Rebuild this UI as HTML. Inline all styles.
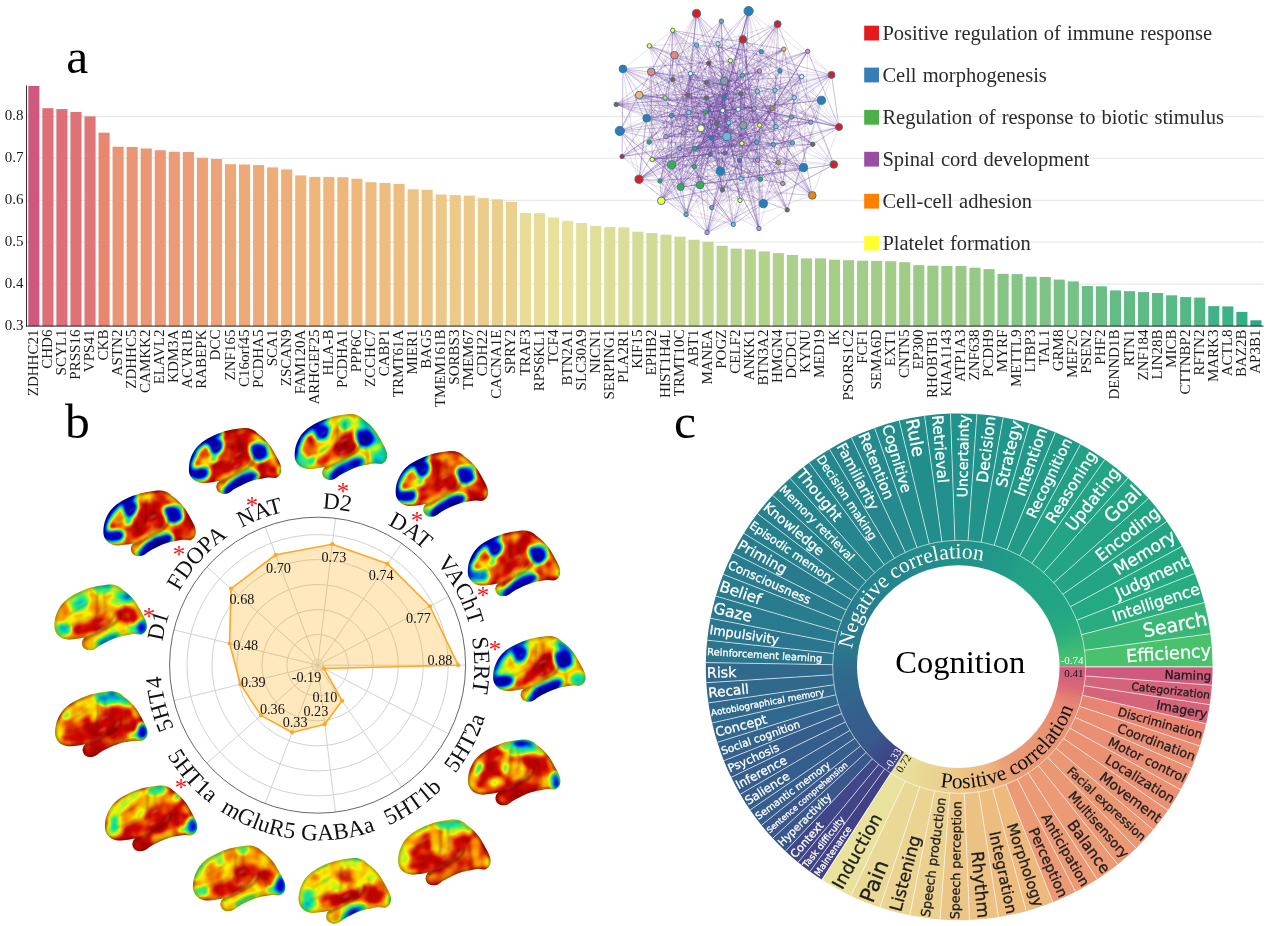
<!DOCTYPE html>
<html lang="en">
<head>
<meta charset="utf-8">
<title>Figure</title>
<style>
html,body{margin:0;padding:0;background:#fff;}
body{width:1269px;height:926px;overflow:hidden;}
svg{display:block;filter:blur(0.35px);}
</style>
</head>
<body>
<svg width="1269" height="926" viewBox="0 0 1269 926" role="img" aria-label="Figure with bar chart, network, radar chart with brain maps and sunburst chart">
<rect width="1269" height="926" fill="#fff"/>
<g id="bars">
<line x1="27" x2="1263.5" y1="284.1" y2="284.1" stroke="#e9e9e9" stroke-width="1.3"/>
<line x1="27" x2="1263.5" y1="242.2" y2="242.2" stroke="#e9e9e9" stroke-width="1.3"/>
<line x1="27" x2="1263.5" y1="200.3" y2="200.3" stroke="#e9e9e9" stroke-width="1.3"/>
<line x1="27" x2="1263.5" y1="158.4" y2="158.4" stroke="#e9e9e9" stroke-width="1.3"/>
<line x1="27" x2="1263.5" y1="116.5" y2="116.5" stroke="#e9e9e9" stroke-width="1.3"/>
<rect x="28.3" y="86" width="11.1" height="240" fill="#cf597e"/>
<rect x="42.35" y="108.2" width="11.1" height="217.8" fill="#dc6f77"/>
<rect x="56.39" y="109.1" width="11.1" height="216.9" fill="#dc6f77"/>
<rect x="70.44" y="112" width="11.1" height="214" fill="#de7276"/>
<rect x="84.49" y="116.4" width="11.1" height="209.6" fill="#e07675"/>
<rect x="98.53" y="132.7" width="11.1" height="193.3" fill="#e88671"/>
<rect x="112.58" y="146.7" width="11.1" height="179.3" fill="#ea9574"/>
<rect x="126.63" y="147" width="11.1" height="179" fill="#ea9674"/>
<rect x="140.68" y="148.5" width="11.1" height="177.5" fill="#ea9774"/>
<rect x="154.72" y="150.2" width="11.1" height="175.8" fill="#eb9975"/>
<rect x="168.77" y="151.7" width="11.1" height="174.3" fill="#eb9b75"/>
<rect x="182.82" y="152" width="11.1" height="174" fill="#eb9b75"/>
<rect x="196.86" y="157.8" width="11.1" height="168.2" fill="#eca176"/>
<rect x="210.91" y="159" width="11.1" height="167" fill="#eca376"/>
<rect x="224.96" y="164.2" width="11.1" height="161.8" fill="#eda877"/>
<rect x="239.01" y="164.5" width="11.1" height="161.5" fill="#eda977"/>
<rect x="253.05" y="165.1" width="11.1" height="160.9" fill="#eda977"/>
<rect x="267.1" y="167.4" width="11.1" height="158.6" fill="#edac78"/>
<rect x="281.15" y="169.4" width="11.1" height="156.6" fill="#edae78"/>
<rect x="295.19" y="175.4" width="11.1" height="150.6" fill="#eeb479"/>
<rect x="309.24" y="176.9" width="11.1" height="149.1" fill="#eeb67a"/>
<rect x="323.29" y="176.9" width="11.1" height="149.1" fill="#eeb67a"/>
<rect x="337.33" y="177.2" width="11.1" height="148.8" fill="#eeb67b"/>
<rect x="351.38" y="178.7" width="11.1" height="147.3" fill="#eeb87c"/>
<rect x="365.43" y="182.2" width="11.1" height="143.8" fill="#edbb7f"/>
<rect x="379.48" y="183" width="11.1" height="143" fill="#edbc7f"/>
<rect x="393.52" y="184" width="11.1" height="142" fill="#edbd80"/>
<rect x="407.57" y="189.3" width="11.1" height="136.7" fill="#ecc384"/>
<rect x="421.62" y="189.8" width="11.1" height="136.2" fill="#ecc385"/>
<rect x="435.66" y="194.5" width="11.1" height="131.5" fill="#ecc888"/>
<rect x="449.71" y="195.1" width="11.1" height="130.9" fill="#ecc989"/>
<rect x="463.76" y="195.6" width="11.1" height="130.4" fill="#ecc989"/>
<rect x="477.8" y="198.1" width="11.1" height="127.9" fill="#ebcc8b"/>
<rect x="491.85" y="199.3" width="11.1" height="126.7" fill="#ebcd8c"/>
<rect x="505.9" y="201.9" width="11.1" height="124.1" fill="#ebd08e"/>
<rect x="519.95" y="213" width="11.1" height="113" fill="#eadb97"/>
<rect x="533.99" y="213.2" width="11.1" height="112.8" fill="#eadb97"/>
<rect x="548.04" y="217.5" width="11.1" height="108.5" fill="#e9e09a"/>
<rect x="562.09" y="220.8" width="11.1" height="105.2" fill="#e7e19b"/>
<rect x="576.13" y="223" width="11.1" height="103" fill="#e3e09a"/>
<rect x="590.18" y="225.8" width="11.1" height="100.2" fill="#dedf99"/>
<rect x="604.23" y="227.1" width="11.1" height="98.9" fill="#dcde98"/>
<rect x="618.27" y="227.4" width="11.1" height="98.6" fill="#dbde98"/>
<rect x="632.32" y="231.7" width="11.1" height="94.3" fill="#d4dc96"/>
<rect x="646.37" y="233" width="11.1" height="93" fill="#d2db95"/>
<rect x="660.41" y="234.7" width="11.1" height="91.3" fill="#cfda95"/>
<rect x="674.46" y="236.7" width="11.1" height="89.3" fill="#cbd994"/>
<rect x="688.51" y="239.8" width="11.1" height="86.2" fill="#c6d892"/>
<rect x="702.56" y="241.8" width="11.1" height="84.2" fill="#c3d791"/>
<rect x="716.6" y="245.8" width="11.1" height="80.2" fill="#bcd48f"/>
<rect x="730.65" y="248.6" width="11.1" height="77.4" fill="#b7d38e"/>
<rect x="744.7" y="249.3" width="11.1" height="76.7" fill="#b6d38d"/>
<rect x="758.74" y="251.4" width="11.1" height="74.6" fill="#b2d28c"/>
<rect x="772.79" y="253.1" width="11.1" height="72.9" fill="#afd18b"/>
<rect x="786.84" y="254.9" width="11.1" height="71.1" fill="#acd08b"/>
<rect x="800.88" y="258.4" width="11.1" height="67.6" fill="#a6ce89"/>
<rect x="814.93" y="258.4" width="11.1" height="67.6" fill="#a6ce89"/>
<rect x="828.98" y="259.7" width="11.1" height="66.3" fill="#a4cd88"/>
<rect x="843.03" y="260.2" width="11.1" height="65.8" fill="#a3cd88"/>
<rect x="857.07" y="260.7" width="11.1" height="65.3" fill="#a2cd88"/>
<rect x="871.12" y="260.9" width="11.1" height="65.1" fill="#a2cd88"/>
<rect x="885.17" y="261.2" width="11.1" height="64.8" fill="#a1cd87"/>
<rect x="899.21" y="262.2" width="11.1" height="63.8" fill="#9fcc87"/>
<rect x="913.26" y="265.1" width="11.1" height="60.9" fill="#9aca86"/>
<rect x="927.31" y="265.7" width="11.1" height="60.3" fill="#99ca86"/>
<rect x="941.36" y="265.9" width="11.1" height="60.1" fill="#98ca86"/>
<rect x="955.4" y="265.9" width="11.1" height="60.1" fill="#98ca86"/>
<rect x="969.45" y="267.7" width="11.1" height="58.3" fill="#94c986"/>
<rect x="983.5" y="269.1" width="11.1" height="56.9" fill="#91c886"/>
<rect x="997.54" y="273.8" width="11.1" height="52.2" fill="#87c586"/>
<rect x="1011.59" y="274.1" width="11.1" height="51.9" fill="#86c586"/>
<rect x="1025.64" y="276.7" width="11.1" height="49.3" fill="#80c486"/>
<rect x="1039.68" y="277" width="11.1" height="49" fill="#7fc386"/>
<rect x="1053.73" y="279.6" width="11.1" height="46.4" fill="#7ac286"/>
<rect x="1067.78" y="281.4" width="11.1" height="44.6" fill="#76c186"/>
<rect x="1081.83" y="286" width="11.1" height="40" fill="#6bbe86"/>
<rect x="1095.87" y="286.3" width="11.1" height="39.7" fill="#6bbe86"/>
<rect x="1109.92" y="290.4" width="11.1" height="35.6" fill="#62bc85"/>
<rect x="1123.97" y="291.2" width="11.1" height="34.8" fill="#60bb85"/>
<rect x="1138.01" y="292.1" width="11.1" height="33.9" fill="#5ebb85"/>
<rect x="1152.06" y="293" width="11.1" height="33" fill="#5cba85"/>
<rect x="1166.11" y="295.3" width="11.1" height="30.7" fill="#57b985"/>
<rect x="1180.15" y="297.1" width="11.1" height="28.9" fill="#53b885"/>
<rect x="1194.2" y="297.6" width="11.1" height="28.4" fill="#52b785"/>
<rect x="1208.25" y="306.1" width="11.1" height="19.9" fill="#3fb385"/>
<rect x="1222.3" y="306.4" width="11.1" height="19.6" fill="#3eb285"/>
<rect x="1236.34" y="311.9" width="11.1" height="14.1" fill="#35af86"/>
<rect x="1250.39" y="320.3" width="11.1" height="5.7" fill="#2aa988"/>
<line x1="26.5" x2="26.5" y1="85.5" y2="326.6" stroke="#1a1a1a" stroke-width="0.9"/>
<line x1="26" x2="1263.5" y1="326.1" y2="326.1" stroke="#1a1a1a" stroke-width="1"/>
<g font-family="'Liberation Serif', serif" font-size="15" fill="#1a1a1a" text-anchor="end">
<text x="23.4" y="329.7">0.3</text>
<text x="23.4" y="287.8">0.4</text>
<text x="23.4" y="245.9">0.5</text>
<text x="23.4" y="204">0.6</text>
<text x="23.4" y="162.1">0.7</text>
<text x="23.4" y="120.2">0.8</text>
</g>
<g font-family="'Liberation Serif', serif" font-size="15" fill="#1a1a1a" text-anchor="end">
<text transform="translate(37.85,329.6) rotate(-90)">ZDHHC21</text>
<text transform="translate(51.9,329.6) rotate(-90)">CHD6</text>
<text transform="translate(65.94,329.6) rotate(-90)">SCYL1</text>
<text transform="translate(79.99,329.6) rotate(-90)">PRSS16</text>
<text transform="translate(94.04,329.6) rotate(-90)">VPS41</text>
<text transform="translate(108.08,329.6) rotate(-90)">CKB</text>
<text transform="translate(122.13,329.6) rotate(-90)">ASTN2</text>
<text transform="translate(136.18,329.6) rotate(-90)">ZDHHC5</text>
<text transform="translate(150.23,329.6) rotate(-90)">CAMKK2</text>
<text transform="translate(164.27,329.6) rotate(-90)">ELAVL2</text>
<text transform="translate(178.32,329.6) rotate(-90)">KDM3A</text>
<text transform="translate(192.37,329.6) rotate(-90)">ACVR1B</text>
<text transform="translate(206.41,329.6) rotate(-90)">RABEPK</text>
<text transform="translate(220.46,329.6) rotate(-90)">DCC</text>
<text transform="translate(234.51,329.6) rotate(-90)">ZNF165</text>
<text transform="translate(248.56,329.6) rotate(-90)">C16orf45</text>
<text transform="translate(262.6,329.6) rotate(-90)">PCDHA5</text>
<text transform="translate(276.65,329.6) rotate(-90)">SCA1</text>
<text transform="translate(290.7,329.6) rotate(-90)">ZSCAN9</text>
<text transform="translate(304.74,329.6) rotate(-90)">FAM120A</text>
<text transform="translate(318.79,329.6) rotate(-90)">ARHGEF25</text>
<text transform="translate(332.84,329.6) rotate(-90)">HLA-B</text>
<text transform="translate(346.88,329.6) rotate(-90)">PCDHA1</text>
<text transform="translate(360.93,329.6) rotate(-90)">PPP6C</text>
<text transform="translate(374.98,329.6) rotate(-90)">ZCCHC7</text>
<text transform="translate(389.03,329.6) rotate(-90)">CABP1</text>
<text transform="translate(403.07,329.6) rotate(-90)">TRMT61A</text>
<text transform="translate(417.12,329.6) rotate(-90)">MIER1</text>
<text transform="translate(431.17,329.6) rotate(-90)">BAG5</text>
<text transform="translate(445.21,329.6) rotate(-90)">TMEM161B</text>
<text transform="translate(459.26,329.6) rotate(-90)">SORBS3</text>
<text transform="translate(473.31,329.6) rotate(-90)">TMEM67</text>
<text transform="translate(487.35,329.6) rotate(-90)">CDH22</text>
<text transform="translate(501.4,329.6) rotate(-90)">CACNA1E</text>
<text transform="translate(515.45,329.6) rotate(-90)">SPRY2</text>
<text transform="translate(529.5,329.6) rotate(-90)">TRAF3</text>
<text transform="translate(543.54,329.6) rotate(-90)">RPS6KL1</text>
<text transform="translate(557.59,329.6) rotate(-90)">TCF4</text>
<text transform="translate(571.64,329.6) rotate(-90)">BTN2A1</text>
<text transform="translate(585.68,329.6) rotate(-90)">SLC30A9</text>
<text transform="translate(599.73,329.6) rotate(-90)">NICN1</text>
<text transform="translate(613.78,329.6) rotate(-90)">SERPING1</text>
<text transform="translate(627.82,329.6) rotate(-90)">PLA2R1</text>
<text transform="translate(641.87,329.6) rotate(-90)">KIF15</text>
<text transform="translate(655.92,329.6) rotate(-90)">EPHB2</text>
<text transform="translate(669.96,329.6) rotate(-90)">HIST1H4L</text>
<text transform="translate(684.01,329.6) rotate(-90)">TRMT10C</text>
<text transform="translate(698.06,329.6) rotate(-90)">ABT1</text>
<text transform="translate(712.11,329.6) rotate(-90)">MANEA</text>
<text transform="translate(726.15,329.6) rotate(-90)">POGZ</text>
<text transform="translate(740.2,329.6) rotate(-90)">CELF2</text>
<text transform="translate(754.25,329.6) rotate(-90)">ANKK1</text>
<text transform="translate(768.29,329.6) rotate(-90)">BTN3A2</text>
<text transform="translate(782.34,329.6) rotate(-90)">HMGN4</text>
<text transform="translate(796.39,329.6) rotate(-90)">DCDC1</text>
<text transform="translate(810.43,329.6) rotate(-90)">KYNU</text>
<text transform="translate(824.48,329.6) rotate(-90)">MED19</text>
<text transform="translate(838.53,329.6) rotate(-90)">IK</text>
<text transform="translate(852.58,329.6) rotate(-90)">PSORS1C2</text>
<text transform="translate(866.62,329.6) rotate(-90)">FCF1</text>
<text transform="translate(880.67,329.6) rotate(-90)">SEMA6D</text>
<text transform="translate(894.72,329.6) rotate(-90)">EXT1</text>
<text transform="translate(908.76,329.6) rotate(-90)">CNTN5</text>
<text transform="translate(922.81,329.6) rotate(-90)">EP300</text>
<text transform="translate(936.86,329.6) rotate(-90)">RHOBTB1</text>
<text transform="translate(950.9,329.6) rotate(-90)">KIAA1143</text>
<text transform="translate(964.95,329.6) rotate(-90)">ATP1A3</text>
<text transform="translate(979,329.6) rotate(-90)">ZNF638</text>
<text transform="translate(993.05,329.6) rotate(-90)">PCDH9</text>
<text transform="translate(1007.09,329.6) rotate(-90)">MYRF</text>
<text transform="translate(1021.14,329.6) rotate(-90)">METTL9</text>
<text transform="translate(1035.19,329.6) rotate(-90)">LTBP3</text>
<text transform="translate(1049.23,329.6) rotate(-90)">TAL1</text>
<text transform="translate(1063.28,329.6) rotate(-90)">GRM8</text>
<text transform="translate(1077.33,329.6) rotate(-90)">MEF2C</text>
<text transform="translate(1091.38,329.6) rotate(-90)">PSEN2</text>
<text transform="translate(1105.42,329.6) rotate(-90)">PHF2</text>
<text transform="translate(1119.47,329.6) rotate(-90)">DENND1B</text>
<text transform="translate(1133.52,329.6) rotate(-90)">RTN1</text>
<text transform="translate(1147.56,329.6) rotate(-90)">ZNF184</text>
<text transform="translate(1161.61,329.6) rotate(-90)">LIN28B</text>
<text transform="translate(1175.66,329.6) rotate(-90)">MICB</text>
<text transform="translate(1189.7,329.6) rotate(-90)">CTTNBP2</text>
<text transform="translate(1203.75,329.6) rotate(-90)">RFTN2</text>
<text transform="translate(1217.8,329.6) rotate(-90)">MARK3</text>
<text transform="translate(1231.85,329.6) rotate(-90)">ACTL8</text>
<text transform="translate(1245.89,329.6) rotate(-90)">BAZ2B</text>
<text transform="translate(1259.94,329.6) rotate(-90)">AP3B1</text>
</g>
</g>
<g id="network">
<path d="M665.1 97.9L724 97.2M639.2 95.1L686.1 214.5M756.6 142.3L792.4 142.8M812.3 195.4L759.7 125.2M680.7 187.1L821.4 100.3M776 126.7L740 200.3M671.6 164.8L688.7 112.5M696.5 13.5L775 90.2M783.8 49.2L724.2 81.1M739.5 160.4L787.2 209.9M730.4 60.6L710.2 154.4M718 43.8L763.3 203.7M616.2 104.4L773.5 144.6M639.2 95.1L722.4 189.9M696.5 13.5L708.7 63.2M700.1 185L833.8 164.5M726.8 136.6L758.9 228.5M740.8 93.8L787.2 209.9M807.7 51.3L688.7 112.5M619.8 130.9L761.3 51.6M622.1 156.5L672.7 79.5M763.3 203.7L782.8 183.5M718 43.8L742.4 75.4M721.4 21.2L679.7 148.5M661.3 200.8L757.6 160.1M661.3 200.8L779.9 71M616.2 104.4L739.5 160.4M724 97.2L649.1 142M741.8 143.3L649.1 142M782.8 183.5L707.1 232.4M646.7 118.2L690.5 73.6M794.2 97.7L665.9 136.6M724 97.2L792.4 142.8M672.7 30.3L688.7 112.5M661.3 200.8L730.4 60.6M772.2 108.3L756.6 142.3M616.2 104.4L757.6 160.1M646.7 118.2L783.8 49.2M718 43.8L651.2 71.8M833.8 164.5L679.7 148.5M724.2 81.1L694.2 166.6M738.2 109.3L758.9 228.5M721.4 21.2L700.1 185M724 97.2L652.2 159.4M761.3 51.6L711.8 207.6M651.2 71.8L639 179.3M763.3 203.7L724.2 81.1M696.5 45.1L700.1 185M839 127L759.5 71M787.2 209.9L758.9 228.5M705.6 111.9L741.8 143.3M720.3 171L688.7 112.5M720.3 171L763.3 203.7M759.7 125.2L725 153.1M730.4 60.6L672.7 79.5M674.5 55.2L772.2 108.3M801.7 76.7L711.8 207.6M775 90.2L686.1 214.5M700.1 185L722.7 110.6M674.5 55.2L831.5 74.9M742.4 75.4L728.6 122.6M740.8 93.8L743.4 125.4M812.3 195.4L741.8 143.3M721.4 21.2L706.3 97.9M721.4 21.2L810.8 122.3M708.7 63.2L740 200.3M672.7 30.3L757.6 160.1M671.4 115.6L773.5 144.6M761.3 51.6L757.4 91.2M742.9 39.4L763.3 203.7M718 43.8L726.8 136.6M672.7 30.3L711 137.9M688.7 112.5L810.8 122.3M757.6 160.1L778.4 162.7M779.9 71L801.7 76.7M720.3 171L801.7 76.7M720.3 171L708.7 63.2M831.5 74.9L683.3 132.9M720.3 171L730.4 60.6M708.7 63.2L725 153.1M783.8 49.2L812.8 144.3M720.3 171L831.5 74.9M708.7 63.2L743.4 125.4M651.2 71.8L724.2 81.1M757.4 91.2L671.4 115.6M740.8 93.8L810.8 122.3M705.6 111.9L776 126.7M696.5 45.1L649.1 142M690.5 73.6L694.9 148.5M619.8 130.9L722.7 110.6M622.9 68.9L724.2 81.1M739.5 160.4L758.9 228.5M773.5 144.6L694.9 148.5M680.7 187.1L700.1 185M706.3 82.4L782.8 183.5M646.7 118.2L724 97.2M759.5 71L743.4 125.4M672.7 30.3L639 179.3M716.7 123.3L739.5 160.4M661.3 200.8L671.4 115.6M722.7 110.6L665.9 136.6M646.7 118.2L694.9 148.5M706.3 82.4L791.6 117.1M759.5 71L776 126.7M649.1 142L741.1 178.5M671.4 115.6L694.2 166.6M821.4 100.3L778.4 162.7M708.7 63.2L665.9 136.6M763.3 203.7L739.5 160.4M680.7 187.1L679.7 148.5M720.3 171L711 137.9M680.7 187.1L722.7 110.6M742.4 75.4L741.1 178.5M742.9 39.4L776 126.7M722.7 110.6L700.9 128.3M696.5 45.1L757.4 91.2M700.1 185L683.3 132.9M639.2 95.1L711 137.9M810.8 122.3L759.7 125.2M622.1 156.5L686.1 214.5M661.3 200.8L724.2 81.1M646.7 118.2L831.5 74.9M743.4 125.4L758.9 228.5M651.2 71.8L740.8 93.8M708.7 63.2L812.8 144.3M687.7 95.1L660 180.9M687.7 95.1L705.6 111.9M754.3 108.6L772.2 108.3M807.7 51.3L754.3 108.6M724.2 81.1L740.8 93.8M616.2 104.4L783.8 49.2M616.2 104.4L779.9 71M833.8 164.5L759.5 71M622.9 68.9L733.3 224.4M651.2 71.8L686.1 214.5M711 137.9L773.5 144.6M779.9 71L707.1 232.4M661.3 200.8L716.7 123.3M743.4 125.4L711.8 207.6M726.8 136.6L694.2 166.6M726.8 136.6L741.8 143.3M700.1 185L778.4 162.7M742.9 39.4L690.5 73.6M711 137.9L694.9 148.5M679.7 148.5L782.8 183.5M696.5 45.1L724.2 81.1M724 97.2L812.8 144.3M812.8 144.3L741.1 178.5M672.7 79.5L700.9 128.3M683.3 132.9L710.2 154.4M661.3 200.8L733.3 224.4M740.8 93.8L757.6 160.1M639 179.3L728.6 122.6M821.4 100.3L665.1 97.9M705.6 111.9L694.9 148.5M622.1 156.5L649.1 142M672.7 30.3L716.7 123.3M720.3 171L782.8 183.5M833.8 164.5L801.7 76.7M794.2 97.7L778.4 162.7M622.1 156.5L665.9 136.6M801.7 76.7L757.6 160.1M773.5 144.6L812.8 144.3M706.3 82.4L759.5 71M708.7 63.2L728.6 122.6M690.5 73.6L738.2 109.3M839 127L687.7 95.1M649.3 45.9L700.1 185M639 179.3L773.5 144.6M706.3 97.9L725 153.1M821.4 100.3L754.3 108.6M722.7 110.6L694.9 148.5M831.5 74.9L706.3 97.9M743.4 125.4L679.7 148.5M794.2 97.7L810.8 122.3M794.2 97.7L743.4 125.4M649.3 45.9L756.6 142.3M661.3 200.8L776 126.7M661.3 200.8L671.6 164.8M807.7 51.3L706.3 82.4M763.3 203.7L730.4 60.6M773.5 144.6L725 153.1M622.9 68.9L728.6 122.6M783.8 49.2L742.4 75.4M803.5 167.6L778.4 162.7M639 179.3L776 126.7M686.1 214.5L733.3 224.4M821.4 100.3L711.8 207.6M616.2 104.4L711 137.9M649.1 142L722.4 189.9M672.7 79.5L724 97.2M700.9 128.3L743.4 125.4M801.7 76.7L694.9 148.5M759.5 71L710.2 154.4M679.7 148.5L660 180.9M687.7 95.1L652.2 159.4M639 179.3L763.3 203.7M757.4 91.2L743.4 125.4M803.5 167.6L792.4 142.8M651.2 71.8L649.1 142M639.2 95.1L724 97.2M803.5 167.6L671.4 115.6M763.3 203.7L759.7 125.2M748.6 11.1L724 97.2M674.5 55.2L728.6 122.6M741.8 143.3L778.4 162.7M759.5 71L792.4 142.8M696.5 13.5L791.6 117.1M694.2 166.6L741.1 178.5M616.2 104.4L686.1 214.5M791.6 117.1L716.7 123.3M724.2 81.1L773.5 144.6M651.2 71.8L622.9 68.9M708.7 63.2L773.5 144.6M671.6 164.8L763.3 203.7M803.5 167.6L807.7 51.3M833.8 164.5L652.2 159.4M742.9 39.4L649.3 45.9M728.6 122.6L740 200.3M742.9 39.4L680.7 187.1M724.2 81.1L722.7 110.6M716.7 123.3L782.8 183.5M783.8 49.2L694.9 148.5M700.1 185L792.4 142.8M779.9 71L759.7 125.2M821.4 100.3L783.8 49.2M777.6 24.1L728.6 122.6M690.5 73.6L679.7 148.5M791.6 117.1L683.3 132.9M687.7 95.1L722.4 189.9M725 153.1L652.2 159.4M821.4 100.3L707.1 232.4M708.7 63.2L711 137.9M696.5 13.5L660 180.9M757.4 91.2L772.2 108.3M649.3 45.9L839 127M649.3 45.9L821.4 100.3M759.5 71L722.7 110.6M742.9 39.4L821.4 100.3M738.2 109.3L739.5 160.4M763.3 203.7L688.7 112.5M761.3 51.6L779.9 71M665.9 136.6L711 137.9M831.5 74.9L787.2 209.9M807.7 51.3L705.6 111.9M690.5 73.6L743.4 125.4M671.6 164.8L711 137.9M783.8 49.2L730.4 60.6M639 179.3L711.8 207.6M839 127L773.5 144.6M730.4 60.6L711 137.9M839 127L756.6 142.3M649.3 45.9L680.7 187.1M810.8 122.3L773.5 144.6M803.5 167.6L688.7 112.5M757.4 91.2L740 200.3M831.5 74.9L743.4 125.4M743.4 125.4L759.7 125.2M792.4 142.8L694.9 148.5M722.7 110.6L710.2 154.4M754.3 108.6L759.7 125.2M720.3 171L733.3 224.4M672.7 79.5L724.2 81.1M700.1 185L710.2 154.4M671.6 164.8L720.3 171M720.3 171L757.6 160.1M721.4 21.2L646.7 118.2M748.6 11.1L831.5 74.9M742.4 75.4L724 97.2M748.6 11.1L743.4 125.4M775 90.2L773.5 144.6M720.3 171L725 153.1M810.8 122.3L728.6 122.6M741.8 143.3L686.1 214.5M696.5 45.1L671.6 164.8M724.2 81.1L801.7 76.7M748.6 11.1L722.4 189.9M724 97.2L733.3 224.4M622.9 68.9L772.2 108.3M721.4 21.2L792.4 142.8M833.8 164.5L706.3 82.4M646.7 118.2L622.1 156.5M679.7 148.5L707.1 232.4M619.8 130.9L726.8 136.6M665.1 97.9L756.6 142.3M748.6 11.1L700.9 128.3M779.9 71L725 153.1M708.7 63.2L707.1 232.4M708.7 63.2L652.2 159.4M803.5 167.6L724.2 81.1M619.8 130.9L686.1 214.5M671.6 164.8L738.2 109.3M778.4 162.7L733.3 224.4M639.2 95.1L756.6 142.3M671.6 164.8L705.6 111.9M687.7 95.1L649.1 142M616.2 104.4L740.8 93.8M619.8 130.9L757.6 160.1M639 179.3L726.8 136.6M622.9 68.9L688.7 112.5M696.5 13.5L679.7 148.5M801.7 76.7L722.4 189.9M672.7 30.3L812.3 195.4M646.7 118.2L706.3 82.4M680.7 187.1L794.2 97.7M726.8 136.6L652.2 159.4M728.6 122.6L711 137.9M807.7 51.3L724.2 81.1M639 179.3L760.5 179.3M742.9 39.4L833.8 164.5M716.7 123.3L743.4 125.4M720.3 171L839 127M741.1 178.5L733.3 224.4M757.6 160.1L733.3 224.4M619.8 130.9L738.2 109.3M639 179.3L756.6 142.3M687.7 95.1L722.7 110.6M619.8 130.9L639 179.3M622.9 68.9L760.5 179.3M754.3 108.6L791.6 117.1M672.7 30.3L651.2 71.8M773.5 144.6L778.4 162.7M807.7 51.3L742.4 75.4M722.7 110.6L660 180.9M696.5 13.5L672.7 79.5M742.4 75.4L686.1 214.5M730.4 60.6L726.8 136.6M705.6 111.9L778.4 162.7M680.7 187.1L772.2 108.3M740.8 93.8L757.4 91.2M700.1 185L672.7 79.5M706.3 82.4L772.2 108.3M622.9 68.9L743.4 125.4M821.4 100.3L775 90.2M706.3 82.4L705.6 111.9M724 97.2L665.9 136.6M616.2 104.4L724.2 81.1M757.4 91.2L739.5 160.4M674.5 55.2L776 126.7M616.2 104.4L803.5 167.6M779.9 71L810.8 122.3M696.5 13.5L700.9 128.3M738.2 109.3L760.5 179.3M742.9 39.4L801.7 76.7M651.2 71.8L812.8 144.3M700.9 128.3L725 153.1M639.2 95.1L722.7 110.6M839 127L724 97.2M748.6 11.1L757.4 91.2M742.4 75.4L722.7 110.6M742.9 39.4L700.9 128.3M777.6 24.1L743.4 125.4M696.5 13.5L718 43.8M743.4 125.4L711 137.9M622.1 156.5L679.7 148.5M690.5 73.6L756.6 142.3M722.4 189.9L758.9 228.5M807.7 51.3L722.4 189.9M706.3 97.9L794.2 97.7M763.3 203.7L803.5 167.6M778.4 162.7L758.9 228.5M742.9 39.4L706.3 82.4M696.5 13.5L810.8 122.3M778.4 162.7L711.8 207.6M839 127L724.2 81.1M661.3 200.8L803.5 167.6M674.5 55.2L649.1 142M742.9 39.4L726.8 136.6M672.7 30.3L756.6 142.3M783.8 49.2L776 126.7M671.4 115.6L760.5 179.3M622.1 156.5L738.2 109.3M696.5 13.5L649.1 142M674.5 55.2L651.2 71.8M728.6 122.6L792.4 142.8M730.4 60.6L743.4 125.4M812.3 195.4L706.3 97.9M616.2 104.4L791.6 117.1M718 43.8L740 200.3M724 97.2L725 153.1M680.7 187.1L728.6 122.6M724 97.2L754.3 108.6M821.4 100.3L706.3 82.4M646.7 118.2L679.7 148.5M742.4 75.4L743.4 125.4M763.3 203.7L722.7 110.6M724.2 81.1L683.3 132.9M649.3 45.9L705.6 111.9M680.7 187.1L660 180.9M763.3 203.7L740.8 93.8M665.1 97.9L728.6 122.6M696.5 13.5L646.7 118.2M665.9 136.6L686.1 214.5M748.6 11.1L759.5 71M777.6 24.1L756.6 142.3M757.4 91.2L711.8 207.6M619.8 130.9L700.1 185M690.5 73.6L759.7 125.2M718 43.8L778.4 162.7M777.6 24.1L694.2 166.6M812.3 195.4L839 127M706.3 82.4L652.2 159.4M821.4 100.3L738.2 109.3M831.5 74.9L694.9 148.5M794.2 97.7L694.9 148.5M705.6 111.9L686.1 214.5M680.7 187.1L720.3 171M651.2 71.8L831.5 74.9M728.6 122.6L758.9 228.5M777.6 24.1L674.5 55.2M696.5 13.5L674.5 55.2M700.1 185L772.2 108.3M724 97.2L726.8 136.6M688.7 112.5L660 180.9M700.1 185L742.4 75.4M639 179.3L722.7 110.6M724.2 81.1L665.1 97.9M680.7 187.1L688.7 112.5M754.3 108.6L694.9 148.5M700.9 128.3L652.2 159.4M622.9 68.9L711.8 207.6M619.8 130.9L724 97.2M726.8 136.6L722.4 189.9M672.7 30.3L622.9 68.9M671.6 164.8L772.2 108.3M757.6 160.1L787.2 209.9M674.5 55.2L710.2 154.4M706.3 97.9L740.8 93.8M812.3 195.4L671.4 115.6M812.3 195.4L710.2 154.4M639 179.3L660 180.9M812.3 195.4L772.2 108.3M833.8 164.5L743.4 125.4M794.2 97.7L686.1 214.5M742.4 75.4L711 137.9M728.6 122.6L649.1 142M649.3 45.9L757.4 91.2M706.3 97.9L791.6 117.1M724.2 81.1L738.2 109.3M801.7 76.7L706.3 97.9M783.8 49.2L773.5 144.6M763.3 203.7L792.4 142.8M791.6 117.1L711.8 207.6M777.6 24.1L787.2 209.9M742.4 75.4L705.6 111.9M696.5 45.1L730.4 60.6M639 179.3L694.9 148.5M622.9 68.9L740.8 93.8M812.3 195.4L722.4 189.9M671.6 164.8L722.7 110.6M661.3 200.8L688.7 112.5M711 137.9L758.9 228.5M651.2 71.8L739.5 160.4M839 127L801.7 76.7M639.2 95.1L708.7 63.2M616.2 104.4L690.5 73.6M777.6 24.1L831.5 74.9M812.3 195.4L716.7 123.3M700.1 185L652.2 159.4M619.8 130.9L711.8 207.6M706.3 82.4L775 90.2M775 90.2L772.2 108.3M639 179.3L679.7 148.5M724 97.2L741.1 178.5M616.2 104.4L792.4 142.8M730.4 60.6L778.4 162.7M672.7 79.5L711 137.9M639 179.3L738.2 109.3M674.5 55.2L741.8 143.3M761.3 51.6L690.5 73.6M661.3 200.8L665.1 97.9M776 126.7L665.9 136.6M757.6 160.1L686.1 214.5M651.2 71.8L792.4 142.8M639 179.3L812.3 195.4M757.4 91.2L660 180.9M763.3 203.7L833.8 164.5M776 126.7L711 137.9M646.7 118.2L754.3 108.6M700.9 128.3L757.6 160.1M622.9 68.9L639 179.3M661.3 200.8L782.8 183.5M690.5 73.6L711 137.9M718 43.8L739.5 160.4M639.2 95.1L760.5 179.3M649.3 45.9L722.4 189.9M716.7 123.3L760.5 179.3M775 90.2L688.7 112.5M742.9 39.4L757.6 160.1M748.6 11.1L791.6 117.1M674.5 55.2L720.3 171M722.7 110.6L812.8 144.3M812.3 195.4L707.1 232.4M726.8 136.6L741.1 178.5M742.9 39.4L761.3 51.6M721.4 21.2L782.8 183.5M706.3 82.4L757.6 160.1M683.3 132.9L741.8 143.3M700.1 185L743.4 125.4M672.7 30.3L646.7 118.2M718 43.8L741.8 143.3M688.7 112.5L722.7 110.6M726.8 136.6L773.5 144.6M777.6 24.1L738.2 109.3M722.7 110.6L758.9 228.5M706.3 82.4L812.8 144.3M706.3 82.4L724.2 81.1M807.7 51.3L665.9 136.6M672.7 30.3L700.9 128.3M812.3 195.4L730.4 60.6M831.5 74.9L711 137.9M741.1 178.5L707.1 232.4M718 43.8L794.2 97.7M742.9 39.4L686.1 214.5M649.3 45.9L728.6 122.6M740 200.3L707.1 232.4M708.7 63.2L758.9 228.5M812.8 144.3L694.9 148.5M761.3 51.6L801.7 76.7M773.5 144.6L733.3 224.4M812.8 144.3L711.8 207.6M619.8 130.9L694.9 148.5M708.7 63.2L726.8 136.6M690.5 73.6L776 126.7M775 90.2L812.8 144.3M696.5 13.5L619.8 130.9M748.6 11.1L801.7 76.7M639.2 95.1L619.8 130.9M807.7 51.3L759.5 71M672.7 79.5L710.2 154.4M783.8 49.2L706.3 82.4M812.3 195.4L724 97.2M738.2 109.3L716.7 123.3M803.5 167.6L711.8 207.6M831.5 74.9L724.2 81.1M622.1 156.5L660 180.9M724 97.2L775 90.2M700.1 185L807.7 51.3M821.4 100.3L776 126.7M722.7 110.6L759.7 125.2M680.7 187.1L758.9 228.5M794.2 97.7L660 180.9M779.9 71L754.3 108.6M783.8 49.2L757.6 160.1M740.8 93.8L741.8 143.3M833.8 164.5L708.7 63.2M696.5 45.1L812.8 144.3M671.6 164.8L803.5 167.6M754.3 108.6L743.4 125.4M777.6 24.1L724 97.2M772.2 108.3L707.1 232.4M679.7 148.5L710.2 154.4M801.7 76.7L782.8 183.5M711.8 207.6L707.1 232.4M639.2 95.1L773.5 144.6M711 137.9L722.4 189.9M622.1 156.5L756.6 142.3M651.2 71.8L706.3 82.4M718 43.8L839 127M763.3 203.7L665.9 136.6M803.5 167.6L711 137.9M651.2 71.8L665.9 136.6M724.2 81.1L757.4 91.2M839 127L761.3 51.6M777.6 24.1L754.3 108.6M646.7 118.2L742.4 75.4M665.1 97.9L706.3 97.9" fill="none" stroke="#6a3d9a" stroke-opacity="0.3" stroke-width="0.55"/>
<path d="M839 127L760.5 179.3M671.6 164.8L728.6 122.6M775 90.2L733.3 224.4M639 179.3L743.4 125.4M661.3 200.8L706.3 82.4M775 90.2L754.3 108.6M748.6 11.1L716.7 123.3M728.6 122.6L725 153.1M672.7 30.3L665.9 136.6M740.8 93.8L812.8 144.3M661.3 200.8L728.6 122.6M742.9 39.4L756.6 142.3M652.2 159.4L787.2 209.9M760.5 179.3L782.8 183.5M721.4 21.2L687.7 95.1M812.3 195.4L783.8 49.2M812.8 144.3L652.2 159.4M759.5 71L711 137.9M671.6 164.8L671.4 115.6M696.5 13.5L757.6 160.1M803.5 167.6L741.1 178.5M722.7 110.6L726.8 136.6M738.2 109.3L660 180.9M730.4 60.6L787.2 209.9M807.7 51.3L711.8 207.6M622.1 156.5L783.8 49.2M651.2 71.8L757.4 91.2M759.7 125.2L660 180.9M706.3 82.4L760.5 179.3M740.8 93.8L741.1 178.5M690.5 73.6L683.3 132.9M706.3 97.9L722.4 189.9M724 97.2L740 200.3M688.7 112.5L782.8 183.5M738.2 109.3L707.1 232.4M619.8 130.9L706.3 97.9M839 127L831.5 74.9M759.5 71L687.7 95.1M680.7 187.1L652.2 159.4M718 43.8L757.4 91.2M639 179.3L700.9 128.3M741.8 143.3L758.9 228.5M696.5 13.5L740.8 93.8M649.3 45.9L706.3 82.4M622.9 68.9L700.9 128.3M696.5 13.5L728.6 122.6M728.6 122.6L652.2 159.4M801.7 76.7L716.7 123.3M741.8 143.3L756.6 142.3M738.2 109.3L683.3 132.9M748.6 11.1L649.1 142M730.4 60.6L694.2 166.6M661.3 200.8L660 180.9M639.2 95.1L680.7 187.1M665.9 136.6L726.8 136.6M763.3 203.7L801.7 76.7M777.6 24.1L700.9 128.3M639.2 95.1L665.1 97.9M742.4 75.4L652.2 159.4M671.4 115.6L810.8 122.3M688.7 112.5L738.2 109.3M721.4 21.2L812.3 195.4M777.6 24.1L705.6 111.9M839 127L754.3 108.6M773.5 144.6L782.8 183.5M821.4 100.3L787.2 209.9M660 180.9L707.1 232.4M694.2 166.6L722.4 189.9M694.9 148.5L760.5 179.3M791.6 117.1L757.6 160.1M742.4 75.4L687.7 95.1M724.2 81.1L688.7 112.5M639 179.3L716.7 123.3M619.8 130.9L733.3 224.4M748.6 11.1L720.3 171M839 127L791.6 117.1M721.4 21.2L722.7 110.6M721.4 21.2L616.2 104.4M622.9 68.9L622.1 156.5M661.3 200.8L710.2 154.4M716.7 123.3L726.8 136.6M803.5 167.6L660 180.9M619.8 130.9L660 180.9M718 43.8L831.5 74.9M742.9 39.4L722.7 110.6M696.5 13.5L687.7 95.1M674.5 55.2L665.1 97.9M741.8 143.3L787.2 209.9M742.9 39.4L794.2 97.7M722.7 110.6L738.2 109.3M672.7 79.5L705.6 111.9M671.6 164.8L754.3 108.6M622.9 68.9L686.1 214.5M810.8 122.3L652.2 159.4M672.7 79.5L683.3 132.9M674.5 55.2L742.4 75.4M728.6 122.6L726.8 136.6M671.4 115.6L686.1 214.5M646.7 118.2L738.2 109.3M759.7 125.2L758.9 228.5M639.2 95.1L728.6 122.6M639.2 95.1L754.3 108.6M716.7 123.3L725 153.1M639 179.3L707.1 232.4M718 43.8L724 97.2M777.6 24.1L706.3 82.4M803.5 167.6L716.7 123.3M649.3 45.9L739.5 160.4M616.2 104.4L706.3 97.9M672.7 30.3L619.8 130.9M661.3 200.8L722.7 110.6M665.9 136.6L683.3 132.9M646.7 118.2L639 179.3M700.9 128.3L726.8 136.6M721.4 21.2L726.8 136.6M651.2 71.8L652.2 159.4M651.2 71.8L683.3 132.9M649.3 45.9L674.5 55.2M724.2 81.1L686.1 214.5M696.5 45.1L803.5 167.6M776 126.7L652.2 159.4M665.1 97.9L743.4 125.4M639.2 95.1L720.3 171M763.3 203.7L733.3 224.4M622.9 68.9L722.7 110.6M672.7 30.3L812.8 144.3M794.2 97.7L726.8 136.6M687.7 95.1L738.2 109.3M777.6 24.1L833.8 164.5M619.8 130.9L728.6 122.6M651.2 71.8L743.4 125.4M690.5 73.6L716.7 123.3M748.6 11.1L718 43.8M775 90.2L776 126.7M716.7 123.3L733.3 224.4M646.7 118.2L741.8 143.3M672.7 30.3L783.8 49.2M671.4 115.6L728.6 122.6M777.6 24.1L616.2 104.4M722.7 110.6L776 126.7M674.5 55.2L726.8 136.6M616.2 104.4L772.2 108.3M700.1 185L733.3 224.4M812.3 195.4L754.3 108.6M759.5 71L754.3 108.6M839 127L694.2 166.6M757.4 91.2L776 126.7M651.2 71.8L728.6 122.6M700.1 185L705.6 111.9M696.5 45.1L741.1 178.5M756.6 142.3L760.5 179.3M741.8 143.3L679.7 148.5M742.9 39.4L754.3 108.6M616.2 104.4L728.6 122.6M721.4 21.2L639 179.3M716.7 123.3L683.3 132.9M696.5 45.1L722.4 189.9M683.3 132.9L649.1 142M831.5 74.9L760.5 179.3M661.3 200.8L724 97.2M710.2 154.4L652.2 159.4M741.8 143.3L652.2 159.4M742.9 39.4L742.4 75.4M801.7 76.7L772.2 108.3M821.4 100.3L705.6 111.9M748.6 11.1L741.1 178.5M680.7 187.1L724 97.2M680.7 187.1L738.2 109.3M720.3 171L707.1 232.4M690.5 73.6L700.9 128.3M700.1 185L707.1 232.4M622.9 68.9L730.4 60.6M839 127L690.5 73.6M700.9 128.3L716.7 123.3M639.2 95.1L738.2 109.3M720.3 171L706.3 82.4M831.5 74.9L741.8 143.3M794.2 97.7L782.8 183.5M801.7 76.7L705.6 111.9M740.8 93.8L739.5 160.4M661.3 200.8L760.5 179.3M730.4 60.6L759.7 125.2M652.2 159.4L694.2 166.6M680.7 187.1L833.8 164.5M724.2 81.1L741.8 143.3M661.3 200.8L772.2 108.3M833.8 164.5L707.1 232.4M708.7 63.2L787.2 209.9M742.4 75.4L759.5 71M690.5 73.6L694.2 166.6M680.7 187.1L754.3 108.6M710.2 154.4L760.5 179.3M622.1 156.5L810.8 122.3M783.8 49.2L687.7 95.1M754.3 108.6L707.1 232.4M672.7 30.3L724.2 81.1M694.9 148.5L740 200.3M705.6 111.9L700.9 128.3M742.4 75.4L759.7 125.2M831.5 74.9L775 90.2M759.5 71L665.9 136.6M748.6 11.1L700.1 185M792.4 142.8L679.7 148.5M821.4 100.3L810.8 122.3M690.5 73.6L706.3 82.4M672.7 30.3L726.8 136.6M690.5 73.6L660 180.9M622.1 156.5L706.3 97.9M740.8 93.8L756.6 142.3M646.7 118.2L792.4 142.8M672.7 30.3L801.7 76.7M651.2 71.8L754.3 108.6M690.5 73.6L775 90.2M748.6 11.1L710.2 154.4M639.2 95.1L741.8 143.3M759.5 71L705.6 111.9M680.7 187.1L706.3 97.9M777.6 24.1L773.5 144.6M801.7 76.7L725 153.1M812.3 195.4L705.6 111.9M738.2 109.3L791.6 117.1M639.2 95.1L740.8 93.8M791.6 117.1L756.6 142.3M716.7 123.3L686.1 214.5M724 97.2L694.2 166.6M724.2 81.1L759.7 125.2M679.7 148.5L733.3 224.4M710.2 154.4L741.1 178.5M807.7 51.3L739.5 160.4M696.5 13.5L680.7 187.1M671.6 164.8L741.8 143.3M720.3 171L700.9 128.3M783.8 49.2L683.3 132.9M720.3 171L716.7 123.3M674.5 55.2L700.1 185M696.5 45.1L761.3 51.6M839 127L807.7 51.3M803.5 167.6L694.9 148.5M687.7 95.1L758.9 228.5M672.7 30.3L672.7 79.5M680.7 187.1L741.1 178.5M740.8 93.8L700.9 128.3" fill="none" stroke="#5e3a9a" stroke-opacity="0.55" stroke-width="0.6"/>
<circle cx="696.5" cy="13.5" r="4.1" fill="#e41a1c" stroke="#2a7c9f" stroke-width="0.95"/>
<circle cx="748.6" cy="11.1" r="4.6" fill="#2f7bb6" stroke="#2a7c9f" stroke-width="0.95"/>
<circle cx="777.6" cy="24.1" r="3.5" fill="#e41a1c" stroke="#2a7c9f" stroke-width="0.95"/>
<circle cx="742.9" cy="39.4" r="3.8" fill="#e41a1c" stroke="#2a7c9f" stroke-width="0.95"/>
<circle cx="721.4" cy="21.2" r="2.2" fill="#7f9fb0" stroke="#2a7c9f" stroke-width="0.95"/>
<circle cx="672.7" cy="30.3" r="2.2" fill="#ffff33" stroke="#2a7c9f" stroke-width="0.95"/>
<circle cx="649.3" cy="45.9" r="2.2" fill="#ffff33" stroke="#2a7c9f" stroke-width="0.95"/>
<circle cx="696.5" cy="45.1" r="2.2" fill="#80b1d3" stroke="#2a7c9f" stroke-width="0.95"/>
<circle cx="718" cy="43.8" r="2.2" fill="#ccebc5" stroke="#2a7c9f" stroke-width="0.95"/>
<circle cx="674.5" cy="55.2" r="3.8" fill="#fb8072" stroke="#2a7c9f" stroke-width="0.95"/>
<circle cx="651.2" cy="71.8" r="3.8" fill="#fb8072" stroke="#2a7c9f" stroke-width="0.95"/>
<circle cx="622.9" cy="68.9" r="3.8" fill="#2f7bb6" stroke="#2a7c9f" stroke-width="0.95"/>
<circle cx="639.2" cy="95.1" r="3.8" fill="#fdb462" stroke="#2a7c9f" stroke-width="0.95"/>
<circle cx="616.2" cy="104.4" r="2.2" fill="#a65628" stroke="#2a7c9f" stroke-width="0.95"/>
<circle cx="646.7" cy="118.2" r="3.8" fill="#2f7bb6" stroke="#2a7c9f" stroke-width="0.95"/>
<circle cx="619.8" cy="130.9" r="4.6" fill="#2f7bb6" stroke="#2a7c9f" stroke-width="0.95"/>
<circle cx="622.1" cy="156.5" r="2.2" fill="#e41a1c" stroke="#2a7c9f" stroke-width="0.95"/>
<circle cx="639" cy="179.3" r="4.1" fill="#e41a1c" stroke="#2a7c9f" stroke-width="0.95"/>
<circle cx="661.3" cy="200.8" r="3.8" fill="#ffff33" stroke="#2a7c9f" stroke-width="0.95"/>
<circle cx="680.7" cy="187.1" r="3.5" fill="#41ab45" stroke="#2a7c9f" stroke-width="0.95"/>
<circle cx="700.1" cy="185" r="3.8" fill="#41ab45" stroke="#2a7c9f" stroke-width="0.95"/>
<circle cx="671.6" cy="164.8" r="4.1" fill="#41ab45" stroke="#2a7c9f" stroke-width="0.95"/>
<circle cx="720.3" cy="171" r="4.1" fill="#2f7bb6" stroke="#2a7c9f" stroke-width="0.95"/>
<circle cx="763.3" cy="203.7" r="4.1" fill="#2f7bb6" stroke="#2a7c9f" stroke-width="0.95"/>
<circle cx="812.3" cy="195.4" r="3.8" fill="#ff7f00" stroke="#2a7c9f" stroke-width="0.95"/>
<circle cx="803.5" cy="167.6" r="4.1" fill="#2f7bb6" stroke="#2a7c9f" stroke-width="0.95"/>
<circle cx="833.8" cy="164.5" r="3.8" fill="#e41a1c" stroke="#2a7c9f" stroke-width="0.95"/>
<circle cx="839" cy="127" r="3.5" fill="#e41a1c" stroke="#2a7c9f" stroke-width="0.95"/>
<circle cx="821.4" cy="100.3" r="4.1" fill="#2f7bb6" stroke="#2a7c9f" stroke-width="0.95"/>
<circle cx="831.5" cy="74.9" r="3.5" fill="#e41a1c" stroke="#2a7c9f" stroke-width="0.95"/>
<circle cx="807.7" cy="51.3" r="2.2" fill="#f781bf" stroke="#2a7c9f" stroke-width="0.95"/>
<circle cx="783.8" cy="49.2" r="2.2" fill="#fdb462" stroke="#2a7c9f" stroke-width="0.95"/>
<circle cx="761.3" cy="51.6" r="2.2" fill="#4a90c0" stroke="#2a7c9f" stroke-width="0.95"/>
<circle cx="708.7" cy="63.2" r="2.2" fill="#e41a1c" stroke="#2a7c9f" stroke-width="0.95"/>
<circle cx="730.4" cy="60.6" r="2.2" fill="#ffff33" stroke="#2a7c9f" stroke-width="0.95"/>
<circle cx="690.5" cy="73.6" r="2.2" fill="#f2f2f2" stroke="#2a7c9f" stroke-width="0.95"/>
<circle cx="672.7" cy="79.5" r="2.2" fill="#a65628" stroke="#2a7c9f" stroke-width="0.95"/>
<circle cx="706.3" cy="82.4" r="2.2" fill="#a65628" stroke="#2a7c9f" stroke-width="0.95"/>
<circle cx="724.2" cy="81.1" r="3.8" fill="#999999" stroke="#2a7c9f" stroke-width="0.95"/>
<circle cx="742.4" cy="75.4" r="2.2" fill="#7f9fb0" stroke="#2a7c9f" stroke-width="0.95"/>
<circle cx="759.5" cy="71" r="2.2" fill="#f781bf" stroke="#2a7c9f" stroke-width="0.95"/>
<circle cx="779.9" cy="71" r="2.2" fill="#4a90c0" stroke="#2a7c9f" stroke-width="0.95"/>
<circle cx="801.7" cy="76.7" r="2.2" fill="#fde0ef" stroke="#2a7c9f" stroke-width="0.95"/>
<circle cx="665.1" cy="97.9" r="2.2" fill="#b3de69" stroke="#2a7c9f" stroke-width="0.95"/>
<circle cx="687.7" cy="95.1" r="2.2" fill="#a65628" stroke="#2a7c9f" stroke-width="0.95"/>
<circle cx="706.3" cy="97.9" r="2.2" fill="#a65628" stroke="#2a7c9f" stroke-width="0.95"/>
<circle cx="724" cy="97.2" r="2.2" fill="#2f7bb6" stroke="#2a7c9f" stroke-width="0.95"/>
<circle cx="740.8" cy="93.8" r="2.2" fill="#a65628" stroke="#2a7c9f" stroke-width="0.95"/>
<circle cx="757.4" cy="91.2" r="2.2" fill="#8dd3c7" stroke="#2a7c9f" stroke-width="0.95"/>
<circle cx="775" cy="90.2" r="2.2" fill="#8dd3c7" stroke="#2a7c9f" stroke-width="0.95"/>
<circle cx="794.2" cy="97.7" r="2.2" fill="#b3cde3" stroke="#2a7c9f" stroke-width="0.95"/>
<circle cx="671.4" cy="115.6" r="2.2" fill="#4a90c0" stroke="#2a7c9f" stroke-width="0.95"/>
<circle cx="688.7" cy="112.5" r="2.2" fill="#8dd3c7" stroke="#2a7c9f" stroke-width="0.95"/>
<circle cx="705.6" cy="111.9" r="2.2" fill="#41ab45" stroke="#2a7c9f" stroke-width="0.95"/>
<circle cx="722.7" cy="110.6" r="2.2" fill="#ffffb3" stroke="#2a7c9f" stroke-width="0.95"/>
<circle cx="738.2" cy="109.3" r="2.2" fill="#f2f2f2" stroke="#2a7c9f" stroke-width="0.95"/>
<circle cx="754.3" cy="108.6" r="2.2" fill="#f781bf" stroke="#2a7c9f" stroke-width="0.95"/>
<circle cx="772.2" cy="108.3" r="2.2" fill="#ff7f00" stroke="#2a7c9f" stroke-width="0.95"/>
<circle cx="791.6" cy="117.1" r="2.2" fill="#7f9fb0" stroke="#2a7c9f" stroke-width="0.95"/>
<circle cx="810.8" cy="122.3" r="2.2" fill="#d687c0" stroke="#2a7c9f" stroke-width="0.95"/>
<circle cx="700.9" cy="128.3" r="3.5" fill="#ffffb3" stroke="#2a7c9f" stroke-width="0.95"/>
<circle cx="716.7" cy="123.3" r="2.2" fill="#a65628" stroke="#2a7c9f" stroke-width="0.95"/>
<circle cx="728.6" cy="122.6" r="2.2" fill="#8dd3c7" stroke="#2a7c9f" stroke-width="0.95"/>
<circle cx="743.4" cy="125.4" r="3.8" fill="#999999" stroke="#2a7c9f" stroke-width="0.95"/>
<circle cx="759.7" cy="125.2" r="2.2" fill="#ffff33" stroke="#2a7c9f" stroke-width="0.95"/>
<circle cx="776" cy="126.7" r="2.2" fill="#8dd3c7" stroke="#2a7c9f" stroke-width="0.95"/>
<circle cx="665.9" cy="136.6" r="2.2" fill="#f781bf" stroke="#2a7c9f" stroke-width="0.95"/>
<circle cx="683.3" cy="132.9" r="2.2" fill="#f781bf" stroke="#2a7c9f" stroke-width="0.95"/>
<circle cx="711" cy="137.9" r="2.2" fill="#2f7bb6" stroke="#2a7c9f" stroke-width="0.95"/>
<circle cx="726.8" cy="136.6" r="4.1" fill="#80b1d3" stroke="#2a7c9f" stroke-width="0.95"/>
<circle cx="741.8" cy="143.3" r="2.2" fill="#ffff33" stroke="#2a7c9f" stroke-width="0.95"/>
<circle cx="756.6" cy="142.3" r="2.2" fill="#7f9fb0" stroke="#2a7c9f" stroke-width="0.95"/>
<circle cx="773.5" cy="144.6" r="2.2" fill="#7f9fb0" stroke="#2a7c9f" stroke-width="0.95"/>
<circle cx="792.4" cy="142.8" r="2.2" fill="#7f9fb0" stroke="#2a7c9f" stroke-width="0.95"/>
<circle cx="812.8" cy="144.3" r="2.2" fill="#a65628" stroke="#2a7c9f" stroke-width="0.95"/>
<circle cx="649.1" cy="142" r="2.2" fill="#41ab45" stroke="#2a7c9f" stroke-width="0.95"/>
<circle cx="679.7" cy="148.5" r="2.2" fill="#f781bf" stroke="#2a7c9f" stroke-width="0.95"/>
<circle cx="694.9" cy="148.5" r="2.2" fill="#41ab45" stroke="#2a7c9f" stroke-width="0.95"/>
<circle cx="710.2" cy="154.4" r="2.2" fill="#984ea3" stroke="#2a7c9f" stroke-width="0.95"/>
<circle cx="725" cy="153.1" r="2.2" fill="#984ea3" stroke="#2a7c9f" stroke-width="0.95"/>
<circle cx="739.5" cy="160.4" r="2.2" fill="#984ea3" stroke="#2a7c9f" stroke-width="0.95"/>
<circle cx="757.6" cy="160.1" r="2.2" fill="#f781bf" stroke="#2a7c9f" stroke-width="0.95"/>
<circle cx="778.4" cy="162.7" r="2.2" fill="#ff7f00" stroke="#2a7c9f" stroke-width="0.95"/>
<circle cx="652.2" cy="159.4" r="2.2" fill="#ffff33" stroke="#2a7c9f" stroke-width="0.95"/>
<circle cx="694.2" cy="166.6" r="2.2" fill="#41ab45" stroke="#2a7c9f" stroke-width="0.95"/>
<circle cx="660" cy="180.9" r="2.2" fill="#41ab45" stroke="#2a7c9f" stroke-width="0.95"/>
<circle cx="741.1" cy="178.5" r="2.2" fill="#8dd3c7" stroke="#2a7c9f" stroke-width="0.95"/>
<circle cx="760.5" cy="179.3" r="2.2" fill="#41ab45" stroke="#2a7c9f" stroke-width="0.95"/>
<circle cx="782.8" cy="183.5" r="2.2" fill="#fb8072" stroke="#2a7c9f" stroke-width="0.95"/>
<circle cx="722.4" cy="189.9" r="2.2" fill="#a65628" stroke="#2a7c9f" stroke-width="0.95"/>
<circle cx="740" cy="200.3" r="2.2" fill="#ffff33" stroke="#2a7c9f" stroke-width="0.95"/>
<circle cx="711.8" cy="207.6" r="2.2" fill="#7f9fb0" stroke="#2a7c9f" stroke-width="0.95"/>
<circle cx="686.1" cy="214.5" r="2.2" fill="#7f9fb0" stroke="#2a7c9f" stroke-width="0.95"/>
<circle cx="787.2" cy="209.9" r="2.2" fill="#a65628" stroke="#2a7c9f" stroke-width="0.95"/>
<circle cx="733.3" cy="224.4" r="2.2" fill="#80b1d3" stroke="#2a7c9f" stroke-width="0.95"/>
<circle cx="707.1" cy="232.4" r="2.2" fill="#f781bf" stroke="#2a7c9f" stroke-width="0.95"/>
<circle cx="758.9" cy="228.5" r="2.2" fill="#f781bf" stroke="#2a7c9f" stroke-width="0.95"/>
</g>
<g id="legend">
<g font-family="'Liberation Serif', serif" font-size="20.5" fill="#2b2b2b" style="word-spacing:1px">
<rect x="864.2" y="25.7" width="14.8" height="14.8" fill="#e41a1c"/>
<text x="882.4" y="39.7">Positive regulation of immune response</text>
<rect x="864.2" y="67.6" width="14.8" height="14.8" fill="#377eb8"/>
<text x="882.4" y="81.6">Cell morphogenesis</text>
<rect x="864.2" y="109.9" width="14.8" height="14.8" fill="#4daf4a"/>
<text x="882.4" y="123.9">Regulation of response to biotic stimulus</text>
<rect x="864.2" y="151.8" width="14.8" height="14.8" fill="#984ea3"/>
<text x="882.4" y="165.8">Spinal cord development</text>
<rect x="864.2" y="193.8" width="14.8" height="14.8" fill="#ff7f00"/>
<text x="882.4" y="207.8">Cell-cell adhesion</text>
<rect x="864.2" y="235.7" width="14.8" height="14.8" fill="#ffff33"/>
<text x="882.4" y="249.7">Platelet formation</text>
</g>
</g>
<g id="radar">
<circle cx="317.6" cy="665.2" r="5.72" fill="none" stroke="#d2d2d2" stroke-width="1"/>
<circle cx="317.6" cy="665.2" r="30.7" fill="none" stroke="#d2d2d2" stroke-width="1"/>
<circle cx="317.6" cy="665.2" r="55.68" fill="none" stroke="#d2d2d2" stroke-width="1"/>
<circle cx="317.6" cy="665.2" r="80.66" fill="none" stroke="#d2d2d2" stroke-width="1"/>
<circle cx="317.6" cy="665.2" r="105.64" fill="none" stroke="#d2d2d2" stroke-width="1"/>
<circle cx="317.6" cy="665.2" r="130.62" fill="none" stroke="#d2d2d2" stroke-width="1"/>
<line x1="317.6" y1="665.2" x2="465.6" y2="665.2" stroke="#d2d2d2" stroke-width="1"/>
<line x1="317.6" y1="665.2" x2="448.65" y2="596.42" stroke="#d2d2d2" stroke-width="1"/>
<line x1="317.6" y1="665.2" x2="401.67" y2="543.4" stroke="#d2d2d2" stroke-width="1"/>
<line x1="317.6" y1="665.2" x2="335.44" y2="518.28" stroke="#d2d2d2" stroke-width="1"/>
<line x1="317.6" y1="665.2" x2="265.12" y2="526.82" stroke="#d2d2d2" stroke-width="1"/>
<line x1="317.6" y1="665.2" x2="206.82" y2="567.06" stroke="#d2d2d2" stroke-width="1"/>
<line x1="317.6" y1="665.2" x2="173.9" y2="629.78" stroke="#d2d2d2" stroke-width="1"/>
<line x1="317.6" y1="665.2" x2="173.9" y2="700.62" stroke="#d2d2d2" stroke-width="1"/>
<line x1="317.6" y1="665.2" x2="206.82" y2="763.34" stroke="#d2d2d2" stroke-width="1"/>
<line x1="317.6" y1="665.2" x2="265.12" y2="803.58" stroke="#d2d2d2" stroke-width="1"/>
<line x1="317.6" y1="665.2" x2="335.44" y2="812.12" stroke="#d2d2d2" stroke-width="1"/>
<line x1="317.6" y1="665.2" x2="401.67" y2="787" stroke="#d2d2d2" stroke-width="1"/>
<line x1="317.6" y1="665.2" x2="448.65" y2="733.98" stroke="#d2d2d2" stroke-width="1"/>
<circle cx="317.6" cy="665.2" r="148.0" fill="none" stroke="#555" stroke-width="0.9"/>
<path d="M458.21 665.2L429.94 606.24L387.54 563.87L332.29 544.21L275.71 554.75L231.05 588.52L229.58 643.51L240.5 684.2L260.96 715.37L292.1 732.44L324.76 724.19L342.13 700.74L323.77 668.44Z" fill="#ffa500" fill-opacity="0.26" stroke="#ffa726" stroke-width="1.6" stroke-linejoin="round"/>
<circle cx="458.21" cy="665.2" r="2.1" fill="#ffa726"/>
<circle cx="429.94" cy="606.24" r="2.1" fill="#ffa726"/>
<circle cx="387.54" cy="563.87" r="2.1" fill="#ffa726"/>
<circle cx="332.29" cy="544.21" r="2.1" fill="#ffa726"/>
<circle cx="275.71" cy="554.75" r="2.1" fill="#ffa726"/>
<circle cx="231.05" cy="588.52" r="2.1" fill="#ffa726"/>
<circle cx="229.58" cy="643.51" r="2.1" fill="#ffa726"/>
<circle cx="240.5" cy="684.2" r="2.1" fill="#ffa726"/>
<circle cx="260.96" cy="715.37" r="2.1" fill="#ffa726"/>
<circle cx="292.1" cy="732.44" r="2.1" fill="#ffa726"/>
<circle cx="324.76" cy="724.19" r="2.1" fill="#ffa726"/>
<circle cx="342.13" cy="700.74" r="2.1" fill="#ffa726"/>
<circle cx="323.77" cy="668.44" r="2.1" fill="#ffa726"/>
<g font-family="'Liberation Serif', serif" font-size="14.2" fill="#111" text-anchor="middle">
<text x="439.91" y="664.8">0.88</text>
<text x="418.49" y="623.33">0.77</text>
<text x="381.17" y="579.79">0.74</text>
<text x="333.82" y="561.82">0.73</text>
<text x="278.53" y="572.88">0.70</text>
<text x="241.9" y="603.63">0.68</text>
<text x="245.7" y="649.59">0.48</text>
<text x="253.3" y="686.92">0.39</text>
<text x="272.31" y="714.22">0.36</text>
<text x="295.12" y="726.66">0.33</text>
<text x="315.85" y="716.29">0.23</text>
<text x="324.84" y="702.12">0.10</text>
<text x="306.52" y="682.42">-0.19</text>
</g>
<g font-family="'Liberation Serif', serif" font-size="23.2" fill="#111" text-anchor="middle">
<path id="rl0" d="M371.23 517.86A156.8 156.8 0 0 1 371.23 812.54" fill="none"/><text><textPath href="#rl0" startOffset="50%">SERT</textPath></text>
<path id="rl1" d="M296.61 509.81A156.8 156.8 0 0 1 433.56 770.74" fill="none"/><text><textPath href="#rl1" startOffset="50%">VAChT</textPath></text>
<path id="rl2" d="M226.8 537.36A156.8 156.8 0 0 1 469.33 704.77" fill="none"/><text><textPath href="#rl2" startOffset="50%">DAT</textPath></text>
<path id="rl3" d="M177.79 594.2A156.8 156.8 0 0 1 470.33 629.72" fill="none"/><text><textPath href="#rl3" startOffset="50%">D2</textPath></text>
<path id="rl4" d="M160.81 667.31A156.8 156.8 0 0 1 436.35 562.81" fill="none"/><text><textPath href="#rl4" startOffset="50%">NAT</textPath></text>
<path id="rl5" d="M179.75 739.93A156.8 156.8 0 0 1 375.17 519.35" fill="none"/><text><textPath href="#rl5" startOffset="50%">FDOPA</textPath></text>
<path id="rl6" d="M230.27 795.43A156.8 156.8 0 0 1 300.79 509.3" fill="none"/><text><textPath href="#rl6" startOffset="50%">D1</textPath></text>
<path id="rl7" d="M300.79 821.1A156.8 156.8 0 0 1 230.27 534.97" fill="none"/><text><textPath href="#rl7" startOffset="50%">5HT4</textPath></text>
<path id="rl8" d="M163.58 581.71A175.2 175.2 0 0 0 381.92 828.17" fill="none"/><text><textPath href="#rl8" startOffset="50%">5HT1a</textPath></text>
<path id="rl9" d="M142.42 662.85A175.2 175.2 0 0 0 450.29 779.61" fill="none"/><text><textPath href="#rl9" startOffset="50%">mGluR5</textPath></text>
<path id="rl10" d="M161.39 744.53A175.2 175.2 0 0 0 488.26 704.84" fill="none"/><text><textPath href="#rl10" startOffset="50%">GABAa</textPath></text>
<path id="rl11" d="M216.15 808.04A175.2 175.2 0 0 0 487.13 620.99" fill="none"/><text><textPath href="#rl11" startOffset="50%">5HT1b</textPath></text>
<path id="rl12" d="M294.15 838.82A175.2 175.2 0 0 0 447.17 547.27" fill="none"/><text><textPath href="#rl12" startOffset="50%">5HT2a</textPath></text>
</g>
<g font-family="'Liberation Serif', serif" font-size="25" fill="#f2181c" text-anchor="middle">
<text x="252" y="514.2">*</text>
<text x="343" y="500.2">*</text>
<text x="417" y="529.2">*</text>
<text x="483" y="604.2">*</text>
<text x="495" y="658.2">*</text>
<text x="179" y="563.2">*</text>
<text x="149" y="625.2">*</text>
<text x="181" y="796.2">*</text>
</g>
</g>
<g id="brains">
<defs>
<clipPath id="bclip"><path d="M0 41.3C-0.03 38.45 0.33 34.52 1.5 31C2.67 27.48 4.62 23.32 7 20.2C9.38 17.08 12.05 14.77 15.8 12.3C19.55 9.83 24.88 7.2 29.5 5.4C34.12 3.6 38.9 2.4 43.5 1.5C48.1 0.6 53.65 -0.08 57.1 0C60.55 0.08 62.13 1 64.2 2C66.27 3 67.62 4.5 69.5 6C71.38 7.5 73.5 9 75.5 11C77.5 13 79.58 15.25 81.5 18C83.42 20.75 85.35 24.47 87 27.5C88.65 30.53 90.5 33.73 91.4 36.2C92.3 38.67 92.53 40.45 92.4 42.3C92.27 44.15 91.58 46.05 90.6 47.3C89.62 48.55 88.18 49.45 86.5 49.8C84.82 50.15 82.63 49.32 80.5 49.4C78.37 49.48 76.47 49.8 73.7 50.3C70.93 50.8 67.15 51.4 63.9 52.4C60.65 53.4 57.27 54.87 54.2 56.3C51.13 57.73 47.88 59.58 45.5 61C43.12 62.42 41.68 64 39.9 64.8C38.12 65.6 36.47 65.95 34.8 65.8C33.13 65.65 31.12 64.98 29.9 63.9C28.68 62.82 27.73 60.8 27.5 59.3C27.27 57.8 28.1 55.95 28.5 54.9C28.9 53.85 30.8 53.12 29.9 53C29 52.88 25.85 53.87 23.1 54.2C20.35 54.53 16.15 55.2 13.4 55C10.65 54.8 8.55 54.15 6.6 53C4.65 51.85 2.8 50.05 1.7 48.1C0.6 46.15 0.03 44.15 0 41.3Z"/></clipPath>
<filter id="jet0" x="-15%" y="-20%" width="130%" height="140%" color-interpolation-filters="sRGB">
<feGaussianBlur stdDeviation="1.9" result="f"/>
<feTurbulence type="fractalNoise" baseFrequency="0.065" numOctaves="2" seed="3" result="n"/>
<feColorMatrix in="n" type="matrix" values="1 0 0 0 0 1 0 0 0 0 1 0 0 0 0 0 0 0 0 1" result="ng"/>
<feComposite in="f" in2="ng" operator="arithmetic" k1="0" k2="1" k3="0.32" k4="-0.16"/>
<feComponentTransfer><feFuncR type="table" tableValues="0 0 0 0 0.35 0.98 0.97 0.82 0.6"/><feFuncG type="table" tableValues="0 0 0.4 0.85 0.95 0.95 0.5 0.03 0"/><feFuncB type="table" tableValues="0.6 0.85 0.9 0.7 0.35 0 0 0 0"/><feFuncA type="linear" slope="0" intercept="1"/></feComponentTransfer>
</filter>
<filter id="jet1" x="-15%" y="-20%" width="130%" height="140%" color-interpolation-filters="sRGB">
<feGaussianBlur stdDeviation="1.9" result="f"/>
<feTurbulence type="fractalNoise" baseFrequency="0.065" numOctaves="2" seed="10" result="n"/>
<feColorMatrix in="n" type="matrix" values="1 0 0 0 0 1 0 0 0 0 1 0 0 0 0 0 0 0 0 1" result="ng"/>
<feComposite in="f" in2="ng" operator="arithmetic" k1="0" k2="1" k3="0.32" k4="-0.16"/>
<feComponentTransfer><feFuncR type="table" tableValues="0 0 0 0 0.35 0.98 0.97 0.82 0.6"/><feFuncG type="table" tableValues="0 0 0.4 0.85 0.95 0.95 0.5 0.03 0"/><feFuncB type="table" tableValues="0.6 0.85 0.9 0.7 0.35 0 0 0 0"/><feFuncA type="linear" slope="0" intercept="1"/></feComponentTransfer>
</filter>
<filter id="jet2" x="-15%" y="-20%" width="130%" height="140%" color-interpolation-filters="sRGB">
<feGaussianBlur stdDeviation="1.9" result="f"/>
<feTurbulence type="fractalNoise" baseFrequency="0.065" numOctaves="2" seed="17" result="n"/>
<feColorMatrix in="n" type="matrix" values="1 0 0 0 0 1 0 0 0 0 1 0 0 0 0 0 0 0 0 1" result="ng"/>
<feComposite in="f" in2="ng" operator="arithmetic" k1="0" k2="1" k3="0.32" k4="-0.16"/>
<feComponentTransfer><feFuncR type="table" tableValues="0 0 0 0 0.35 0.98 0.97 0.82 0.6"/><feFuncG type="table" tableValues="0 0 0.4 0.85 0.95 0.95 0.5 0.03 0"/><feFuncB type="table" tableValues="0.6 0.85 0.9 0.7 0.35 0 0 0 0"/><feFuncA type="linear" slope="0" intercept="1"/></feComponentTransfer>
</filter>
<filter id="jet3" x="-15%" y="-20%" width="130%" height="140%" color-interpolation-filters="sRGB">
<feGaussianBlur stdDeviation="1.9" result="f"/>
<feTurbulence type="fractalNoise" baseFrequency="0.065" numOctaves="2" seed="24" result="n"/>
<feColorMatrix in="n" type="matrix" values="1 0 0 0 0 1 0 0 0 0 1 0 0 0 0 0 0 0 0 1" result="ng"/>
<feComposite in="f" in2="ng" operator="arithmetic" k1="0" k2="1" k3="0.32" k4="-0.16"/>
<feComponentTransfer><feFuncR type="table" tableValues="0 0 0 0 0.35 0.98 0.97 0.82 0.6"/><feFuncG type="table" tableValues="0 0 0.4 0.85 0.95 0.95 0.5 0.03 0"/><feFuncB type="table" tableValues="0.6 0.85 0.9 0.7 0.35 0 0 0 0"/><feFuncA type="linear" slope="0" intercept="1"/></feComponentTransfer>
</filter>
<filter id="jet4" x="-15%" y="-20%" width="130%" height="140%" color-interpolation-filters="sRGB">
<feGaussianBlur stdDeviation="1.9" result="f"/>
<feTurbulence type="fractalNoise" baseFrequency="0.065" numOctaves="2" seed="31" result="n"/>
<feColorMatrix in="n" type="matrix" values="1 0 0 0 0 1 0 0 0 0 1 0 0 0 0 0 0 0 0 1" result="ng"/>
<feComposite in="f" in2="ng" operator="arithmetic" k1="0" k2="1" k3="0.32" k4="-0.16"/>
<feComponentTransfer><feFuncR type="table" tableValues="0 0 0 0 0.35 0.98 0.97 0.82 0.6"/><feFuncG type="table" tableValues="0 0 0.4 0.85 0.95 0.95 0.5 0.03 0"/><feFuncB type="table" tableValues="0.6 0.85 0.9 0.7 0.35 0 0 0 0"/><feFuncA type="linear" slope="0" intercept="1"/></feComponentTransfer>
</filter>
<filter id="jet5" x="-15%" y="-20%" width="130%" height="140%" color-interpolation-filters="sRGB">
<feGaussianBlur stdDeviation="1.9" result="f"/>
<feTurbulence type="fractalNoise" baseFrequency="0.065" numOctaves="2" seed="38" result="n"/>
<feColorMatrix in="n" type="matrix" values="1 0 0 0 0 1 0 0 0 0 1 0 0 0 0 0 0 0 0 1" result="ng"/>
<feComposite in="f" in2="ng" operator="arithmetic" k1="0" k2="1" k3="0.32" k4="-0.16"/>
<feComponentTransfer><feFuncR type="table" tableValues="0 0 0 0 0.35 0.98 0.97 0.82 0.6"/><feFuncG type="table" tableValues="0 0 0.4 0.85 0.95 0.95 0.5 0.03 0"/><feFuncB type="table" tableValues="0.6 0.85 0.9 0.7 0.35 0 0 0 0"/><feFuncA type="linear" slope="0" intercept="1"/></feComponentTransfer>
</filter>
<filter id="jet6" x="-15%" y="-20%" width="130%" height="140%" color-interpolation-filters="sRGB">
<feGaussianBlur stdDeviation="1.9" result="f"/>
<feTurbulence type="fractalNoise" baseFrequency="0.065" numOctaves="2" seed="45" result="n"/>
<feColorMatrix in="n" type="matrix" values="1 0 0 0 0 1 0 0 0 0 1 0 0 0 0 0 0 0 0 1" result="ng"/>
<feComposite in="f" in2="ng" operator="arithmetic" k1="0" k2="1" k3="0.32" k4="-0.16"/>
<feComponentTransfer><feFuncR type="table" tableValues="0 0 0 0 0.35 0.98 0.97 0.82 0.6"/><feFuncG type="table" tableValues="0 0 0.4 0.85 0.95 0.95 0.5 0.03 0"/><feFuncB type="table" tableValues="0.6 0.85 0.9 0.7 0.35 0 0 0 0"/><feFuncA type="linear" slope="0" intercept="1"/></feComponentTransfer>
</filter>
<filter id="jet7" x="-15%" y="-20%" width="130%" height="140%" color-interpolation-filters="sRGB">
<feGaussianBlur stdDeviation="1.9" result="f"/>
<feTurbulence type="fractalNoise" baseFrequency="0.065" numOctaves="2" seed="52" result="n"/>
<feColorMatrix in="n" type="matrix" values="1 0 0 0 0 1 0 0 0 0 1 0 0 0 0 0 0 0 0 1" result="ng"/>
<feComposite in="f" in2="ng" operator="arithmetic" k1="0" k2="1" k3="0.32" k4="-0.16"/>
<feComponentTransfer><feFuncR type="table" tableValues="0 0 0 0 0.35 0.98 0.97 0.82 0.6"/><feFuncG type="table" tableValues="0 0 0.4 0.85 0.95 0.95 0.5 0.03 0"/><feFuncB type="table" tableValues="0.6 0.85 0.9 0.7 0.35 0 0 0 0"/><feFuncA type="linear" slope="0" intercept="1"/></feComponentTransfer>
</filter>
<filter id="jet8" x="-15%" y="-20%" width="130%" height="140%" color-interpolation-filters="sRGB">
<feGaussianBlur stdDeviation="1.9" result="f"/>
<feTurbulence type="fractalNoise" baseFrequency="0.065" numOctaves="2" seed="59" result="n"/>
<feColorMatrix in="n" type="matrix" values="1 0 0 0 0 1 0 0 0 0 1 0 0 0 0 0 0 0 0 1" result="ng"/>
<feComposite in="f" in2="ng" operator="arithmetic" k1="0" k2="1" k3="0.32" k4="-0.16"/>
<feComponentTransfer><feFuncR type="table" tableValues="0 0 0 0 0.35 0.98 0.97 0.82 0.6"/><feFuncG type="table" tableValues="0 0 0.4 0.85 0.95 0.95 0.5 0.03 0"/><feFuncB type="table" tableValues="0.6 0.85 0.9 0.7 0.35 0 0 0 0"/><feFuncA type="linear" slope="0" intercept="1"/></feComponentTransfer>
</filter>
<filter id="jet9" x="-15%" y="-20%" width="130%" height="140%" color-interpolation-filters="sRGB">
<feGaussianBlur stdDeviation="1.9" result="f"/>
<feTurbulence type="fractalNoise" baseFrequency="0.065" numOctaves="2" seed="66" result="n"/>
<feColorMatrix in="n" type="matrix" values="1 0 0 0 0 1 0 0 0 0 1 0 0 0 0 0 0 0 0 1" result="ng"/>
<feComposite in="f" in2="ng" operator="arithmetic" k1="0" k2="1" k3="0.32" k4="-0.16"/>
<feComponentTransfer><feFuncR type="table" tableValues="0 0 0 0 0.35 0.98 0.97 0.82 0.6"/><feFuncG type="table" tableValues="0 0 0.4 0.85 0.95 0.95 0.5 0.03 0"/><feFuncB type="table" tableValues="0.6 0.85 0.9 0.7 0.35 0 0 0 0"/><feFuncA type="linear" slope="0" intercept="1"/></feComponentTransfer>
</filter>
<filter id="jet10" x="-15%" y="-20%" width="130%" height="140%" color-interpolation-filters="sRGB">
<feGaussianBlur stdDeviation="1.9" result="f"/>
<feTurbulence type="fractalNoise" baseFrequency="0.065" numOctaves="2" seed="73" result="n"/>
<feColorMatrix in="n" type="matrix" values="1 0 0 0 0 1 0 0 0 0 1 0 0 0 0 0 0 0 0 1" result="ng"/>
<feComposite in="f" in2="ng" operator="arithmetic" k1="0" k2="1" k3="0.32" k4="-0.16"/>
<feComponentTransfer><feFuncR type="table" tableValues="0 0 0 0 0.35 0.98 0.97 0.82 0.6"/><feFuncG type="table" tableValues="0 0 0.4 0.85 0.95 0.95 0.5 0.03 0"/><feFuncB type="table" tableValues="0.6 0.85 0.9 0.7 0.35 0 0 0 0"/><feFuncA type="linear" slope="0" intercept="1"/></feComponentTransfer>
</filter>
<filter id="jet11" x="-15%" y="-20%" width="130%" height="140%" color-interpolation-filters="sRGB">
<feGaussianBlur stdDeviation="1.9" result="f"/>
<feTurbulence type="fractalNoise" baseFrequency="0.065" numOctaves="2" seed="80" result="n"/>
<feColorMatrix in="n" type="matrix" values="1 0 0 0 0 1 0 0 0 0 1 0 0 0 0 0 0 0 0 1" result="ng"/>
<feComposite in="f" in2="ng" operator="arithmetic" k1="0" k2="1" k3="0.32" k4="-0.16"/>
<feComponentTransfer><feFuncR type="table" tableValues="0 0 0 0 0.35 0.98 0.97 0.82 0.6"/><feFuncG type="table" tableValues="0 0 0.4 0.85 0.95 0.95 0.5 0.03 0"/><feFuncB type="table" tableValues="0.6 0.85 0.9 0.7 0.35 0 0 0 0"/><feFuncA type="linear" slope="0" intercept="1"/></feComponentTransfer>
</filter>
<filter id="jet12" x="-15%" y="-20%" width="130%" height="140%" color-interpolation-filters="sRGB">
<feGaussianBlur stdDeviation="1.9" result="f"/>
<feTurbulence type="fractalNoise" baseFrequency="0.065" numOctaves="2" seed="87" result="n"/>
<feColorMatrix in="n" type="matrix" values="1 0 0 0 0 1 0 0 0 0 1 0 0 0 0 0 0 0 0 1" result="ng"/>
<feComposite in="f" in2="ng" operator="arithmetic" k1="0" k2="1" k3="0.32" k4="-0.16"/>
<feComponentTransfer><feFuncR type="table" tableValues="0 0 0 0 0.35 0.98 0.97 0.82 0.6"/><feFuncG type="table" tableValues="0 0 0.4 0.85 0.95 0.95 0.5 0.03 0"/><feFuncB type="table" tableValues="0.6 0.85 0.9 0.7 0.35 0 0 0 0"/><feFuncA type="linear" slope="0" intercept="1"/></feComponentTransfer>
</filter>
<filter id="bl1" x="-30%" y="-30%" width="160%" height="160%"><feGaussianBlur stdDeviation="1.1"/></filter>
<filter id="bl2" x="-30%" y="-30%" width="160%" height="160%"><feGaussianBlur stdDeviation="1.8"/></filter>
<g id="bshade">
<path d="M0 41.3C-0.03 38.45 0.33 34.52 1.5 31C2.67 27.48 4.62 23.32 7 20.2C9.38 17.08 12.05 14.77 15.8 12.3C19.55 9.83 24.88 7.2 29.5 5.4C34.12 3.6 38.9 2.4 43.5 1.5C48.1 0.6 53.65 -0.08 57.1 0C60.55 0.08 62.13 1 64.2 2C66.27 3 67.62 4.5 69.5 6C71.38 7.5 73.5 9 75.5 11C77.5 13 79.58 15.25 81.5 18C83.42 20.75 85.35 24.47 87 27.5C88.65 30.53 90.5 33.73 91.4 36.2C92.3 38.67 92.53 40.45 92.4 42.3C92.27 44.15 91.58 46.05 90.6 47.3C89.62 48.55 88.18 49.45 86.5 49.8C84.82 50.15 82.63 49.32 80.5 49.4C78.37 49.48 76.47 49.8 73.7 50.3C70.93 50.8 67.15 51.4 63.9 52.4C60.65 53.4 57.27 54.87 54.2 56.3C51.13 57.73 47.88 59.58 45.5 61C43.12 62.42 41.68 64 39.9 64.8C38.12 65.6 36.47 65.95 34.8 65.8C33.13 65.65 31.12 64.98 29.9 63.9C28.68 62.82 27.73 60.8 27.5 59.3C27.27 57.8 28.1 55.95 28.5 54.9C28.9 53.85 30.8 53.12 29.9 53C29 52.88 25.85 53.87 23.1 54.2C20.35 54.53 16.15 55.2 13.4 55C10.65 54.8 8.55 54.15 6.6 53C4.65 51.85 2.8 50.05 1.7 48.1C0.6 46.15 0.03 44.15 0 41.3Z" fill="none" stroke="#000" stroke-opacity="0.36" stroke-width="3.2" filter="url(#bl2)"/>
<g fill="none" stroke="#300" stroke-linecap="round" filter="url(#bl1)">
<path d="M30.5 54.5C38 50.5 48 46.5 57 41C62 38 65.5 33 66 28" stroke-opacity="0.55" stroke-width="2"/>
<path d="M43 9C41 18 45 25 41 34" stroke-opacity="0.35" stroke-width="1.8"/>
<path d="M36 62C46 55 58 50 72 46" stroke-opacity="0.28" stroke-width="1.5"/>
<path d="M50 8C49 16 53 22 50 30" stroke-opacity="0.3" stroke-width="1.6"/>
<path d="M14 30C20 26 26 24 33 18" stroke-opacity="0.25" stroke-width="1.5"/>
<path d="M12 42C20 40 27 37 35 32" stroke-opacity="0.25" stroke-width="1.5"/>
<path d="M70 20C72 28 70 34 74 42" stroke-opacity="0.28" stroke-width="1.5"/>
<path d="M45 44C52 42 58 37 60 30" stroke-opacity="0.4" stroke-width="1.6"/>
</g>
<g fill="none" stroke="#fff" stroke-linecap="round" filter="url(#bl1)">
<path d="M45 39.5L50 36.8M47 27.5L52 24.8" stroke-opacity="0.6" stroke-width="0.9"/>
<path d="M26 21L31 17.5" stroke-opacity="0.45" stroke-width="0.8"/>
<path d="M38 50L46 46M62 36L64 30" stroke-opacity="0.3" stroke-width="1"/>
</g>
</g>
</defs>
<g transform="translate(188.9,428.1)" clip-path="url(#bclip)">
<g filter="url(#jet0)"><rect x="-12" y="-12" width="117" height="90" fill="#dfdfdf"/><path d="M21.2 45.2C22.6 42.9 28.2 41.8 32.8 37.4C37.5 33 44.3 21.9 49.4 19C54.4 16 60.7 17.7 63 19.9C65.2 22.2 64.6 28.7 63 32.6C61.4 36.4 57.5 40.2 53.3 43.2C49 46.3 42.6 49.7 37.7 51C32.8 52.3 26.9 52 24.1 51C21.3 50 19.7 47.5 21.2 45.2Z" fill="#dfdfdf"/><path d="M0 45.2L1.3 32.6L7.1 20.9L15.8 12.7L29.9 5.5" fill="none" stroke="#5c5c5c" stroke-width="8.9" stroke-linecap="round" stroke-linejoin="round"/><path d="M-0.8 45.2L0.4 32.2L6.2 20.1L15.1 12L29.5 4.6" fill="none" stroke="#0a0a0a" stroke-width="6" stroke-linecap="round" stroke-linejoin="round"/><path d="M20.7 12.6C22.8 11.3 30.1 10.3 32.4 11.2C34.6 12.1 34.6 15.6 34.3 18C34 20.3 32.3 24.1 30.4 25.3C28.6 26.5 24.9 26.3 23.1 25.3C21.3 24.2 20.1 21.1 19.7 19C19.3 16.8 18.6 13.9 20.7 12.6Z" fill="#0a0a0a"/><path d="M1.7 41.3C4.5 39.7 15.2 39 18.3 40.1C21.3 41.3 21.5 46.2 20.2 48.1C18.9 50 13.6 51.6 10.5 51.8C7.4 52 3.2 51.3 1.7 49.6C0.3 47.8 -1 42.9 1.7 41.3Z" fill="#0a0a0a"/><path d="M10.5 23.8C11.8 21.8 15.7 19.8 17.3 20.4C18.9 21.1 19.1 25.2 20.2 27.7C21.3 30.2 24.1 33.4 24.1 35.5C24.1 37.5 22 39.4 20.2 39.8C18.4 40.2 15.2 39.1 13.4 37.9C11.6 36.7 10 34.9 9.5 32.6C9 30.2 9.2 25.8 10.5 23.8Z" fill="#b2b2b2"/><ellipse cx="14.4" cy="25.8" rx="2.7" ry="4.1" fill="#d1d1d1" transform="rotate(25 14.4 25.8)"/><ellipse cx="25.1" cy="30.6" rx="3.7" ry="4.4" fill="#666666"/><ellipse cx="16.3" cy="52.4" rx="5.3" ry="1.7" fill="#b2b2b2"/><path d="M64.9 4.4C66.2 4.3 68.5 5.3 70.7 7.3C73 9.2 77.9 14.3 78.5 16C79.2 17.8 76.4 18.6 74.6 18C72.9 17.3 69.8 13.8 67.8 12.1C65.9 10.4 63.5 9.1 63 7.8C62.5 6.5 63.6 4.5 64.9 4.4Z" fill="#a3a3a3"/><ellipse cx="78.5" cy="16" rx="1.9" ry="1.9" fill="#666666"/><path d="M61.2 17.2C63 15.2 69.9 14.7 73.2 15.8C76.5 17 80.4 21.8 81 24.3C81.5 26.8 78.7 29.3 76.6 30.8C74.5 32.3 70.6 33.9 68.3 33.3C66 32.8 64 30.4 62.8 27.7C61.6 25 59.5 19.2 61.2 17.2Z" fill="#0a0a0a"/><path d="M81.4 19C82.9 19.9 86.1 26.6 87.3 29.6C88.4 32.7 88.9 36.1 88.2 37.4C87.6 38.7 84.5 38.7 83.4 37.4C82.2 36.1 82.2 31.9 81.4 29.6C80.6 27.4 78.5 25.6 78.5 23.8C78.5 22 80 18 81.4 19Z" fill="#b2b2b2"/><ellipse cx="75.6" cy="44.2" rx="5.8" ry="3.9" fill="#dfdfdf"/><ellipse cx="91.5" cy="42.8" rx="2.3" ry="5.6" fill="#3d3d3d" transform="rotate(-10 91.5 42.8)"/><path d="M29.9 53L45 44.2L66.4 38.9" fill="none" stroke="#a3a3a3" stroke-width="4.9" stroke-linecap="round" stroke-linejoin="round"/><path d="M33.6 62.7C34.4 60.3 37.8 56.2 41.1 53.4C44.4 50.7 49.2 47.9 53.3 46.2C57.3 44.4 62.6 42.9 65.4 43.1C68.2 43.2 70.4 45.1 70 47.1C69.6 49.2 66.1 53.1 63 55.4C59.9 57.7 54.6 58.8 51.3 60.7C48.1 62.7 46 65.9 43.5 67.1C41 68.2 37.9 68.3 36.2 67.5C34.6 66.8 32.8 65 33.6 62.7Z" fill="#0a0a0a"/><ellipse cx="31.1" cy="60.9" rx="3.9" ry="5.3" fill="#b2b2b2"/><ellipse cx="71.7" cy="41.3" rx="2.9" ry="2.9" fill="#f2f2f2"/></g>
<use href="#bshade"/>
</g>
<g transform="translate(294.7,414.1)" clip-path="url(#bclip)">
<g filter="url(#jet1)"><rect x="-12" y="-12" width="117" height="90" fill="#a3a3a3"/><path d="M21.2 45.2C22.6 42.9 28.2 41.8 32.8 37.4C37.5 33 44.3 21.9 49.4 19C54.4 16 60.7 17.7 63 19.9C65.2 22.2 64.6 28.7 63 32.6C61.4 36.4 57.5 40.2 53.3 43.2C49 46.3 42.6 49.7 37.7 51C32.8 52.3 26.9 52 24.1 51C21.3 50 19.7 47.5 21.2 45.2Z" fill="#dfdfdf"/><path d="M32.8 4.4C35.1 2.8 42.1 1.8 47.4 1.5C52.8 1.1 61.4 1.1 64.9 2.4C68.5 3.7 69.8 7.5 68.8 9.2C67.8 11 63 12.8 59.1 13.1C55.2 13.4 49.7 11.5 45.5 11.2C41.3 10.9 35.9 12.3 33.8 11.2C31.7 10 30.6 6 32.8 4.4Z" fill="#a3a3a3"/><path d="M0 45.2L1.3 32.6L7.1 20.9L15.8 12.7L29.9 5.5" fill="none" stroke="#5c5c5c" stroke-width="8.9" stroke-linecap="round" stroke-linejoin="round"/><path d="M-0.8 45.2L0.4 32.2L6.2 20.1L15.1 12L29.5 4.6" fill="none" stroke="#0a0a0a" stroke-width="6" stroke-linecap="round" stroke-linejoin="round"/><path d="M20.7 12.6C22.8 11.3 30.1 10.3 32.4 11.2C34.6 12.1 34.6 15.6 34.3 18C34 20.3 32.3 24.1 30.4 25.3C28.6 26.5 24.9 26.3 23.1 25.3C21.3 24.2 20.1 21.1 19.7 19C19.3 16.8 18.6 13.9 20.7 12.6Z" fill="#0a0a0a"/><path d="M1.7 41.3C4.5 39.7 15.2 39 18.3 40.1C21.3 41.3 21.5 46.2 20.2 48.1C18.9 50 13.6 51.6 10.5 51.8C7.4 52 3.2 51.3 1.7 49.6C0.3 47.8 -1 42.9 1.7 41.3Z" fill="#666666"/><path d="M10.5 23.8C11.8 21.8 15.7 19.8 17.3 20.4C18.9 21.1 19.1 25.2 20.2 27.7C21.3 30.2 24.1 33.4 24.1 35.5C24.1 37.5 22 39.4 20.2 39.8C18.4 40.2 15.2 39.1 13.4 37.9C11.6 36.7 10 34.9 9.5 32.6C9 30.2 9.2 25.8 10.5 23.8Z" fill="#d1d1d1"/><ellipse cx="14.4" cy="25.8" rx="2.7" ry="4.1" fill="#dfdfdf" transform="rotate(25 14.4 25.8)"/><ellipse cx="25.1" cy="30.6" rx="3.7" ry="4.4" fill="#a3a3a3"/><ellipse cx="16.3" cy="52.4" rx="5.3" ry="1.7" fill="#b2b2b2"/><path d="M64.9 4.4C66.2 4.3 68.5 5.3 70.7 7.3C73 9.2 77.9 14.3 78.5 16C79.2 17.8 76.4 18.6 74.6 18C72.9 17.3 69.8 13.8 67.8 12.1C65.9 10.4 63.5 9.1 63 7.8C62.5 6.5 63.6 4.5 64.9 4.4Z" fill="#666666"/><ellipse cx="78.5" cy="16" rx="1.9" ry="1.9" fill="#666666"/><path d="M61.2 17.2C63 15.2 69.9 14.7 73.2 15.8C76.5 17 80.4 21.8 81 24.3C81.5 26.8 78.7 29.3 76.6 30.8C74.5 32.3 70.6 33.9 68.3 33.3C66 32.8 64 30.4 62.8 27.7C61.6 25 59.5 19.2 61.2 17.2Z" fill="#0a0a0a"/><path d="M81.4 19C82.9 19.9 86.1 26.6 87.3 29.6C88.4 32.7 88.9 36.1 88.2 37.4C87.6 38.7 84.5 38.7 83.4 37.4C82.2 36.1 82.2 31.9 81.4 29.6C80.6 27.4 78.5 25.6 78.5 23.8C78.5 22 80 18 81.4 19Z" fill="#666666"/><ellipse cx="75.6" cy="44.2" rx="5.8" ry="3.9" fill="#c2c2c2"/><ellipse cx="91.5" cy="42.8" rx="2.3" ry="5.6" fill="#666666" transform="rotate(-10 91.5 42.8)"/><path d="M29.9 53L45 44.2L66.4 38.9" fill="none" stroke="#a3a3a3" stroke-width="4.9" stroke-linecap="round" stroke-linejoin="round"/><path d="M33.6 62.7C34.4 60.3 37.8 56.2 41.1 53.4C44.4 50.7 49.2 47.9 53.3 46.2C57.3 44.4 62.6 42.9 65.4 43.1C68.2 43.2 70.4 45.1 70 47.1C69.6 49.2 66.1 53.1 63 55.4C59.9 57.7 54.6 58.8 51.3 60.7C48.1 62.7 46 65.9 43.5 67.1C41 68.2 37.9 68.3 36.2 67.5C34.6 66.8 32.8 65 33.6 62.7Z" fill="#141414"/><ellipse cx="31.1" cy="60.9" rx="3.9" ry="5.3" fill="#808080"/><path d="M8.7 26.7C10.2 24.6 14.3 23 16.5 23.8C18.8 24.6 21.5 28.8 22.4 31.6C23.2 34.3 23 38.4 21.4 40.3C19.8 42.3 14.9 43.9 12.6 43.2C10.4 42.6 8.4 39.2 7.8 36.4C7.1 33.7 7.3 28.8 8.7 26.7Z" fill="#d1d1d1"/><ellipse cx="50.5" cy="9.7" rx="5.3" ry="5.8" fill="#666666"/><ellipse cx="60.3" cy="3.9" rx="4.9" ry="2.9" fill="#c2c2c2"/><ellipse cx="40.8" cy="19" rx="3.4" ry="8.3" fill="#c2c2c2" transform="rotate(20 40.8 19)"/><ellipse cx="48.6" cy="31.6" rx="10.7" ry="5.8" fill="#f2f2f2" transform="rotate(-30 48.6 31.6)"/><path d="M77.7 27.7C79.7 25.9 84.9 27.5 87.5 29.6C90.1 31.7 93 37.1 93.3 40.3C93.6 43.6 92 47.6 89.4 49.1C86.8 50.5 80 50.5 77.7 49.1C75.5 47.6 75.8 43.9 75.8 40.3C75.8 36.8 75.8 29.5 77.7 27.7Z" fill="#666666"/><ellipse cx="81.6" cy="33.5" rx="3.9" ry="2.7" fill="#a3a3a3"/></g>
<use href="#bshade"/>
</g>
<g transform="translate(395.7,451)" clip-path="url(#bclip)">
<g filter="url(#jet2)"><rect x="-12" y="-12" width="117" height="90" fill="#dfdfdf"/><path d="M21.2 45.2C22.6 42.9 28.2 41.8 32.8 37.4C37.5 33 44.3 21.9 49.4 19C54.4 16 60.7 17.7 63 19.9C65.2 22.2 64.6 28.7 63 32.6C61.4 36.4 57.5 40.2 53.3 43.2C49 46.3 42.6 49.7 37.7 51C32.8 52.3 26.9 52 24.1 51C21.3 50 19.7 47.5 21.2 45.2Z" fill="#dfdfdf"/><path d="M32.8 4.4C35.1 2.8 42.1 1.8 47.4 1.5C52.8 1.1 61.4 1.1 64.9 2.4C68.5 3.7 69.8 7.5 68.8 9.2C67.8 11 63 12.8 59.1 13.1C55.2 13.4 49.7 11.5 45.5 11.2C41.3 10.9 35.9 12.3 33.8 11.2C31.7 10 30.6 6 32.8 4.4Z" fill="#c2c2c2"/><path d="M0 45.2L1.3 32.6L7.1 20.9L15.8 12.7L29.9 5.5" fill="none" stroke="#5c5c5c" stroke-width="8.9" stroke-linecap="round" stroke-linejoin="round"/><path d="M-0.8 45.2L0.4 32.2L6.2 20.1L15.1 12L29.5 4.6" fill="none" stroke="#0a0a0a" stroke-width="6" stroke-linecap="round" stroke-linejoin="round"/><path d="M20.7 12.6C22.8 11.3 30.1 10.3 32.4 11.2C34.6 12.1 34.6 15.6 34.3 18C34 20.3 32.3 24.1 30.4 25.3C28.6 26.5 24.9 26.3 23.1 25.3C21.3 24.2 20.1 21.1 19.7 19C19.3 16.8 18.6 13.9 20.7 12.6Z" fill="#0a0a0a"/><path d="M1.7 41.3C4.5 39.7 15.2 39 18.3 40.1C21.3 41.3 21.5 46.2 20.2 48.1C18.9 50 13.6 51.6 10.5 51.8C7.4 52 3.2 51.3 1.7 49.6C0.3 47.8 -1 42.9 1.7 41.3Z" fill="#0a0a0a"/><path d="M10.5 23.8C11.8 21.8 15.7 19.8 17.3 20.4C18.9 21.1 19.1 25.2 20.2 27.7C21.3 30.2 24.1 33.4 24.1 35.5C24.1 37.5 22 39.4 20.2 39.8C18.4 40.2 15.2 39.1 13.4 37.9C11.6 36.7 10 34.9 9.5 32.6C9 30.2 9.2 25.8 10.5 23.8Z" fill="#b2b2b2"/><ellipse cx="14.4" cy="25.8" rx="2.7" ry="4.1" fill="#d1d1d1" transform="rotate(25 14.4 25.8)"/><ellipse cx="25.1" cy="30.6" rx="3.7" ry="4.4" fill="#666666"/><ellipse cx="16.3" cy="52.4" rx="5.3" ry="1.7" fill="#b2b2b2"/><path d="M64.9 4.4C66.2 4.3 68.5 5.3 70.7 7.3C73 9.2 77.9 14.3 78.5 16C79.2 17.8 76.4 18.6 74.6 18C72.9 17.3 69.8 13.8 67.8 12.1C65.9 10.4 63.5 9.1 63 7.8C62.5 6.5 63.6 4.5 64.9 4.4Z" fill="#a3a3a3"/><ellipse cx="78.5" cy="16" rx="1.9" ry="1.9" fill="#666666"/><path d="M61.2 17.2C63 15.2 69.9 14.7 73.2 15.8C76.5 17 80.4 21.8 81 24.3C81.5 26.8 78.7 29.3 76.6 30.8C74.5 32.3 70.6 33.9 68.3 33.3C66 32.8 64 30.4 62.8 27.7C61.6 25 59.5 19.2 61.2 17.2Z" fill="#0a0a0a"/><path d="M81.4 19C82.9 19.9 86.1 26.6 87.3 29.6C88.4 32.7 88.9 36.1 88.2 37.4C87.6 38.7 84.5 38.7 83.4 37.4C82.2 36.1 82.2 31.9 81.4 29.6C80.6 27.4 78.5 25.6 78.5 23.8C78.5 22 80 18 81.4 19Z" fill="#d1d1d1"/><ellipse cx="75.6" cy="44.2" rx="5.8" ry="3.9" fill="#f2f2f2"/><ellipse cx="91.5" cy="42.8" rx="2.3" ry="5.6" fill="#a3a3a3" transform="rotate(-10 91.5 42.8)"/><path d="M29.9 53L45 44.2L66.4 38.9" fill="none" stroke="#a3a3a3" stroke-width="4.9" stroke-linecap="round" stroke-linejoin="round"/><path d="M33.6 62.7C34.4 60.3 37.8 56.2 41.1 53.4C44.4 50.7 49.2 47.9 53.3 46.2C57.3 44.4 62.6 42.9 65.4 43.1C68.2 43.2 70.4 45.1 70 47.1C69.6 49.2 66.1 53.1 63 55.4C59.9 57.7 54.6 58.8 51.3 60.7C48.1 62.7 46 65.9 43.5 67.1C41 68.2 37.9 68.3 36.2 67.5C34.6 66.8 32.8 65 33.6 62.7Z" fill="#0a0a0a"/><ellipse cx="31.1" cy="60.9" rx="3.9" ry="5.3" fill="#666666"/><ellipse cx="46.6" cy="5.8" rx="5.8" ry="2.9" fill="#a3a3a3"/><ellipse cx="59.8" cy="6.8" rx="3.4" ry="2.9" fill="#dfdfdf"/><ellipse cx="82.6" cy="38.4" rx="6.8" ry="6.8" fill="#d1d1d1"/><ellipse cx="82.6" cy="32.6" rx="3.9" ry="2.9" fill="#dfdfdf"/><ellipse cx="66.1" cy="36.9" rx="2.9" ry="2.9" fill="#a3a3a3"/></g>
<use href="#bshade"/>
</g>
<g transform="translate(467.8,530.5)" clip-path="url(#bclip)">
<g filter="url(#jet3)"><rect x="-12" y="-12" width="117" height="90" fill="#dfdfdf"/><path d="M21.2 45.2C22.6 42.9 28.2 41.8 32.8 37.4C37.5 33 44.3 21.9 49.4 19C54.4 16 60.7 17.7 63 19.9C65.2 22.2 64.6 28.7 63 32.6C61.4 36.4 57.5 40.2 53.3 43.2C49 46.3 42.6 49.7 37.7 51C32.8 52.3 26.9 52 24.1 51C21.3 50 19.7 47.5 21.2 45.2Z" fill="#dfdfdf"/><path d="M0 45.2L1.3 32.6L7.1 20.9L15.8 12.7L29.9 5.5" fill="none" stroke="#5c5c5c" stroke-width="8.9" stroke-linecap="round" stroke-linejoin="round"/><path d="M-0.8 45.2L0.4 32.2L6.2 20.1L15.1 12L29.5 4.6" fill="none" stroke="#0a0a0a" stroke-width="6" stroke-linecap="round" stroke-linejoin="round"/><path d="M20.7 12.6C22.8 11.3 30.1 10.3 32.4 11.2C34.6 12.1 34.6 15.6 34.3 18C34 20.3 32.3 24.1 30.4 25.3C28.6 26.5 24.9 26.3 23.1 25.3C21.3 24.2 20.1 21.1 19.7 19C19.3 16.8 18.6 13.9 20.7 12.6Z" fill="#0a0a0a"/><path d="M1.7 41.3C4.5 39.7 15.2 39 18.3 40.1C21.3 41.3 21.5 46.2 20.2 48.1C18.9 50 13.6 51.6 10.5 51.8C7.4 52 3.2 51.3 1.7 49.6C0.3 47.8 -1 42.9 1.7 41.3Z" fill="#3d3d3d"/><path d="M10.5 23.8C11.8 21.8 15.7 19.8 17.3 20.4C18.9 21.1 19.1 25.2 20.2 27.7C21.3 30.2 24.1 33.4 24.1 35.5C24.1 37.5 22 39.4 20.2 39.8C18.4 40.2 15.2 39.1 13.4 37.9C11.6 36.7 10 34.9 9.5 32.6C9 30.2 9.2 25.8 10.5 23.8Z" fill="#b2b2b2"/><ellipse cx="14.4" cy="25.8" rx="2.7" ry="4.1" fill="#d1d1d1" transform="rotate(25 14.4 25.8)"/><ellipse cx="25.1" cy="30.6" rx="3.7" ry="4.4" fill="#666666"/><ellipse cx="16.3" cy="52.4" rx="5.3" ry="1.7" fill="#b2b2b2"/><path d="M64.9 4.4C66.2 4.3 68.5 5.3 70.7 7.3C73 9.2 77.9 14.3 78.5 16C79.2 17.8 76.4 18.6 74.6 18C72.9 17.3 69.8 13.8 67.8 12.1C65.9 10.4 63.5 9.1 63 7.8C62.5 6.5 63.6 4.5 64.9 4.4Z" fill="#a3a3a3"/><ellipse cx="78.5" cy="16" rx="1.9" ry="1.9" fill="#666666"/><path d="M61.2 17.2C63 15.2 69.9 14.7 73.2 15.8C76.5 17 80.4 21.8 81 24.3C81.5 26.8 78.7 29.3 76.6 30.8C74.5 32.3 70.6 33.9 68.3 33.3C66 32.8 64 30.4 62.8 27.7C61.6 25 59.5 19.2 61.2 17.2Z" fill="#0a0a0a"/><path d="M81.4 19C82.9 19.9 86.1 26.6 87.3 29.6C88.4 32.7 88.9 36.1 88.2 37.4C87.6 38.7 84.5 38.7 83.4 37.4C82.2 36.1 82.2 31.9 81.4 29.6C80.6 27.4 78.5 25.6 78.5 23.8C78.5 22 80 18 81.4 19Z" fill="#b2b2b2"/><ellipse cx="75.6" cy="44.2" rx="5.8" ry="3.9" fill="#dfdfdf"/><ellipse cx="91.5" cy="42.8" rx="2.3" ry="5.6" fill="#666666" transform="rotate(-10 91.5 42.8)"/><path d="M29.9 53L45 44.2L66.4 38.9" fill="none" stroke="#a3a3a3" stroke-width="4.9" stroke-linecap="round" stroke-linejoin="round"/><path d="M33.6 62.7C34.4 60.3 37.8 56.2 41.1 53.4C44.4 50.7 49.2 47.9 53.3 46.2C57.3 44.4 62.6 42.9 65.4 43.1C68.2 43.2 70.4 45.1 70 47.1C69.6 49.2 66.1 53.1 63 55.4C59.9 57.7 54.6 58.8 51.3 60.7C48.1 62.7 46 65.9 43.5 67.1C41 68.2 37.9 68.3 36.2 67.5C34.6 66.8 32.8 65 33.6 62.7Z" fill="#0a0a0a"/><ellipse cx="31.1" cy="60.9" rx="3.9" ry="5.3" fill="#808080"/><ellipse cx="46.9" cy="6.3" rx="4.4" ry="3.4" fill="#c2c2c2"/><ellipse cx="35.8" cy="6.8" rx="3.9" ry="2.4" fill="#c2c2c2"/><ellipse cx="67.8" cy="9.7" rx="3.9" ry="3.4" fill="#c2c2c2"/><path d="M77.6 28.2C79.7 26.9 85 27.4 87.3 29.2C89.5 30.9 91.3 36.1 91.2 38.9C91 41.6 88.7 44.7 86.3 45.7C83.9 46.6 78.5 46.2 76.6 44.7C74.6 43.2 74.5 39.7 74.6 36.9C74.8 34.2 75.4 29.5 77.6 28.2Z" fill="#b2b2b2"/><ellipse cx="80.5" cy="34" rx="3.4" ry="2.7" fill="#d1d1d1"/><ellipse cx="65.9" cy="36" rx="3.4" ry="2.9" fill="#a3a3a3"/></g>
<use href="#bshade"/>
</g>
<g transform="translate(493.1,636)" clip-path="url(#bclip)">
<g filter="url(#jet4)"><rect x="-12" y="-12" width="117" height="90" fill="#b2b2b2"/><path d="M21.2 45.2C22.6 42.9 28.2 41.8 32.8 37.4C37.5 33 44.3 21.9 49.4 19C54.4 16 60.7 17.7 63 19.9C65.2 22.2 64.6 28.7 63 32.6C61.4 36.4 57.5 40.2 53.3 43.2C49 46.3 42.6 49.7 37.7 51C32.8 52.3 26.9 52 24.1 51C21.3 50 19.7 47.5 21.2 45.2Z" fill="#dfdfdf"/><path d="M32.8 4.4C35.1 2.8 42.1 1.8 47.4 1.5C52.8 1.1 61.4 1.1 64.9 2.4C68.5 3.7 69.8 7.5 68.8 9.2C67.8 11 63 12.8 59.1 13.1C55.2 13.4 49.7 11.5 45.5 11.2C41.3 10.9 35.9 12.3 33.8 11.2C31.7 10 30.6 6 32.8 4.4Z" fill="#a3a3a3"/><path d="M0 45.2L1.3 32.6L7.1 20.9L15.8 12.7L29.9 5.5" fill="none" stroke="#4c4c4c" stroke-width="8.9" stroke-linecap="round" stroke-linejoin="round"/><path d="M-0.8 45.2L0.4 32.2L6.2 20.1L15.1 12L29.5 4.6" fill="none" stroke="#2e2e2e" stroke-width="6" stroke-linecap="round" stroke-linejoin="round"/><path d="M20.7 12.6C22.8 11.3 30.1 10.3 32.4 11.2C34.6 12.1 34.6 15.6 34.3 18C34 20.3 32.3 24.1 30.4 25.3C28.6 26.5 24.9 26.3 23.1 25.3C21.3 24.2 20.1 21.1 19.7 19C19.3 16.8 18.6 13.9 20.7 12.6Z" fill="#0a0a0a"/><path d="M1.7 41.3C4.5 39.7 15.2 39 18.3 40.1C21.3 41.3 21.5 46.2 20.2 48.1C18.9 50 13.6 51.6 10.5 51.8C7.4 52 3.2 51.3 1.7 49.6C0.3 47.8 -1 42.9 1.7 41.3Z" fill="#0a0a0a"/><path d="M10.5 23.8C11.8 21.8 15.7 19.8 17.3 20.4C18.9 21.1 19.1 25.2 20.2 27.7C21.3 30.2 24.1 33.4 24.1 35.5C24.1 37.5 22 39.4 20.2 39.8C18.4 40.2 15.2 39.1 13.4 37.9C11.6 36.7 10 34.9 9.5 32.6C9 30.2 9.2 25.8 10.5 23.8Z" fill="#a3a3a3"/><ellipse cx="14.4" cy="25.8" rx="2.7" ry="4.1" fill="#a3a3a3" transform="rotate(25 14.4 25.8)"/><ellipse cx="25.1" cy="30.6" rx="3.7" ry="4.4" fill="#a3a3a3"/><ellipse cx="16.3" cy="52.4" rx="5.3" ry="1.7" fill="#b2b2b2"/><path d="M64.9 4.4C66.2 4.3 68.5 5.3 70.7 7.3C73 9.2 77.9 14.3 78.5 16C79.2 17.8 76.4 18.6 74.6 18C72.9 17.3 69.8 13.8 67.8 12.1C65.9 10.4 63.5 9.1 63 7.8C62.5 6.5 63.6 4.5 64.9 4.4Z" fill="#3d3d3d"/><ellipse cx="78.5" cy="16" rx="1.9" ry="1.9" fill="#666666"/><path d="M61.2 17.2C63 15.2 69.9 14.7 73.2 15.8C76.5 17 80.4 21.8 81 24.3C81.5 26.8 78.7 29.3 76.6 30.8C74.5 32.3 70.6 33.9 68.3 33.3C66 32.8 64 30.4 62.8 27.7C61.6 25 59.5 19.2 61.2 17.2Z" fill="#0a0a0a"/><path d="M81.4 19C82.9 19.9 86.1 26.6 87.3 29.6C88.4 32.7 88.9 36.1 88.2 37.4C87.6 38.7 84.5 38.7 83.4 37.4C82.2 36.1 82.2 31.9 81.4 29.6C80.6 27.4 78.5 25.6 78.5 23.8C78.5 22 80 18 81.4 19Z" fill="#b2b2b2"/><ellipse cx="75.6" cy="44.2" rx="5.8" ry="3.9" fill="#c2c2c2"/><ellipse cx="91.5" cy="42.8" rx="2.3" ry="5.6" fill="#666666" transform="rotate(-10 91.5 42.8)"/><path d="M29.9 53L45 44.2L66.4 38.9" fill="none" stroke="#a3a3a3" stroke-width="4.9" stroke-linecap="round" stroke-linejoin="round"/><path d="M33.6 62.7C34.4 60.3 37.8 56.2 41.1 53.4C44.4 50.7 49.2 47.9 53.3 46.2C57.3 44.4 62.6 42.9 65.4 43.1C68.2 43.2 70.4 45.1 70 47.1C69.6 49.2 66.1 53.1 63 55.4C59.9 57.7 54.6 58.8 51.3 60.7C48.1 62.7 46 65.9 43.5 67.1C41 68.2 37.9 68.3 36.2 67.5C34.6 66.8 32.8 65 33.6 62.7Z" fill="#0f0f0f"/><ellipse cx="31.1" cy="60.9" rx="3.9" ry="5.3" fill="#b2b2b2"/><ellipse cx="45.2" cy="31.6" rx="9.7" ry="4.9" fill="#f2f2f2" transform="rotate(-30 45.2 31.6)"/><ellipse cx="58.8" cy="3.4" rx="3.9" ry="2.4" fill="#c2c2c2"/><ellipse cx="39.4" cy="16" rx="3.1" ry="5.8" fill="#c2c2c2" transform="rotate(15 39.4 16)"/><path d="M64.6 7.3C65.6 6.3 69.8 6.8 72.4 8.3C75 9.7 79.9 14.4 80.2 16C80.5 17.7 76.6 18.3 74.3 18C72.1 17.7 68.2 15.9 66.6 14.1C64.9 12.3 63.7 8.3 64.6 7.3Z" fill="#3d3d3d"/><path d="M77.3 39.4C79 37.7 85.4 36.6 87.9 36.9C90.5 37.3 92.3 39.4 92.3 41.3C92.3 43.2 90.5 47.1 87.9 48.1C85.4 49.1 79 48.6 77.3 47.1C75.5 45.7 75.5 41.1 77.3 39.4Z" fill="#666666"/><ellipse cx="33.5" cy="55.9" rx="4.4" ry="7.8" fill="#b2b2b2" transform="rotate(15 33.5 55.9)"/></g>
<use href="#bshade"/>
</g>
<g transform="translate(103.4,490.4)" clip-path="url(#bclip)">
<g filter="url(#jet5)"><rect x="-12" y="-12" width="117" height="90" fill="#dfdfdf"/><path d="M21.2 45.2C22.6 42.9 28.2 41.8 32.8 37.4C37.5 33 44.3 21.9 49.4 19C54.4 16 60.7 17.7 63 19.9C65.2 22.2 64.6 28.7 63 32.6C61.4 36.4 57.5 40.2 53.3 43.2C49 46.3 42.6 49.7 37.7 51C32.8 52.3 26.9 52 24.1 51C21.3 50 19.7 47.5 21.2 45.2Z" fill="#dfdfdf"/><path d="M32.8 4.4C35.1 2.8 42.1 1.8 47.4 1.5C52.8 1.1 61.4 1.1 64.9 2.4C68.5 3.7 69.8 7.5 68.8 9.2C67.8 11 63 12.8 59.1 13.1C55.2 13.4 49.7 11.5 45.5 11.2C41.3 10.9 35.9 12.3 33.8 11.2C31.7 10 30.6 6 32.8 4.4Z" fill="#c2c2c2"/><path d="M0 45.2L1.3 32.6L7.1 20.9L15.8 12.7L29.9 5.5" fill="none" stroke="#5c5c5c" stroke-width="8.9" stroke-linecap="round" stroke-linejoin="round"/><path d="M-0.8 45.2L0.4 32.2L6.2 20.1L15.1 12L29.5 4.6" fill="none" stroke="#0a0a0a" stroke-width="6" stroke-linecap="round" stroke-linejoin="round"/><path d="M20.7 12.6C22.8 11.3 30.1 10.3 32.4 11.2C34.6 12.1 34.6 15.6 34.3 18C34 20.3 32.3 24.1 30.4 25.3C28.6 26.5 24.9 26.3 23.1 25.3C21.3 24.2 20.1 21.1 19.7 19C19.3 16.8 18.6 13.9 20.7 12.6Z" fill="#0a0a0a"/><path d="M1.7 41.3C4.5 39.7 15.2 39 18.3 40.1C21.3 41.3 21.5 46.2 20.2 48.1C18.9 50 13.6 51.6 10.5 51.8C7.4 52 3.2 51.3 1.7 49.6C0.3 47.8 -1 42.9 1.7 41.3Z" fill="#0a0a0a"/><path d="M10.5 23.8C11.8 21.8 15.7 19.8 17.3 20.4C18.9 21.1 19.1 25.2 20.2 27.7C21.3 30.2 24.1 33.4 24.1 35.5C24.1 37.5 22 39.4 20.2 39.8C18.4 40.2 15.2 39.1 13.4 37.9C11.6 36.7 10 34.9 9.5 32.6C9 30.2 9.2 25.8 10.5 23.8Z" fill="#b2b2b2"/><ellipse cx="14.4" cy="25.8" rx="2.7" ry="4.1" fill="#dfdfdf" transform="rotate(25 14.4 25.8)"/><ellipse cx="25.1" cy="30.6" rx="3.7" ry="4.4" fill="#666666"/><ellipse cx="16.3" cy="52.4" rx="5.3" ry="1.7" fill="#b2b2b2"/><path d="M64.9 4.4C66.2 4.3 68.5 5.3 70.7 7.3C73 9.2 77.9 14.3 78.5 16C79.2 17.8 76.4 18.6 74.6 18C72.9 17.3 69.8 13.8 67.8 12.1C65.9 10.4 63.5 9.1 63 7.8C62.5 6.5 63.6 4.5 64.9 4.4Z" fill="#a3a3a3"/><ellipse cx="78.5" cy="16" rx="1.9" ry="1.9" fill="#666666"/><path d="M61.2 17.2C63 15.2 69.9 14.7 73.2 15.8C76.5 17 80.4 21.8 81 24.3C81.5 26.8 78.7 29.3 76.6 30.8C74.5 32.3 70.6 33.9 68.3 33.3C66 32.8 64 30.4 62.8 27.7C61.6 25 59.5 19.2 61.2 17.2Z" fill="#0a0a0a"/><path d="M81.4 19C82.9 19.9 86.1 26.6 87.3 29.6C88.4 32.7 88.9 36.1 88.2 37.4C87.6 38.7 84.5 38.7 83.4 37.4C82.2 36.1 82.2 31.9 81.4 29.6C80.6 27.4 78.5 25.6 78.5 23.8C78.5 22 80 18 81.4 19Z" fill="#dfdfdf"/><ellipse cx="75.6" cy="44.2" rx="5.8" ry="3.9" fill="#dfdfdf"/><ellipse cx="91.5" cy="42.8" rx="2.3" ry="5.6" fill="#a3a3a3" transform="rotate(-10 91.5 42.8)"/><path d="M29.9 53L45 44.2L66.4 38.9" fill="none" stroke="#a3a3a3" stroke-width="4.9" stroke-linecap="round" stroke-linejoin="round"/><path d="M33.6 62.7C34.4 60.3 37.8 56.2 41.1 53.4C44.4 50.7 49.2 47.9 53.3 46.2C57.3 44.4 62.6 42.9 65.4 43.1C68.2 43.2 70.4 45.1 70 47.1C69.6 49.2 66.1 53.1 63 55.4C59.9 57.7 54.6 58.8 51.3 60.7C48.1 62.7 46 65.9 43.5 67.1C41 68.2 37.9 68.3 36.2 67.5C34.6 66.8 32.8 65 33.6 62.7Z" fill="#0a0a0a"/><ellipse cx="31.1" cy="60.9" rx="3.9" ry="5.3" fill="#b2b2b2"/><ellipse cx="46.8" cy="5.5" rx="4.4" ry="2.7" fill="#a3a3a3"/><ellipse cx="58.5" cy="7" rx="3.4" ry="2.9" fill="#dfdfdf"/><ellipse cx="66.3" cy="36.2" rx="2.7" ry="2.4" fill="#a3a3a3"/></g>
<use href="#bshade"/>
</g>
<g transform="translate(54.4,584.6)" clip-path="url(#bclip)">
<g filter="url(#jet6)"><rect x="-12" y="-12" width="117" height="90" fill="#a3a3a3"/><path d="M19.6 42.8C21.4 40.3 27.6 37.9 32.3 36C37 34 43.6 31.7 47.8 31.1C52 30.5 56.2 30.6 57.5 32.1C58.8 33.5 57.5 37.6 55.6 39.8C53.6 42.1 49.8 44.1 45.9 45.7C42 47.3 36.3 48.8 32.3 49.6C28.2 50.4 23.7 51.7 21.6 50.5C19.5 49.4 17.8 45.2 19.6 42.8Z" fill="#dfdfdf"/><ellipse cx="40" cy="40.8" rx="9.7" ry="4.4" fill="#f2f2f2" transform="rotate(-20 40 40.8)"/><path d="M40 19.4C42.6 18.1 50.1 16.7 53.6 17.5C57.2 18.3 61.1 22 61.4 24.3C61.7 26.6 58.5 30 55.6 31.1C52.7 32.2 46.8 32.1 43.9 31.1C41 30.1 38.7 27.2 38.1 25.3C37.4 23.3 37.4 20.7 40 19.4Z" fill="#c2c2c2"/><path d="M62.4 24.3C64.3 22.2 69.7 20.7 73.1 21.4C76.5 22 81.5 25.6 82.8 28.2C84.1 30.8 83.1 35.3 80.9 36.9C78.6 38.5 72.4 38.4 69.2 37.9C66 37.4 62.6 36.3 61.4 34C60.3 31.7 60.4 26.4 62.4 24.3Z" fill="#dfdfdf"/><ellipse cx="8" cy="28.2" rx="5.8" ry="10.7" fill="#c2c2c2" transform="rotate(10 8 28.2)"/><path d="M18.7 17.5C20.1 15.2 24.8 13.3 27.4 12.6C30 12 33.2 12.1 34.2 13.6C35.2 15.1 34.5 19.1 33.2 21.4C31.9 23.6 28.9 26.4 26.4 27.2C24 28 20 27.9 18.7 26.2C17.4 24.6 17.2 19.8 18.7 17.5Z" fill="#666666"/><path d="M14.8 13.6L24.5 9.2L34.2 7.3" fill="none" stroke="#666666" stroke-width="2.9" stroke-linecap="round" stroke-linejoin="round"/><path d="M4.1 40.8C5.7 39.2 11.7 38.1 13.8 38.9C15.9 39.7 16.9 43.7 16.7 45.7C16.6 47.6 14.9 50 12.8 50.5C10.7 51 5.5 50.2 4.1 48.6C2.6 47 2.5 42.4 4.1 40.8Z" fill="#666666"/><ellipse cx="11.9" cy="53" rx="6.8" ry="1.9" fill="#d1d1d1"/><path d="M41 1.9C43.3 1.1 51.1 0 53.6 0.5C56.2 1 56.6 3.3 56.6 4.9C56.6 6.4 55.7 8.9 53.6 9.7C51.5 10.5 46.2 10.4 43.9 9.7C41.7 9.1 40.5 7.1 40 5.8C39.6 4.5 38.7 2.8 41 1.9Z" fill="#666666"/><ellipse cx="53.6" cy="1" rx="4.4" ry="1.7" fill="#3d3d3d"/><path d="M61.4 4.9C63 4.2 67.2 5.8 70.2 7.8C73.1 9.7 78.4 14.6 78.9 16.5C79.4 18.5 75.2 19.4 73.1 19.4C71 19.4 68.4 17.8 66.3 16.5C64.2 15.2 61.3 13.6 60.4 11.7C59.6 9.7 59.8 5.5 61.4 4.9Z" fill="#666666"/><ellipse cx="73.1" cy="12.6" rx="3.9" ry="3.4" fill="#3d3d3d" transform="rotate(40 73.1 12.6)"/><ellipse cx="60.4" cy="16.5" rx="3.9" ry="1.4" fill="#666666"/><path d="M84 37.4C85.1 35.9 87.4 34.2 88.8 34.8C90.3 35.4 92.5 38.7 92.8 41C93.1 43.3 92.3 47.2 90.9 48.6C89.4 50 85.8 50.3 84.3 49.6C82.8 48.8 81.9 46 81.8 43.9C81.8 41.9 82.8 38.9 84 37.4Z" fill="#242424"/><ellipse cx="77.9" cy="43.7" rx="3.9" ry="3.4" fill="#666666"/><path d="M43 59.3C43.3 57.7 47 54.3 49.8 52.5C52.5 50.6 56.9 48.8 59.5 48.1C62.1 47.5 64.7 47.7 65.3 48.6C66 49.5 65 52 63.4 53.4C61.7 54.9 58.2 55.9 55.6 57.3C53 58.8 49.9 61.9 47.8 62.2C45.7 62.5 42.6 60.9 43 59.3Z" fill="#3d3d3d"/><ellipse cx="34.2" cy="58.3" rx="5.3" ry="7.3" fill="#c2c2c2" transform="rotate(20 34.2 58.3)"/></g>
<use href="#bshade"/>
</g>
<g transform="translate(55.1,691.3)" clip-path="url(#bclip)">
<g filter="url(#jet7)"><rect x="-12" y="-12" width="117" height="90" fill="#dfdfdf"/><path d="M-0.5 45.9C-0.6 42.6 -0.4 36.5 1 32.3C2.3 28.1 4.9 24 7.8 20.6C10.6 17.2 14 14.4 18 11.9C21.9 9.3 27.5 7 31.6 5.5C35.6 4.1 40.3 1.9 42.3 3.1C44.2 4.3 44.1 9.9 43.2 12.8C42.4 15.7 40.2 18.3 37.4 20.6C34.7 22.9 30.1 24.5 26.7 26.4C23.3 28.4 19.9 30.3 17 32.3C14.1 34.2 10.9 35.7 9.2 38.1C7.6 40.5 8.6 44.6 7.3 46.8C6 49.1 2.8 51.9 1.5 51.7C0.2 51.5 -0.4 49.1 -0.5 45.9Z" fill="#a3a3a3"/><ellipse cx="22.8" cy="20.6" rx="9.2" ry="4.9" fill="#c2c2c2" transform="rotate(-32 22.8 20.6)"/><ellipse cx="14.1" cy="29.3" rx="5.8" ry="3.4" fill="#d1d1d1" transform="rotate(-35 14.1 29.3)"/><ellipse cx="10.4" cy="25" rx="3.1" ry="2.9" fill="#666666"/><ellipse cx="10.2" cy="51.7" rx="8.7" ry="2.1" fill="#b2b2b2"/><ellipse cx="5.5" cy="49.8" rx="2.1" ry="0.8" fill="#666666"/><path d="M40.3 2.1C42 0.4 48.9 0.2 53 0.2C57 0.2 60.4 -0.1 64.6 2.1C68.8 4.4 76.9 11.5 78.2 13.8C79.5 16.1 75.3 15.9 72.4 15.7C69.5 15.6 64.3 12.8 60.7 12.8C57.2 12.8 53.9 16.1 51 15.7C48.1 15.4 45 13.2 43.2 10.9C41.5 8.6 38.7 3.9 40.3 2.1Z" fill="#666666"/><ellipse cx="48.1" cy="6.5" rx="4.4" ry="3.4" fill="#3d3d3d"/><ellipse cx="56.9" cy="0.7" rx="3.9" ry="1.4" fill="#0a0a0a"/><ellipse cx="64.1" cy="12.8" rx="4.4" ry="2.1" fill="#a3a3a3"/><path d="M42.3 11.9L39.4 20.6L38.4 29.3" fill="none" stroke="#a3a3a3" stroke-width="5.3" stroke-linecap="round" stroke-linejoin="round"/><ellipse cx="41.1" cy="22.5" rx="1" ry="1.9" fill="#666666" transform="rotate(25 41.1 22.5)"/><ellipse cx="80.7" cy="21.6" rx="2.7" ry="5.8" fill="#a3a3a3" transform="rotate(-25 80.7 21.6)"/><path d="M83.6 34.2C84.9 32.3 86.9 31 88.4 31.8C89.9 32.6 92.2 36.6 92.6 39.1C93 41.6 92.3 45.3 90.9 46.8C89.4 48.4 85.8 48.9 84.1 48.3C82.4 47.7 80.7 45.3 80.7 43C80.6 40.6 82.3 36.1 83.6 34.2Z" fill="#242424"/><ellipse cx="77.3" cy="43.9" rx="3.4" ry="3.4" fill="#666666"/><path d="M45.2 58.5L58.8 51.7L72.4 48.8" fill="none" stroke="#c2c2c2" stroke-width="3.4" stroke-linecap="round" stroke-linejoin="round"/></g>
<use href="#bshade"/>
</g>
<g transform="translate(104.9,785.5)" clip-path="url(#bclip)">
<g filter="url(#jet8)"><rect x="-12" y="-12" width="117" height="90" fill="#dfdfdf"/><path d="M-0.3 42.8C-0.5 39 -0.1 32.7 1.7 28.2C3.4 23.6 6.7 19 10.4 15.5C14.1 12.1 18.5 9.9 24 7.8C29.5 5.7 39.6 1.9 43.4 2.9C47.3 3.9 47.3 9.9 47.3 13.6C47.3 17.3 46 21.7 43.4 25.3C40.8 28.8 35.7 32.1 31.8 35C27.9 37.9 23 40.2 20.1 42.8C17.2 45.4 17.2 49.2 14.3 50.5C11.4 51.8 5.1 51.8 2.6 50.5C0.2 49.2 -0.1 46.5 -0.3 42.8Z" fill="#a3a3a3"/><ellipse cx="25.9" cy="23.3" rx="8.7" ry="3.9" fill="#b2b2b2" transform="rotate(-30 25.9 23.3)"/><ellipse cx="28.9" cy="21.4" rx="2.9" ry="1.7" fill="#c2c2c2" transform="rotate(-30 28.9 21.4)"/><path d="M6.5 33C7.3 30.8 10.2 29.2 11.4 30.1C12.5 31.1 13.3 36.3 13.3 38.9C13.3 41.5 12.5 44.9 11.4 45.7C10.2 46.5 7.3 45.8 6.5 43.7C5.7 41.6 5.7 35.3 6.5 33Z" fill="#666666"/><ellipse cx="14.3" cy="52.5" rx="9.7" ry="1.9" fill="#d1d1d1"/><path d="M43.4 1.9C45.4 0.8 51.9 -0.2 55.1 0C58.3 0.2 62.2 1.5 62.9 2.9C63.5 4.4 61.4 7.6 59 8.7C56.6 9.9 50.9 10 48.3 9.7C45.7 9.4 44.3 8.1 43.4 6.8C42.6 5.5 41.5 3.1 43.4 1.9Z" fill="#666666"/><ellipse cx="55.1" cy="1" rx="4.9" ry="1.7" fill="#3d3d3d"/><path d="M47.3 10.7C48.9 9.2 55.1 8.6 59 8.7C62.9 8.9 68.4 10.2 70.7 11.7C72.9 13.1 74.2 16.7 72.6 17.5C71 18.3 64.8 16.5 60.9 16.5C57 16.5 51.5 18.5 49.3 17.5C47 16.5 45.7 12.1 47.3 10.7Z" fill="#b2b2b2"/><ellipse cx="72.6" cy="10.7" rx="3.9" ry="2.9" fill="#666666" transform="rotate(40 72.6 10.7)"/><ellipse cx="81.3" cy="23.3" rx="2.7" ry="5.3" fill="#a3a3a3" transform="rotate(-25 81.3 23.3)"/><path d="M83.8 34.5C85.1 32.7 87.2 31.1 88.6 31.9C90.1 32.6 92.2 36.5 92.6 39.1C93 41.6 92.3 45.5 90.9 47.1C89.5 48.7 85.9 49.3 84.3 48.6C82.6 47.9 80.9 45.3 80.9 43C80.8 40.6 82.5 36.3 83.8 34.5Z" fill="#242424"/><ellipse cx="77.5" cy="44.2" rx="3.4" ry="3.4" fill="#666666"/><path d="M48.3 50.5C49.8 48.9 54.8 47.5 58 46.6C61.3 45.8 66.3 44.9 67.7 45.7C69.2 46.5 68.5 50 66.8 51.5C65 53 60 53.6 57 54.4C54.1 55.2 50.7 57 49.3 56.4C47.8 55.7 46.8 52.2 48.3 50.5Z" fill="#a3a3a3"/><ellipse cx="57" cy="52.5" rx="3.9" ry="1.7" fill="#666666" transform="rotate(-20 57 52.5)"/></g>
<use href="#bshade"/>
</g>
<g transform="translate(192.9,845.5)" clip-path="url(#bclip)">
<g filter="url(#jet9)"><rect x="-12" y="-12" width="117" height="90" fill="#b2b2b2"/><path d="M20.1 41.8C22.1 39.2 28.5 37.7 32.8 36C37 34.2 41.2 31.6 45.4 31.1C49.6 30.6 56.4 31.4 58 33C59.6 34.7 57.2 38.5 55.1 40.8C53 43.1 49.1 44.9 45.4 46.6C41.7 48.4 36.8 50.7 32.8 51.5C28.7 52.3 23.2 53.1 21.1 51.5C19 49.9 18.2 44.4 20.1 41.8Z" fill="#dfdfdf"/><path d="M43.4 19.4C45.4 17.3 51.7 16.2 55.1 16.5C58.5 16.8 62.7 19.1 63.8 21.4C65 23.6 64 27.9 61.9 30.1C59.8 32.4 54.3 35.1 51.2 35C48.1 34.8 44.7 31.7 43.4 29.2C42.1 26.6 41.5 21.5 43.4 19.4Z" fill="#dfdfdf"/><path d="M63.8 25.3C65.8 23 71.3 22.5 74.5 23.3C77.8 24.1 82.3 27.4 83.3 30.1C84.3 32.9 82.6 37.7 80.4 39.8C78.1 42 72.6 43.2 69.7 42.8C66.8 42.3 63.8 39.8 62.9 36.9C61.9 34 61.9 27.5 63.8 25.3Z" fill="#dfdfdf"/><ellipse cx="49.3" cy="27.2" rx="6.8" ry="3.9" fill="#f2f2f2" transform="rotate(-30 49.3 27.2)"/><path d="M1.7 33L6.5 23.3L15.3 14.6L28.9 7.8" fill="none" stroke="#666666" stroke-width="2.9" stroke-linecap="round" stroke-linejoin="round"/><ellipse cx="16.2" cy="23.3" rx="3.9" ry="6.8" fill="#d1d1d1" transform="rotate(30 16.2 23.3)"/><ellipse cx="27.9" cy="15.1" rx="3.9" ry="1.7" fill="#666666" transform="rotate(-30 27.9 15.1)"/><ellipse cx="33.7" cy="23.3" rx="3.9" ry="8.7" fill="#a3a3a3" transform="rotate(10 33.7 23.3)"/><path d="M2.6 42.8C4 41.3 9.3 40.2 11.4 40.8C13.5 41.5 15.4 44.9 15.3 46.6C15.1 48.4 12.4 51 10.4 51.5C8.4 52 4.4 51 3.1 49.6C1.8 48.1 1.2 44.2 2.6 42.8Z" fill="#666666"/><ellipse cx="14.3" cy="52.5" rx="6.8" ry="1.7" fill="#c2c2c2"/><ellipse cx="35.7" cy="7.8" rx="5.8" ry="3.4" fill="#c2c2c2"/><path d="M44.4 1.9C45.8 0.8 51.2 0 53.2 0.5C55.1 1 56.4 3.5 56.1 4.9C55.7 6.2 53.1 8.3 51.2 8.7C49.4 9.2 46 8.4 44.9 7.3C43.8 6.2 43 3.1 44.4 1.9Z" fill="#666666"/><ellipse cx="64.8" cy="11.7" rx="8.7" ry="5.8" fill="#b2b2b2" transform="rotate(30 64.8 11.7)"/><ellipse cx="70.7" cy="20.4" rx="3.9" ry="3.4" fill="#a3a3a3"/><path d="M84.3 33.5C85.6 31.4 87.9 30 89.3 30.9C90.7 31.8 92.4 36.1 92.6 38.9C92.9 41.7 92.2 45.9 90.9 47.6C89.6 49.3 86.3 49.7 84.7 49.1C83.2 48.4 81.4 46.3 81.3 43.7C81.3 41.1 82.9 35.7 84.3 33.5Z" fill="#242424"/><ellipse cx="77.5" cy="44.7" rx="3.9" ry="2.9" fill="#666666"/><path d="M41.5 59.3C42.3 57.7 46.4 54.3 49.3 52.5C52.2 50.6 56.6 48.6 59 48.1C61.4 47.6 63.5 48.5 63.8 49.6C64.2 50.6 62.9 53 60.9 54.4C59 55.9 54.9 57 52.2 58.3C49.4 59.6 46.2 62 44.4 62.2C42.6 62.4 40.7 60.9 41.5 59.3Z" fill="#666666"/><ellipse cx="34.7" cy="57.3" rx="5.3" ry="7.3" fill="#a3a3a3" transform="rotate(20 34.7 57.3)"/></g>
<use href="#bshade"/>
</g>
<g transform="translate(298.6,857.9)" clip-path="url(#bclip)">
<g filter="url(#jet10)"><rect x="-12" y="-12" width="117" height="90" fill="#a3a3a3"/><path d="M22.4 40.3C24.1 38.1 30.5 36.8 35 35.5C39.5 34.2 44.7 33 49.6 32.6C54.4 32.1 62 31.3 64.1 32.6C66.2 33.9 64.6 38.2 62.2 40.3C59.8 42.4 54.1 43.7 49.6 45.2C45 46.6 39.2 48.4 35 49.1C30.8 49.7 26.4 50.5 24.3 49.1C22.2 47.6 20.6 42.6 22.4 40.3Z" fill="#dfdfdf"/><path d="M40.8 13.1C43.2 11.7 51.2 9.6 54.4 10.2C57.7 10.9 59.9 14.7 60.3 17C60.6 19.3 59 22.5 56.4 23.8C53.8 25.1 47.5 25.6 44.7 24.8C42 24 40.5 20.9 39.8 19C39.2 17 38.4 14.6 40.8 13.1Z" fill="#d1d1d1"/><path d="M64.1 26.7C65.9 23.6 70.6 20.4 73.9 19.9C77.1 19.4 81.3 21.1 83.6 23.8C85.8 26.6 87.8 32.7 87.5 36.4C87.1 40.2 84.5 44.5 81.6 46.2C78.7 47.8 73 47.5 70 46.2C66.9 44.9 64.1 41.6 63.2 38.4C62.2 35.1 62.4 29.8 64.1 26.7Z" fill="#dfdfdf"/><ellipse cx="48.6" cy="38.4" rx="11.7" ry="3.4" fill="#f2f2f2" transform="rotate(-20 48.6 38.4)"/><path d="M54.4 17C55.9 15.4 64.9 15.4 69 16C73 16.7 77.9 19.1 78.7 20.9C79.5 22.7 76.9 25.9 73.9 26.7C70.8 27.5 63.5 27.4 60.3 25.8C57 24.1 53 18.6 54.4 17Z" fill="#a3a3a3"/><ellipse cx="15.5" cy="19.9" rx="5.8" ry="2.9" fill="#c2c2c2" transform="rotate(-30 15.5 19.9)"/><path d="M17.5 12.1L25.3 7.3L30.1 5.8" fill="none" stroke="#666666" stroke-width="2.1" stroke-linecap="round" stroke-linejoin="round"/><path d="M45.7 1.5L54.4 0.5L63.2 1.9" fill="none" stroke="#666666" stroke-width="2.4" stroke-linecap="round" stroke-linejoin="round"/><path d="M3.9 38.4C5 35.1 8.7 30.6 10.7 30.6C12.6 30.6 14.6 35.8 15.5 38.4C16.5 41 17.2 43.9 16.5 46.2C15.9 48.4 13.8 51.3 11.7 52C9.6 52.6 5.2 52.3 3.9 50C2.6 47.8 2.8 41.6 3.9 38.4Z" fill="#666666"/><ellipse cx="28.2" cy="44.2" rx="5.8" ry="2.9" fill="#c2c2c2"/><path d="M41.8 60.7C42.1 59.1 45.8 55.1 48.6 53C51.3 50.9 55.4 49 58.3 48.1C61.2 47.2 65.1 46.8 66.1 47.6C67.1 48.4 65.9 51.4 64.1 53C62.4 54.5 58.3 55.2 55.4 56.9C52.5 58.5 48.9 62 46.6 62.7C44.4 63.3 41.5 62.4 41.8 60.7Z" fill="#3d3d3d"/><ellipse cx="54.4" cy="54.9" rx="5.8" ry="2.4" fill="#0a0a0a" transform="rotate(-25 54.4 54.9)"/><ellipse cx="91.4" cy="42.3" rx="1.5" ry="5.3" fill="#666666" transform="rotate(-10 91.4 42.3)"/><ellipse cx="35" cy="57.8" rx="5.3" ry="6.8" fill="#b2b2b2" transform="rotate(20 35 57.8)"/></g>
<use href="#bshade"/>
</g>
<g transform="translate(398.1,819.6)" clip-path="url(#bclip)">
<g filter="url(#jet11)"><rect x="-12" y="-12" width="117" height="90" fill="#dfdfdf"/><path d="M0.5 45.7L1.9 34L7.8 22.4L17 13.6L30.6 6.8L40.3 3.9" fill="none" stroke="#a3a3a3" stroke-width="11.7" stroke-linecap="round" stroke-linejoin="round"/><ellipse cx="6.3" cy="39.8" rx="4.9" ry="12.6" fill="#a3a3a3" transform="rotate(5 6.3 39.8)"/><path d="M19.9 17.5C21.5 15.5 26.7 13.1 29.6 12.6C32.6 12.1 36.4 13 37.4 14.6C38.4 16.2 37.1 20.6 35.5 22.4C33.9 24.1 30.3 24.9 27.7 25.3C25.1 25.6 21.2 25.6 19.9 24.3C18.6 23 18.3 19.4 19.9 17.5Z" fill="#dfdfdf"/><ellipse cx="18" cy="24.3" rx="8.7" ry="2.9" fill="#c2c2c2" transform="rotate(-35 18 24.3)"/><path d="M39.4 3.9C41.1 2.6 46.8 1.1 51 1C55.2 0.8 60.7 1.3 64.6 2.9C68.5 4.5 73.4 9.1 74.3 10.7C75.3 12.3 73 13 70.5 12.6C67.9 12.3 62.7 9.2 58.8 8.7C54.9 8.3 50.2 9.7 47.1 9.7C44.1 9.7 41.6 9.7 40.3 8.7C39 7.8 37.6 5.2 39.4 3.9Z" fill="#666666"/><ellipse cx="59.3" cy="1.5" rx="4.9" ry="1.6" fill="#3d3d3d"/><path d="M45.2 9.7C47.1 8.4 54.3 8.3 58.8 8.7C63.3 9.2 70.1 11.3 72.4 12.6C74.7 13.9 74.7 16 72.4 16.5C70.1 17 63 15.5 58.8 15.5C54.6 15.5 49.4 17.5 47.1 16.5C44.9 15.5 43.2 11 45.2 9.7Z" fill="#a3a3a3"/><path d="M33.5 14.6C35.5 11.8 41.6 12 45.2 13.6C48.8 15.2 53.6 20.9 54.9 24.3C56.2 27.7 55.2 32.1 53 34C50.7 36 44.5 36.6 41.3 36C38.1 35.3 34.8 33.7 33.5 30.1C32.2 26.6 31.6 17.3 33.5 14.6Z" fill="#a3a3a3"/><ellipse cx="45.2" cy="26.2" rx="3.9" ry="2.9" fill="#c2c2c2"/><path d="M74.3 18.5C75.8 15.5 80.5 19.4 83.1 22.4C85.7 25.3 89.1 31.7 89.9 36C90.7 40.2 89.9 45.5 87.9 47.6C86 49.7 80.5 49.9 78.2 48.6C76 47.3 75 44.9 74.3 39.8C73.7 34.8 72.9 21.4 74.3 18.5Z" fill="#b2b2b2"/><ellipse cx="84.1" cy="30.1" rx="3.9" ry="4.9" fill="#c2c2c2"/><ellipse cx="90.4" cy="42.8" rx="1.7" ry="5.3" fill="#666666" transform="rotate(-10 90.4 42.8)"/><path d="M28.7 60.3C29.8 58.1 33.7 54.4 37.4 52.5C41.1 50.5 46.5 49.4 51 48.6C55.6 47.8 60.7 47.6 64.6 47.6C68.5 47.6 75 47.3 74.3 48.6C73.7 49.9 65.3 53.3 60.7 55.4C56.2 57.5 51 59.4 47.1 61.2C43.2 63 40.2 65.4 37.4 66.1C34.7 66.7 32.1 66.1 30.6 65.1C29.2 64.1 27.5 62.4 28.7 60.3Z" fill="#c2c2c2"/><ellipse cx="54.9" cy="53.4" rx="11.7" ry="2.4" fill="#b2b2b2" transform="rotate(-20 54.9 53.4)"/><ellipse cx="12.6" cy="26.7" rx="1.4" ry="1.6" fill="#666666"/><ellipse cx="7.8" cy="51" rx="2.1" ry="0.8" fill="#666666"/><ellipse cx="12.1" cy="52.5" rx="7.8" ry="2.1" fill="#a3a3a3"/></g>
<use href="#bshade"/>
</g>
<g transform="translate(468,739.6)" clip-path="url(#bclip)">
<g filter="url(#jet12)"><rect x="-12" y="-12" width="117" height="90" fill="#dfdfdf"/><ellipse cx="5.3" cy="38.9" rx="5.8" ry="14.6" fill="#a3a3a3" transform="rotate(5 5.3 38.9)"/><path d="M2.4 31.1L9.2 20.4L19 12.6L32.6 6.3" fill="none" stroke="#b2b2b2" stroke-width="5.8" stroke-linecap="round" stroke-linejoin="round"/><path d="M1.5 34L7.3 22.4L16 14.6L28.7 7.8" fill="none" stroke="#d1d1d1" stroke-width="4.9" stroke-linecap="round" stroke-linejoin="round"/><ellipse cx="11.2" cy="29.2" rx="3.1" ry="6.3" fill="#666666" transform="rotate(25 11.2 29.2)"/><path d="M32.6 4.9C34.2 3 41.3 2.1 46.2 1.5C51 0.8 56.5 -1.1 61.7 1C66.9 3 75.6 11.2 77.3 13.6C78.9 16 74.3 15.5 71.4 15.5C68.5 15.5 63.7 13.4 59.8 13.6C55.9 13.8 52 16.7 48.1 16.5C44.2 16.4 39 14.6 36.4 12.6C33.9 10.7 30.9 6.7 32.6 4.9Z" fill="#666666"/><path d="M44.2 1.9C45.2 0.9 52.3 -0.2 55.9 0C59.4 0.2 64.9 1.9 65.6 2.9C66.2 4 62.4 5.7 59.8 6.3C57.2 6.9 52.6 7 50 6.3C47.5 5.6 43.2 3 44.2 1.9Z" fill="#0a0a0a"/><path d="M40.3 10.7L38.4 18.5L36.4 26.2" fill="none" stroke="#a3a3a3" stroke-width="4.9" stroke-linecap="round" stroke-linejoin="round"/><ellipse cx="37.4" cy="30.1" rx="2.9" ry="3.9" fill="#666666"/><ellipse cx="49.1" cy="14.6" rx="2.9" ry="4.9" fill="#a3a3a3" transform="rotate(10 49.1 14.6)"/><ellipse cx="66.6" cy="13.1" rx="4.9" ry="1.7" fill="#a3a3a3"/><path d="M40.3 24.3C42.4 22.4 48.8 20.7 52 21.4C55.2 22 59.1 25.4 59.8 28.2C60.4 30.9 58.5 35.8 55.9 37.9C53.3 40 47 41.6 44.2 40.8C41.5 40 40 35.8 39.4 33C38.7 30.3 38.2 26.2 40.3 24.3Z" fill="#b2b2b2"/><ellipse cx="53.9" cy="28.2" rx="1.4" ry="1" fill="#666666"/><ellipse cx="45.2" cy="36.9" rx="5.8" ry="2.4" fill="#c2c2c2" transform="rotate(-25 45.2 36.9)"/><path d="M20.9 39.8C22.2 38.5 27.9 37.6 30.6 37.9C33.4 38.2 37.1 40.3 37.4 41.8C37.7 43.2 35 46 32.6 46.6C30.1 47.3 24.8 46.8 22.8 45.7C20.9 44.5 19.6 41.1 20.9 39.8Z" fill="#a3a3a3"/><ellipse cx="82.1" cy="23.3" rx="2.9" ry="6.3" fill="#c2c2c2" transform="rotate(-25 82.1 23.3)"/><path d="M74.3 37.9C75.8 36 81.1 34.3 83.1 35C85 35.6 86.3 39.7 86 41.8C85.7 43.9 83.1 46.8 81.1 47.6C79.2 48.4 75.5 48.3 74.3 46.6C73.2 45 72.9 39.8 74.3 37.9Z" fill="#a3a3a3"/><path d="M84.1 34C85 32.4 87.5 30.9 88.9 32.1C90.3 33.2 92.1 38.1 92.3 40.8C92.6 43.6 91.6 47.1 90.4 48.6C89.2 50 86.2 50.7 85 49.6C83.8 48.4 83.3 44.4 83.1 41.8C82.9 39.2 83.1 35.6 84.1 34Z" fill="#3d3d3d"/><ellipse cx="89.9" cy="42.8" rx="2.1" ry="4.9" fill="#0a0a0a" transform="rotate(-10 89.9 42.8)"/><ellipse cx="11.2" cy="51.5" rx="9.7" ry="2.4" fill="#a3a3a3"/><ellipse cx="11.2" cy="49.8" rx="2.4" ry="0.8" fill="#666666"/></g>
<use href="#bshade"/>
</g>
</g>
<g id="sunburst">
<path d="M1212.6 666.8A253.4 253.4 0 0 0 1210.43 633.72L1084.62 650.29A126.5 126.5 0 0 1 1085.7 666.8Z" fill="#4ac16d"/>
<path d="M1210.43 633.72A253.4 253.4 0 0 0 1204.31 602.5L1081.56 634.7A126.5 126.5 0 0 1 1084.62 650.29Z" fill="#38b777"/>
<path d="M1204.31 602.5A253.4 253.4 0 0 0 1194.81 573.52L1076.82 620.23A126.5 126.5 0 0 1 1081.56 634.7Z" fill="#29ad80"/>
<path d="M1194.81 573.52A253.4 253.4 0 0 0 1182.1 546.28L1070.48 606.63A126.5 126.5 0 0 1 1076.82 620.23Z" fill="#24aa83"/>
<path d="M1182.1 546.28A253.4 253.4 0 0 0 1166.77 521.46L1062.82 594.24A126.5 126.5 0 0 1 1070.48 606.63Z" fill="#22a485"/>
<path d="M1166.77 521.46A253.4 253.4 0 0 0 1148.52 498.36L1053.71 582.71A126.5 126.5 0 0 1 1062.82 594.24Z" fill="#22a485"/>
<path d="M1148.52 498.36A253.4 253.4 0 0 0 1128.1 477.9L1043.52 572.5A126.5 126.5 0 0 1 1053.71 582.71Z" fill="#22a485"/>
<path d="M1128.1 477.9A253.4 253.4 0 0 0 1104.91 459.48L1031.94 563.3A126.5 126.5 0 0 1 1043.52 572.5Z" fill="#22a485"/>
<path d="M1104.91 459.48A253.4 253.4 0 0 0 1080.5 444.32L1019.75 555.74A126.5 126.5 0 0 1 1031.94 563.3Z" fill="#22a187"/>
<path d="M1080.5 444.32A253.4 253.4 0 0 0 1055.35 432.35L1007.2 549.76A126.5 126.5 0 0 1 1019.75 555.74Z" fill="#219b88"/>
<path d="M1055.35 432.35A253.4 253.4 0 0 0 1029.47 423.34L994.28 545.26A126.5 126.5 0 0 1 1007.2 549.76Z" fill="#219889"/>
<path d="M1029.47 423.34A253.4 253.4 0 0 0 1003.2 417.25L981.17 542.22A126.5 126.5 0 0 1 994.28 545.26Z" fill="#21968a"/>
<path d="M1003.2 417.25A253.4 253.4 0 0 0 976.88 414.02L968.02 540.61A126.5 126.5 0 0 1 981.17 542.22Z" fill="#21938b"/>
<path d="M976.88 414.02A253.4 253.4 0 0 0 950.49 413.55L954.85 540.37A126.5 126.5 0 0 1 968.02 540.61Z" fill="#21928c"/>
<path d="M950.49 413.55A253.4 253.4 0 0 0 924.55 415.78L941.9 541.49A126.5 126.5 0 0 1 954.85 540.37Z" fill="#21908c"/>
<path d="M924.55 415.78A253.4 253.4 0 0 0 899.19 420.61L929.24 543.9A126.5 126.5 0 0 1 941.9 541.49Z" fill="#228e8c"/>
<path d="M899.19 420.61A253.4 253.4 0 0 0 874.61 427.93L916.97 547.56A126.5 126.5 0 0 1 929.24 543.9Z" fill="#228d8c"/>
<path d="M874.61 427.93A253.4 253.4 0 0 0 851.31 437.52L905.34 552.34A126.5 126.5 0 0 1 916.97 547.56Z" fill="#248a8d"/>
<path d="M851.31 437.52A253.4 253.4 0 0 0 829.45 449.14L894.43 558.14A126.5 126.5 0 0 1 905.34 552.34Z" fill="#25878d"/>
<path d="M829.45 449.14A253.4 253.4 0 0 0 809.18 462.58L884.31 564.85A126.5 126.5 0 0 1 894.43 558.14Z" fill="#25868d"/>
<path d="M809.18 462.58A253.4 253.4 0 0 0 789.97 478.19L874.72 572.64A126.5 126.5 0 0 1 884.31 564.85Z" fill="#25868d"/>
<path d="M789.97 478.19A253.4 253.4 0 0 0 772.67 495.28L866.08 581.18A126.5 126.5 0 0 1 874.72 572.64Z" fill="#26848d"/>
<path d="M772.67 495.28A253.4 253.4 0 0 0 757.36 513.59L858.44 590.32A126.5 126.5 0 0 1 866.08 581.18Z" fill="#27818d"/>
<path d="M757.36 513.59A253.4 253.4 0 0 0 743.84 533.27L851.69 600.14A126.5 126.5 0 0 1 858.44 590.32Z" fill="#27818d"/>
<path d="M743.84 533.27A253.4 253.4 0 0 0 732.82 552.94L846.19 609.96A126.5 126.5 0 0 1 851.69 600.14Z" fill="#297b8e"/>
<path d="M732.82 552.94A253.4 253.4 0 0 0 723.27 574.34L841.42 620.64A126.5 126.5 0 0 1 846.19 609.96Z" fill="#297b8e"/>
<path d="M723.27 574.34A253.4 253.4 0 0 0 715.86 596.1L837.72 631.51A126.5 126.5 0 0 1 841.42 620.64Z" fill="#297b8e"/>
<path d="M715.86 596.1A253.4 253.4 0 0 0 710.49 618.28L835.04 642.58A126.5 126.5 0 0 1 837.72 631.51Z" fill="#297a8e"/>
<path d="M710.49 618.28A253.4 253.4 0 0 0 707.2 640.18L833.4 653.51A126.5 126.5 0 0 1 835.04 642.58Z" fill="#2b768e"/>
<path d="M707.2 640.18A253.4 253.4 0 0 0 705.83 662.6L832.72 664.7A126.5 126.5 0 0 1 833.4 653.51Z" fill="#2b768e"/>
<path d="M705.83 662.6A253.4 253.4 0 0 0 706.3 682.71L832.95 674.74A126.5 126.5 0 0 1 832.72 664.7Z" fill="#31698d"/>
<path d="M706.3 682.71A253.4 253.4 0 0 0 708.39 702.94L833.99 684.84A126.5 126.5 0 0 1 832.95 674.74Z" fill="#31698d"/>
<path d="M708.39 702.94A253.4 253.4 0 0 0 712.1 722.94L835.84 694.83A126.5 126.5 0 0 1 833.99 684.84Z" fill="#31698d"/>
<path d="M712.1 722.94A253.4 253.4 0 0 0 717.33 742.37L838.46 704.52A126.5 126.5 0 0 1 835.84 694.83Z" fill="#31688d"/>
<path d="M717.33 742.37A253.4 253.4 0 0 0 723.86 760.74L841.71 713.7A126.5 126.5 0 0 1 838.46 704.52Z" fill="#33638d"/>
<path d="M723.86 760.74A253.4 253.4 0 0 0 731.17 777.33L845.37 721.98A126.5 126.5 0 0 1 841.71 713.7Z" fill="#355e8d"/>
<path d="M731.17 777.33A253.4 253.4 0 0 0 740.19 794.27L849.87 730.43A126.5 126.5 0 0 1 845.37 721.98Z" fill="#355e8d"/>
<path d="M740.19 794.27A253.4 253.4 0 0 0 750.12 809.96L854.82 738.27A126.5 126.5 0 0 1 849.87 730.43Z" fill="#355e8d"/>
<path d="M750.12 809.96A253.4 253.4 0 0 0 761.44 825.24L860.48 745.89A126.5 126.5 0 0 1 854.82 738.27Z" fill="#355e8d"/>
<path d="M761.44 825.24A253.4 253.4 0 0 0 772.67 838.32L866.08 752.42A126.5 126.5 0 0 1 860.48 745.89Z" fill="#39578b"/>
<path d="M772.67 838.32A253.4 253.4 0 0 0 785.41 851.22L872.44 758.86A126.5 126.5 0 0 1 866.08 752.42Z" fill="#39578b"/>
<path d="M785.41 851.22A253.4 253.4 0 0 0 798.02 862.33L878.74 764.41A126.5 126.5 0 0 1 872.44 758.86Z" fill="#404687"/>
<path d="M798.02 862.33A253.4 253.4 0 0 0 809.9 871.54L884.67 769.01A126.5 126.5 0 0 1 878.74 764.41Z" fill="#414487"/>
<path d="M809.9 871.54A253.4 253.4 0 0 0 821.93 879.8L890.67 773.13A126.5 126.5 0 0 1 884.67 769.01Z" fill="#424185"/>
<path d="M821.93 879.8A253.4 253.4 0 0 0 850.91 895.89L905.14 781.17A126.5 126.5 0 0 1 890.67 773.13Z" fill="#e9e29c"/>
<path d="M850.91 895.89A253.4 253.4 0 0 0 880.05 907.52L919.69 786.97A126.5 126.5 0 0 1 905.14 781.17Z" fill="#ead996"/>
<path d="M880.05 907.52A253.4 253.4 0 0 0 909.81 915.34L934.54 790.87A126.5 126.5 0 0 1 919.69 786.97Z" fill="#ebd391"/>
<path d="M909.81 915.34A253.4 253.4 0 0 0 940.07 919.48L949.65 792.94A126.5 126.5 0 0 1 934.54 790.87Z" fill="#ebd18f"/>
<path d="M940.07 919.48A253.4 253.4 0 0 0 969.5 919.99L964.34 793.2A126.5 126.5 0 0 1 949.65 792.94Z" fill="#ecc687"/>
<path d="M969.5 919.99A253.4 253.4 0 0 0 998.4 917.15L978.77 791.78A126.5 126.5 0 0 1 964.34 793.2Z" fill="#ecc284"/>
<path d="M998.4 917.15A253.4 253.4 0 0 0 1026.28 911.16L992.69 788.79A126.5 126.5 0 0 1 978.77 791.78Z" fill="#edbd80"/>
<path d="M1026.28 911.16A253.4 253.4 0 0 0 1052.89 902.24L1005.97 784.34A126.5 126.5 0 0 1 992.69 788.79Z" fill="#eeb97c"/>
<path d="M1052.89 902.24A253.4 253.4 0 0 0 1075.62 891.87L1017.32 779.16A126.5 126.5 0 0 1 1005.97 784.34Z" fill="#eb9a75"/>
<path d="M1075.62 891.87A253.4 253.4 0 0 0 1097.21 879.32L1028.1 772.89A126.5 126.5 0 0 1 1017.32 779.16Z" fill="#eb9a75"/>
<path d="M1097.21 879.32A253.4 253.4 0 0 0 1117.77 864.45L1038.36 765.47A126.5 126.5 0 0 1 1028.1 772.89Z" fill="#eb9a75"/>
<path d="M1117.77 864.45A253.4 253.4 0 0 0 1136.18 848.16L1047.55 757.34A126.5 126.5 0 0 1 1038.36 765.47Z" fill="#ea9774"/>
<path d="M1136.18 848.16A253.4 253.4 0 0 0 1153.23 829.78L1056.06 748.16A126.5 126.5 0 0 1 1047.55 757.34Z" fill="#ea9774"/>
<path d="M1153.23 829.78A253.4 253.4 0 0 0 1168.03 810.33L1063.45 738.45A126.5 126.5 0 0 1 1056.06 748.16Z" fill="#ea9374"/>
<path d="M1168.03 810.33A253.4 253.4 0 0 0 1180.76 789.77L1069.81 728.19A126.5 126.5 0 0 1 1063.45 738.45Z" fill="#ea9073"/>
<path d="M1180.76 789.77A253.4 253.4 0 0 0 1191.41 768.25L1075.12 717.44A126.5 126.5 0 0 1 1069.81 728.19Z" fill="#e98f73"/>
<path d="M1191.41 768.25A253.4 253.4 0 0 0 1199.92 745.95L1079.37 706.31A126.5 126.5 0 0 1 1075.12 717.44Z" fill="#e98d73"/>
<path d="M1199.92 745.95A253.4 253.4 0 0 0 1206.11 723.8L1082.46 695.26A126.5 126.5 0 0 1 1079.37 706.31Z" fill="#e88471"/>
<path d="M1206.11 723.8A253.4 253.4 0 0 0 1209.75 704.69L1084.28 685.72A126.5 126.5 0 0 1 1082.46 695.26Z" fill="#d5647b"/>
<path d="M1209.75 704.69A253.4 253.4 0 0 0 1211.93 685.23L1085.37 676A126.5 126.5 0 0 1 1084.28 685.72Z" fill="#d5647b"/>
<path d="M1211.93 685.23A253.4 253.4 0 0 0 1212.6 666.8L1085.7 666.8A126.5 126.5 0 0 1 1085.37 676Z" fill="#cf5a7e"/>
<g><path d="M1085.7 666.8A126.5 126.5 0 1 0 890.67 773.13L905.14 750.69A99.8 99.8 0 1 1 1059 666.8Z" fill="#49c06d"/><path d="M1085.66 663.51A126.5 126.5 0 1 0 890.67 773.13L905.14 750.69A99.8 99.8 0 1 1 1058.97 664.2Z" fill="#48c06e"/><path d="M1085.53 660.22A126.5 126.5 0 1 0 890.67 773.13L905.14 750.69A99.8 99.8 0 1 1 1058.86 661.61Z" fill="#46bf6f"/><path d="M1085.31 656.93A126.5 126.5 0 1 0 890.67 773.13L905.14 750.69A99.8 99.8 0 1 1 1058.7 659.01Z" fill="#44be70"/><path d="M1085.01 653.65A126.5 126.5 0 1 0 890.67 773.13L905.14 750.69A99.8 99.8 0 1 1 1058.46 656.42Z" fill="#42bc71"/><path d="M1084.63 650.38A126.5 126.5 0 1 0 890.67 773.13L905.14 750.69A99.8 99.8 0 1 1 1058.16 653.84Z" fill="#3fbb73"/><path d="M1084.16 647.12A126.5 126.5 0 1 0 890.67 773.13L905.14 750.69A99.8 99.8 0 1 1 1057.78 651.27Z" fill="#3cb975"/><path d="M1083.6 643.87A126.5 126.5 0 1 0 890.67 773.13L905.14 750.69A99.8 99.8 0 1 1 1057.35 648.71Z" fill="#39b777"/><path d="M1082.97 640.64A126.5 126.5 0 1 0 890.67 773.13L905.14 750.69A99.8 99.8 0 1 1 1056.84 646.16Z" fill="#35b579"/><path d="M1082.24 637.43A126.5 126.5 0 1 0 890.67 773.13L905.14 750.69A99.8 99.8 0 1 1 1056.27 643.63Z" fill="#32b37a"/><path d="M1081.44 634.23A126.5 126.5 0 1 0 890.67 773.13L905.14 750.69A99.8 99.8 0 1 1 1055.64 641.11Z" fill="#30b17c"/><path d="M1080.55 631.06A126.5 126.5 0 1 0 890.67 773.13L905.14 750.69A99.8 99.8 0 1 1 1054.93 638.61Z" fill="#2daf7e"/><path d="M1079.58 627.92A126.5 126.5 0 1 0 890.67 773.13L905.14 750.69A99.8 99.8 0 1 1 1054.17 636.12Z" fill="#2bae7f"/><path d="M1078.52 624.79A126.5 126.5 0 1 0 890.67 773.13L905.14 750.69A99.8 99.8 0 1 1 1053.34 633.66Z" fill="#29ad80"/><path d="M1077.39 621.7A126.5 126.5 0 1 0 890.67 773.13L905.14 750.69A99.8 99.8 0 1 1 1052.44 631.22Z" fill="#27ab81"/><path d="M1076.17 618.64A126.5 126.5 0 1 0 890.67 773.13L905.14 750.69A99.8 99.8 0 1 1 1051.48 628.81Z" fill="#26aa82"/><path d="M1074.88 615.61A126.5 126.5 0 1 0 890.67 773.13L905.14 750.69A99.8 99.8 0 1 1 1050.46 626.42Z" fill="#25a982"/><path d="M1073.51 612.62A126.5 126.5 0 1 0 890.67 773.13L905.14 750.69A99.8 99.8 0 1 1 1049.38 624.05Z" fill="#24a883"/><path d="M1072.06 609.66A126.5 126.5 0 1 0 890.67 773.13L905.14 750.69A99.8 99.8 0 1 1 1048.24 621.72Z" fill="#24a884"/><path d="M1070.53 606.74A126.5 126.5 0 1 0 890.67 773.13L905.14 750.69A99.8 99.8 0 1 1 1047.03 619.42Z" fill="#23a784"/><path d="M1068.93 603.86A126.5 126.5 0 1 0 890.67 773.13L905.14 750.69A99.8 99.8 0 1 1 1045.77 617.15Z" fill="#23a684"/><path d="M1067.26 601.03A126.5 126.5 0 1 0 890.67 773.13L905.14 750.69A99.8 99.8 0 1 1 1044.45 614.91Z" fill="#22a585"/><path d="M1065.51 598.24A126.5 126.5 0 1 0 890.67 773.13L905.14 750.69A99.8 99.8 0 1 1 1043.07 612.71Z" fill="#22a585"/><path d="M1063.69 595.49A126.5 126.5 0 1 0 890.67 773.13L905.14 750.69A99.8 99.8 0 1 1 1041.63 610.54Z" fill="#22a485"/><path d="M1061.79 592.8A126.5 126.5 0 1 0 890.67 773.13L905.14 750.69A99.8 99.8 0 1 1 1040.14 608.42Z" fill="#22a485"/><path d="M1059.83 590.15A126.5 126.5 0 1 0 890.67 773.13L905.14 750.69A99.8 99.8 0 1 1 1038.59 606.33Z" fill="#22a485"/><path d="M1057.8 587.56A126.5 126.5 0 1 0 890.67 773.13L905.14 750.69A99.8 99.8 0 1 1 1036.99 604.28Z" fill="#22a485"/><path d="M1055.71 585.02A126.5 126.5 0 1 0 890.67 773.13L905.14 750.69A99.8 99.8 0 1 1 1035.34 602.28Z" fill="#22a485"/><path d="M1053.55 582.53A126.5 126.5 0 1 0 890.67 773.13L905.14 750.69A99.8 99.8 0 1 1 1033.63 600.32Z" fill="#22a485"/><path d="M1051.32 580.1A126.5 126.5 0 1 0 890.67 773.13L905.14 750.69A99.8 99.8 0 1 1 1031.88 598.4Z" fill="#22a485"/><path d="M1049.03 577.73A126.5 126.5 0 1 0 890.67 773.13L905.14 750.69A99.8 99.8 0 1 1 1030.07 596.53Z" fill="#22a485"/><path d="M1046.68 575.43A126.5 126.5 0 1 0 890.67 773.13L905.14 750.69A99.8 99.8 0 1 1 1028.22 594.71Z" fill="#22a485"/><path d="M1044.27 573.18A126.5 126.5 0 1 0 890.67 773.13L905.14 750.69A99.8 99.8 0 1 1 1026.32 592.94Z" fill="#22a485"/><path d="M1041.81 571A126.5 126.5 0 1 0 890.67 773.13L905.14 750.69A99.8 99.8 0 1 1 1024.37 591.22Z" fill="#22a386"/><path d="M1039.29 568.88A126.5 126.5 0 1 0 890.67 773.13L905.14 750.69A99.8 99.8 0 1 1 1022.38 589.55Z" fill="#22a386"/><path d="M1036.71 566.83A126.5 126.5 0 1 0 890.67 773.13L905.14 750.69A99.8 99.8 0 1 1 1020.35 587.93Z" fill="#22a386"/><path d="M1034.08 564.84A126.5 126.5 0 1 0 890.67 773.13L905.14 750.69A99.8 99.8 0 1 1 1018.27 586.36Z" fill="#22a286"/><path d="M1031.4 562.93A126.5 126.5 0 1 0 890.67 773.13L905.14 750.69A99.8 99.8 0 1 1 1016.16 584.85Z" fill="#22a186"/><path d="M1028.67 561.08A126.5 126.5 0 1 0 890.67 773.13L905.14 750.69A99.8 99.8 0 1 1 1014.01 583.4Z" fill="#22a187"/><path d="M1025.9 559.31A126.5 126.5 0 0 0 890.67 773.13L905.14 750.69A99.8 99.8 0 0 1 1011.82 582Z" fill="#22a087"/><path d="M1023.07 557.61A126.5 126.5 0 0 0 890.67 773.13L905.14 750.69A99.8 99.8 0 0 1 1009.59 580.66Z" fill="#229f87"/><path d="M1020.21 555.98A126.5 126.5 0 0 0 890.67 773.13L905.14 750.69A99.8 99.8 0 0 1 1007.33 579.37Z" fill="#229d88"/><path d="M1017.3 554.43A126.5 126.5 0 0 0 890.67 773.13L905.14 750.69A99.8 99.8 0 0 1 1005.04 578.15Z" fill="#219c88"/><path d="M1014.36 552.96A126.5 126.5 0 0 0 890.67 773.13L905.14 750.69A99.8 99.8 0 0 1 1002.72 576.99Z" fill="#219b88"/><path d="M1011.38 551.56A126.5 126.5 0 0 0 890.67 773.13L905.14 750.69A99.8 99.8 0 0 1 1000.36 575.88Z" fill="#219b89"/><path d="M1008.36 550.24A126.5 126.5 0 0 0 890.67 773.13L905.14 750.69A99.8 99.8 0 0 1 997.98 574.84Z" fill="#219a89"/><path d="M1005.31 549A126.5 126.5 0 0 0 890.67 773.13L905.14 750.69A99.8 99.8 0 0 1 995.58 573.87Z" fill="#219989"/><path d="M1002.23 547.84A126.5 126.5 0 0 0 890.67 773.13L905.14 750.69A99.8 99.8 0 0 1 993.14 572.95Z" fill="#219889"/><path d="M999.11 546.76A126.5 126.5 0 0 0 890.67 773.13L905.14 750.69A99.8 99.8 0 0 1 990.69 572.1Z" fill="#21988a"/><path d="M995.98 545.76A126.5 126.5 0 0 0 890.67 773.13L905.14 750.69A99.8 99.8 0 0 1 988.21 571.31Z" fill="#21978a"/><path d="M992.81 544.85A126.5 126.5 0 0 0 890.67 773.13L905.14 750.69A99.8 99.8 0 0 1 985.72 570.59Z" fill="#21968a"/><path d="M989.63 544.01A126.5 126.5 0 0 0 890.67 773.13L905.14 750.69A99.8 99.8 0 0 1 983.2 569.93Z" fill="#21968a"/><path d="M986.42 543.26A126.5 126.5 0 0 0 890.67 773.13L905.14 750.69A99.8 99.8 0 0 1 980.67 569.34Z" fill="#21958b"/><path d="M983.19 542.6A126.5 126.5 0 0 0 890.67 773.13L905.14 750.69A99.8 99.8 0 0 1 978.13 568.81Z" fill="#21948b"/><path d="M979.95 542.01A126.5 126.5 0 0 0 890.67 773.13L905.14 750.69A99.8 99.8 0 0 1 975.57 568.35Z" fill="#21948b"/><path d="M976.7 541.52A126.5 126.5 0 0 0 890.67 773.13L905.14 750.69A99.8 99.8 0 0 1 973 567.96Z" fill="#21938b"/><path d="M973.43 541.1A126.5 126.5 0 0 0 890.67 773.13L905.14 750.69A99.8 99.8 0 0 1 970.42 567.63Z" fill="#21938b"/><path d="M970.15 540.77A126.5 126.5 0 0 0 890.67 773.13L905.14 750.69A99.8 99.8 0 0 1 967.84 567.37Z" fill="#21928b"/><path d="M966.87 540.53A126.5 126.5 0 0 0 890.67 773.13L905.14 750.69A99.8 99.8 0 0 1 965.25 567.18Z" fill="#21928c"/><path d="M963.58 540.38A126.5 126.5 0 0 0 890.67 773.13L905.14 750.69A99.8 99.8 0 0 1 962.65 567.06Z" fill="#21928c"/><path d="M960.28 540.3A126.5 126.5 0 0 0 890.67 773.13L905.14 750.69A99.8 99.8 0 0 1 960.05 567Z" fill="#21918c"/><path d="M956.99 540.32A126.5 126.5 0 0 0 890.67 773.13L905.14 750.69A99.8 99.8 0 0 1 957.46 567.02Z" fill="#21918c"/><path d="M953.7 540.42A126.5 126.5 0 0 0 890.67 773.13L905.14 750.69A99.8 99.8 0 0 1 954.86 567.09Z" fill="#21908c"/><path d="M950.41 540.61A126.5 126.5 0 0 0 890.67 773.13L905.14 750.69A99.8 99.8 0 0 1 952.26 567.24Z" fill="#21908c"/><path d="M947.13 540.88A126.5 126.5 0 0 0 890.67 773.13L905.14 750.69A99.8 99.8 0 0 1 949.67 567.46Z" fill="#228f8c"/><path d="M943.85 541.23A126.5 126.5 0 0 0 890.67 773.13L905.14 750.69A99.8 99.8 0 0 1 947.09 567.74Z" fill="#228f8c"/><path d="M940.59 541.68A126.5 126.5 0 0 0 890.67 773.13L905.14 750.69A99.8 99.8 0 0 1 944.52 568.09Z" fill="#228f8c"/><path d="M937.34 542.2A126.5 126.5 0 0 0 890.67 773.13L905.14 750.69A99.8 99.8 0 0 1 941.95 568.5Z" fill="#228e8c"/><path d="M934.1 542.81A126.5 126.5 0 0 0 890.67 773.13L905.14 750.69A99.8 99.8 0 0 1 939.4 568.98Z" fill="#228e8c"/><path d="M930.88 543.51A126.5 126.5 0 0 0 890.67 773.13L905.14 750.69A99.8 99.8 0 0 1 936.86 569.53Z" fill="#228d8c"/><path d="M927.68 544.29A126.5 126.5 0 0 0 890.67 773.13L905.14 750.69A99.8 99.8 0 0 1 934.33 570.15Z" fill="#228d8c"/><path d="M924.5 545.15A126.5 126.5 0 0 0 890.67 773.13L905.14 750.69A99.8 99.8 0 0 1 931.83 570.83Z" fill="#238d8c"/><path d="M921.35 546.1A126.5 126.5 0 0 0 890.67 773.13L905.14 750.69A99.8 99.8 0 0 1 929.34 571.57Z" fill="#238c8c"/><path d="M918.22 547.12A126.5 126.5 0 0 0 890.67 773.13L905.14 750.69A99.8 99.8 0 0 1 926.87 572.38Z" fill="#238b8c"/><path d="M915.12 548.23A126.5 126.5 0 0 0 890.67 773.13L905.14 750.69A99.8 99.8 0 0 1 924.42 573.26Z" fill="#238b8d"/><path d="M912.04 549.42A126.5 126.5 0 0 0 890.67 773.13L905.14 750.69A99.8 99.8 0 0 1 922 574.19Z" fill="#248a8d"/><path d="M909 550.69A126.5 126.5 0 0 0 890.67 773.13L905.14 750.69A99.8 99.8 0 0 1 919.6 575.19Z" fill="#24898d"/><path d="M906 552.03A126.5 126.5 0 0 0 890.67 773.13L905.14 750.69A99.8 99.8 0 0 1 917.23 576.26Z" fill="#24888d"/><path d="M903.03 553.46A126.5 126.5 0 0 0 890.67 773.13L905.14 750.69A99.8 99.8 0 0 1 914.88 577.38Z" fill="#24888d"/><path d="M900.1 554.96A126.5 126.5 0 0 0 890.67 773.13L905.14 750.69A99.8 99.8 0 0 1 912.57 578.56Z" fill="#25878d"/><path d="M897.2 556.53A126.5 126.5 0 0 0 890.67 773.13L905.14 750.69A99.8 99.8 0 0 1 910.29 579.81Z" fill="#25878d"/><path d="M894.36 558.18A126.5 126.5 0 0 0 890.67 773.13L905.14 750.69A99.8 99.8 0 0 1 908.04 581.11Z" fill="#25868d"/><path d="M891.55 559.91A126.5 126.5 0 0 0 890.67 773.13L905.14 750.69A99.8 99.8 0 0 1 905.83 582.47Z" fill="#25868d"/><path d="M888.79 561.71A126.5 126.5 0 0 0 890.67 773.13L905.14 750.69A99.8 99.8 0 0 1 903.65 583.89Z" fill="#25868d"/><path d="M886.08 563.58A126.5 126.5 0 0 0 890.67 773.13L905.14 750.69A99.8 99.8 0 0 1 901.51 585.36Z" fill="#25868d"/><path d="M883.41 565.51A126.5 126.5 0 0 0 890.67 773.13L905.14 750.69A99.8 99.8 0 0 1 899.41 586.89Z" fill="#25858d"/><path d="M880.8 567.52A126.5 126.5 0 0 0 890.67 773.13L905.14 750.69A99.8 99.8 0 0 1 897.35 588.48Z" fill="#25858d"/><path d="M878.25 569.6A126.5 126.5 0 0 0 890.67 773.13L905.14 750.69A99.8 99.8 0 0 1 895.33 590.11Z" fill="#25858d"/><path d="M875.74 571.74A126.5 126.5 0 0 0 890.67 773.13L905.14 750.69A99.8 99.8 0 0 1 893.36 591.8Z" fill="#26848d"/><path d="M873.3 573.94A126.5 126.5 0 0 0 890.67 773.13L905.14 750.69A99.8 99.8 0 0 1 891.43 593.54Z" fill="#26848d"/><path d="M870.91 576.21A126.5 126.5 0 0 0 890.67 773.13L905.14 750.69A99.8 99.8 0 0 1 889.54 595.33Z" fill="#26848d"/><path d="M868.58 578.54A126.5 126.5 0 0 0 890.67 773.13L905.14 750.69A99.8 99.8 0 0 1 887.71 597.17Z" fill="#26838d"/><path d="M866.31 580.93A126.5 126.5 0 0 0 890.67 773.13L905.14 750.69A99.8 99.8 0 0 1 885.92 599.05Z" fill="#26828d"/><path d="M864.11 583.38A126.5 126.5 0 0 0 890.67 773.13L905.14 750.69A99.8 99.8 0 0 1 884.18 600.98Z" fill="#26828d"/><path d="M861.97 585.88A126.5 126.5 0 0 0 890.67 773.13L905.14 750.69A99.8 99.8 0 0 1 882.49 602.96Z" fill="#27818d"/><path d="M859.89 588.44A126.5 126.5 0 0 0 890.67 773.13L905.14 750.69A99.8 99.8 0 0 1 880.85 604.98Z" fill="#27818d"/><path d="M857.89 591.05A126.5 126.5 0 0 0 890.67 773.13L905.14 750.69A99.8 99.8 0 0 1 879.27 607.04Z" fill="#27808d"/><path d="M855.95 593.71A126.5 126.5 0 0 0 890.67 773.13L905.14 750.69A99.8 99.8 0 0 1 877.74 609.14Z" fill="#27808d"/><path d="M854.08 596.43A126.5 126.5 0 0 0 890.67 773.13L905.14 750.69A99.8 99.8 0 0 1 876.27 611.28Z" fill="#287f8d"/><path d="M852.29 599.19A126.5 126.5 0 0 0 890.67 773.13L905.14 750.69A99.8 99.8 0 0 1 874.85 613.46Z" fill="#287e8e"/><path d="M850.56 601.99A126.5 126.5 0 0 0 890.67 773.13L905.14 750.69A99.8 99.8 0 0 1 873.49 615.67Z" fill="#287d8e"/><path d="M848.91 604.84A126.5 126.5 0 0 0 890.67 773.13L905.14 750.69A99.8 99.8 0 0 1 872.19 617.92Z" fill="#287c8e"/><path d="M847.34 607.74A126.5 126.5 0 0 0 890.67 773.13L905.14 750.69A99.8 99.8 0 0 1 870.95 620.2Z" fill="#297c8e"/><path d="M845.84 610.67A126.5 126.5 0 0 0 890.67 773.13L905.14 750.69A99.8 99.8 0 0 1 869.76 622.52Z" fill="#297b8e"/><path d="M844.41 613.64A126.5 126.5 0 0 0 890.67 773.13L905.14 750.69A99.8 99.8 0 0 1 868.64 624.86Z" fill="#297b8e"/><path d="M843.07 616.64A126.5 126.5 0 0 0 890.67 773.13L905.14 750.69A99.8 99.8 0 0 1 867.58 627.23Z" fill="#297b8e"/><path d="M841.8 619.69A126.5 126.5 0 0 0 890.67 773.13L905.14 750.69A99.8 99.8 0 0 1 866.58 629.63Z" fill="#297b8e"/><path d="M840.61 622.76A126.5 126.5 0 0 0 890.67 773.13L905.14 750.69A99.8 99.8 0 0 1 865.64 632.05Z" fill="#297b8e"/><path d="M839.51 625.86A126.5 126.5 0 0 0 890.67 773.13L905.14 750.69A99.8 99.8 0 0 1 864.77 634.5Z" fill="#297b8e"/><path d="M838.48 628.99A126.5 126.5 0 0 0 890.67 773.13L905.14 750.69A99.8 99.8 0 0 1 863.96 636.97Z" fill="#297a8e"/><path d="M837.54 632.15A126.5 126.5 0 0 0 890.67 773.13L905.14 750.69A99.8 99.8 0 0 1 863.22 639.46Z" fill="#297a8e"/><path d="M836.68 635.32A126.5 126.5 0 0 0 890.67 773.13L905.14 750.69A99.8 99.8 0 0 1 862.54 641.97Z" fill="#2a798e"/><path d="M835.9 638.53A126.5 126.5 0 0 0 890.67 773.13L905.14 750.69A99.8 99.8 0 0 1 861.92 644.49Z" fill="#2a798e"/><path d="M835.21 641.74A126.5 126.5 0 0 0 890.67 773.13L905.14 750.69A99.8 99.8 0 0 1 861.38 647.03Z" fill="#2a788e"/><path d="M834.6 644.98A126.5 126.5 0 0 0 890.67 773.13L905.14 750.69A99.8 99.8 0 0 1 860.9 649.59Z" fill="#2a778e"/><path d="M834.07 648.23A126.5 126.5 0 0 0 890.67 773.13L905.14 750.69A99.8 99.8 0 0 1 860.48 652.15Z" fill="#2b778e"/><path d="M833.63 651.5A126.5 126.5 0 0 0 890.67 773.13L905.14 750.69A99.8 99.8 0 0 1 860.13 654.73Z" fill="#2b758e"/><path d="M833.27 654.77A126.5 126.5 0 0 0 890.67 773.13L905.14 750.69A99.8 99.8 0 0 1 859.85 657.31Z" fill="#2c748e"/><path d="M833 658.05A126.5 126.5 0 0 0 890.67 773.13L905.14 750.69A99.8 99.8 0 0 1 859.64 659.9Z" fill="#2d728e"/><path d="M832.82 661.34A126.5 126.5 0 0 0 890.67 773.13L905.14 750.69A99.8 99.8 0 0 1 859.49 662.49Z" fill="#2d708e"/><path d="M832.72 664.63A126.5 126.5 0 0 0 890.67 773.13L905.14 750.69A99.8 99.8 0 0 1 859.41 665.09Z" fill="#2e6e8e"/><path d="M832.71 667.93A126.5 126.5 0 0 0 890.67 773.13L905.14 750.69A99.8 99.8 0 0 1 859.4 667.69Z" fill="#2f6d8e"/><path d="M832.78 671.22A126.5 126.5 0 0 0 890.67 773.13L905.14 750.69A99.8 99.8 0 0 1 859.46 670.29Z" fill="#306b8d"/><path d="M832.94 674.51A126.5 126.5 0 0 0 890.67 773.13L905.14 750.69A99.8 99.8 0 0 1 859.59 672.88Z" fill="#306a8d"/><path d="M833.18 677.79A126.5 126.5 0 0 0 890.67 773.13L905.14 750.69A99.8 99.8 0 0 1 859.78 675.47Z" fill="#31698d"/><path d="M833.51 681.07A126.5 126.5 0 0 0 890.67 773.13L905.14 750.69A99.8 99.8 0 0 1 860.04 678.06Z" fill="#31698d"/><path d="M833.92 684.34A126.5 126.5 0 0 0 890.67 773.13L905.14 750.69A99.8 99.8 0 0 1 860.36 680.64Z" fill="#31688d"/><path d="M834.42 687.59A126.5 126.5 0 0 0 890.67 773.13L905.14 750.69A99.8 99.8 0 0 1 860.76 683.21Z" fill="#31688d"/><path d="M835 690.84A126.5 126.5 0 0 0 890.67 773.13L905.14 750.69A99.8 99.8 0 0 1 861.22 685.76Z" fill="#31688d"/><path d="M835.67 694.06A126.5 126.5 0 0 0 890.67 773.13L905.14 750.69A99.8 99.8 0 0 1 861.75 688.31Z" fill="#31678d"/><path d="M836.42 697.27A126.5 126.5 0 0 0 890.67 773.13L905.14 750.69A99.8 99.8 0 0 1 862.34 690.84Z" fill="#32678d"/><path d="M837.26 700.45A126.5 126.5 0 0 0 890.67 773.13L905.14 750.69A99.8 99.8 0 0 1 863 693.35Z" fill="#32668d"/><path d="M838.18 703.62A126.5 126.5 0 0 0 890.67 773.13L905.14 750.69A99.8 99.8 0 0 1 863.72 695.85Z" fill="#33658d"/><path d="M839.18 706.76A126.5 126.5 0 0 0 890.67 773.13L905.14 750.69A99.8 99.8 0 0 1 864.51 698.32Z" fill="#33638d"/><path d="M840.26 709.87A126.5 126.5 0 0 0 890.67 773.13L905.14 750.69A99.8 99.8 0 0 1 865.36 700.78Z" fill="#34628d"/><path d="M841.42 712.95A126.5 126.5 0 0 0 890.67 773.13L905.14 750.69A99.8 99.8 0 0 1 866.28 703.21Z" fill="#34618d"/><path d="M842.66 716A126.5 126.5 0 0 0 890.67 773.13L905.14 750.69A99.8 99.8 0 0 1 867.26 705.62Z" fill="#35608d"/><path d="M843.98 719.02A126.5 126.5 0 0 0 890.67 773.13L905.14 750.69A99.8 99.8 0 0 1 868.3 708Z" fill="#355f8d"/><path d="M845.38 722A126.5 126.5 0 0 0 890.67 773.13L905.14 750.69A99.8 99.8 0 0 1 869.4 710.35Z" fill="#355f8d"/><path d="M846.85 724.94A126.5 126.5 0 0 0 890.67 773.13L905.14 750.69A99.8 99.8 0 0 1 870.57 712.67Z" fill="#355e8d"/><path d="M848.41 727.85A126.5 126.5 0 0 0 890.67 773.13L905.14 750.69A99.8 99.8 0 0 1 871.79 714.96Z" fill="#355e8d"/><path d="M850.03 730.71A126.5 126.5 0 0 0 890.67 773.13L905.14 750.69A99.8 99.8 0 0 1 873.07 717.22Z" fill="#355e8d"/><path d="M851.73 733.53A126.5 126.5 0 0 0 890.67 773.13L905.14 750.69A99.8 99.8 0 0 1 874.42 719.45Z" fill="#365e8d"/><path d="M853.51 736.31A126.5 126.5 0 0 0 890.67 773.13L905.14 750.69A99.8 99.8 0 0 1 875.82 721.64Z" fill="#365d8d"/><path d="M855.35 739.04A126.5 126.5 0 0 0 890.67 773.13L905.14 750.69A99.8 99.8 0 0 1 877.27 723.79Z" fill="#365c8c"/><path d="M857.27 741.72A126.5 126.5 0 0 0 890.67 773.13L905.14 750.69A99.8 99.8 0 0 1 878.78 725.9Z" fill="#375b8c"/><path d="M859.25 744.34A126.5 126.5 0 0 0 890.67 773.13L905.14 750.69A99.8 99.8 0 0 1 880.35 727.98Z" fill="#375a8c"/><path d="M861.31 746.92A126.5 126.5 0 0 0 890.67 773.13L905.14 750.69A99.8 99.8 0 0 1 881.97 730.01Z" fill="#38598c"/><path d="M863.43 749.44A126.5 126.5 0 0 0 890.67 773.13L905.14 750.69A99.8 99.8 0 0 1 883.64 732Z" fill="#39578b"/><path d="M865.61 751.91A126.5 126.5 0 0 0 890.67 773.13L905.14 750.69A99.8 99.8 0 0 1 885.36 733.94Z" fill="#3a548b"/><path d="M867.86 754.31A126.5 126.5 0 0 0 890.67 773.13L905.14 750.69A99.8 99.8 0 0 1 887.14 735.84Z" fill="#3b528a"/><path d="M870.17 756.66A126.5 126.5 0 0 0 890.67 773.13L905.14 750.69A99.8 99.8 0 0 1 888.96 737.7Z" fill="#3c4f89"/><path d="M872.54 758.95A126.5 126.5 0 0 0 890.67 773.13L905.14 750.69A99.8 99.8 0 0 1 890.83 739.5Z" fill="#3d4c89"/><path d="M874.96 761.17A126.5 126.5 0 0 0 890.67 773.13L905.14 750.69A99.8 99.8 0 0 1 892.74 741.26Z" fill="#3e4988"/><path d="M877.45 763.34A126.5 126.5 0 0 0 890.67 773.13L905.14 750.69A99.8 99.8 0 0 1 894.7 742.96Z" fill="#3f4787"/><path d="M879.99 765.43A126.5 126.5 0 0 0 890.67 773.13L905.14 750.69A99.8 99.8 0 0 1 896.71 744.61Z" fill="#404587"/><path d="M882.59 767.46A126.5 126.5 0 0 0 890.67 773.13L905.14 750.69A99.8 99.8 0 0 1 898.76 746.21Z" fill="#414386"/><path d="M885.23 769.42A126.5 126.5 0 0 0 890.67 773.13L905.14 750.69A99.8 99.8 0 0 1 900.84 747.76Z" fill="#414286"/><path d="M887.93 771.31A126.5 126.5 0 0 0 890.67 773.13L905.14 750.69A99.8 99.8 0 0 1 902.97 749.25Z" fill="#414286"/><path d="M890.67 773.13A126.5 126.5 0 0 0 1085.7 666.8L1059 666.8A99.8 99.8 0 0 1 905.14 750.69Z" fill="#e9e19c"/><path d="M893.48 774.89A126.5 126.5 0 0 0 1085.7 666.8L1059 666.8A99.8 99.8 0 0 1 907.35 752.07Z" fill="#e9e19b"/><path d="M896.32 776.57A126.5 126.5 0 0 0 1085.7 666.8L1059 666.8A99.8 99.8 0 0 1 909.59 753.4Z" fill="#e9e09b"/><path d="M899.21 778.17A126.5 126.5 0 0 0 1085.7 666.8L1059 666.8A99.8 99.8 0 0 1 911.87 754.67Z" fill="#e9df9a"/><path d="M902.14 779.7A126.5 126.5 0 0 0 1085.7 666.8L1059 666.8A99.8 99.8 0 0 1 914.19 755.87Z" fill="#e9de99"/><path d="M905.11 781.15A126.5 126.5 0 0 0 1085.7 666.8L1059 666.8A99.8 99.8 0 0 1 916.53 757.02Z" fill="#eadd98"/><path d="M908.12 782.53A126.5 126.5 0 0 0 1085.7 666.8L1059 666.8A99.8 99.8 0 0 1 918.9 758.1Z" fill="#eadb97"/><path d="M911.16 783.82A126.5 126.5 0 0 0 1085.7 666.8L1059 666.8A99.8 99.8 0 0 1 921.3 759.12Z" fill="#eada96"/><path d="M914.24 785.04A126.5 126.5 0 0 0 1085.7 666.8L1059 666.8A99.8 99.8 0 0 1 923.73 760.08Z" fill="#ead895"/><path d="M917.34 786.17A126.5 126.5 0 0 0 1085.7 666.8L1059 666.8A99.8 99.8 0 0 1 926.18 760.98Z" fill="#ead794"/><path d="M920.48 787.23A126.5 126.5 0 0 0 1085.7 666.8L1059 666.8A99.8 99.8 0 0 1 928.65 761.81Z" fill="#ead693"/><path d="M923.64 788.2A126.5 126.5 0 0 0 1085.7 666.8L1059 666.8A99.8 99.8 0 0 1 931.14 762.58Z" fill="#ead592"/><path d="M926.82 789.09A126.5 126.5 0 0 0 1085.7 666.8L1059 666.8A99.8 99.8 0 0 1 933.66 763.28Z" fill="#ebd491"/><path d="M930.03 789.89A126.5 126.5 0 0 0 1085.7 666.8L1059 666.8A99.8 99.8 0 0 1 936.19 763.91Z" fill="#ebd390"/><path d="M933.26 790.61A126.5 126.5 0 0 0 1085.7 666.8L1059 666.8A99.8 99.8 0 0 1 938.73 764.48Z" fill="#ebd290"/><path d="M936.5 791.25A126.5 126.5 0 0 0 1085.7 666.8L1059 666.8A99.8 99.8 0 0 1 941.29 764.98Z" fill="#ebd18f"/><path d="M939.76 791.8A126.5 126.5 0 0 0 1085.7 666.8L1059 666.8A99.8 99.8 0 0 1 943.86 765.41Z" fill="#ebd08e"/><path d="M943.04 792.26A126.5 126.5 0 0 0 1085.7 666.8L1059 666.8A99.8 99.8 0 0 1 946.45 765.78Z" fill="#ebce8d"/><path d="M946.32 792.64A126.5 126.5 0 0 0 1085.7 666.8L1059 666.8A99.8 99.8 0 0 1 949.04 766.08Z" fill="#ebcc8c"/><path d="M949.61 792.94A126.5 126.5 0 0 0 1085.7 666.8L1059 666.8A99.8 99.8 0 0 1 951.64 766.31Z" fill="#eccb8a"/><path d="M952.91 793.14A126.5 126.5 0 0 0 1085.7 666.8L1059 666.8A99.8 99.8 0 0 1 954.24 766.48Z" fill="#ecc989"/><path d="M956.22 793.26A126.5 126.5 0 0 0 1085.7 666.8L1059 666.8A99.8 99.8 0 0 1 956.85 766.57Z" fill="#ecc788"/><path d="M959.52 793.3A126.5 126.5 0 0 0 1085.7 666.8L1059 666.8A99.8 99.8 0 0 1 959.45 766.6Z" fill="#ecc686"/><path d="M962.83 793.25A126.5 126.5 0 0 0 1085.7 666.8L1059 666.8A99.8 99.8 0 0 1 962.06 766.56Z" fill="#ecc485"/><path d="M966.13 793.11A126.5 126.5 0 0 0 1085.7 666.8L1059 666.8A99.8 99.8 0 0 1 964.67 766.45Z" fill="#ecc385"/><path d="M969.43 792.89A126.5 126.5 0 0 0 1085.7 666.8L1059 666.8A99.8 99.8 0 0 1 967.27 766.27Z" fill="#ecc284"/><path d="M972.72 792.58A126.5 126.5 0 0 0 1085.7 666.8L1059 666.8A99.8 99.8 0 0 1 969.87 766.03Z" fill="#edc183"/><path d="M976.01 792.18A126.5 126.5 0 0 0 1085.7 666.8L1059 666.8A99.8 99.8 0 0 1 972.46 765.72Z" fill="#edc082"/><path d="M979.28 791.7A126.5 126.5 0 0 0 1085.7 666.8L1059 666.8A99.8 99.8 0 0 1 975.04 765.34Z" fill="#edbf81"/><path d="M982.53 791.13A126.5 126.5 0 0 0 1085.7 666.8L1059 666.8A99.8 99.8 0 0 1 977.61 764.89Z" fill="#edbe80"/><path d="M985.77 790.48A126.5 126.5 0 0 0 1085.7 666.8L1059 666.8A99.8 99.8 0 0 1 980.17 764.37Z" fill="#edbc7f"/><path d="M989 789.74A126.5 126.5 0 0 0 1085.7 666.8L1059 666.8A99.8 99.8 0 0 1 982.71 763.79Z" fill="#edba7f"/><path d="M992.2 788.92A126.5 126.5 0 0 0 1085.7 666.8L1059 666.8A99.8 99.8 0 0 1 985.24 763.14Z" fill="#edb87d"/><path d="M995.38 788.02A126.5 126.5 0 0 0 1085.7 666.8L1059 666.8A99.8 99.8 0 0 1 987.74 762.43Z" fill="#edb57c"/><path d="M998.54 787.03A126.5 126.5 0 0 0 1085.7 666.8L1059 666.8A99.8 99.8 0 0 1 990.23 761.65Z" fill="#edb17b"/><path d="M1001.67 785.96A126.5 126.5 0 0 0 1085.7 666.8L1059 666.8A99.8 99.8 0 0 1 992.7 760.81Z" fill="#ecad7a"/><path d="M1004.76 784.81A126.5 126.5 0 0 0 1085.7 666.8L1059 666.8A99.8 99.8 0 0 1 995.15 759.9Z" fill="#eca979"/><path d="M1007.83 783.58A126.5 126.5 0 0 0 1085.7 666.8L1059 666.8A99.8 99.8 0 0 1 997.57 758.93Z" fill="#eca477"/><path d="M1010.87 782.27A126.5 126.5 0 0 0 1085.7 666.8L1059 666.8A99.8 99.8 0 0 1 999.96 757.9Z" fill="#eba176"/><path d="M1013.87 780.88A126.5 126.5 0 0 0 1085.7 666.8L1059 666.8A99.8 99.8 0 0 1 1002.33 756.8Z" fill="#eb9e76"/><path d="M1016.83 779.41A126.5 126.5 0 0 0 1085.7 666.8L1059 666.8A99.8 99.8 0 0 1 1004.67 755.64Z" fill="#eb9c75"/><path d="M1019.75 777.86A126.5 126.5 0 0 0 1085.7 666.8L1059 666.8A99.8 99.8 0 0 1 1006.97 754.42Z" fill="#eb9b75"/><path d="M1022.64 776.24A126.5 126.5 0 0 0 1085.7 666.8L1059 666.8A99.8 99.8 0 0 1 1009.25 753.14Z" fill="#eb9a75"/><path d="M1025.48 774.55A126.5 126.5 0 0 0 1085.7 666.8L1059 666.8A99.8 99.8 0 0 1 1011.49 751.81Z" fill="#eb9a75"/><path d="M1028.27 772.78A126.5 126.5 0 0 0 1085.7 666.8L1059 666.8A99.8 99.8 0 0 1 1013.69 750.41Z" fill="#eb9a75"/><path d="M1031.01 770.94A126.5 126.5 0 0 0 1085.7 666.8L1059 666.8A99.8 99.8 0 0 1 1015.86 748.96Z" fill="#eb9975"/><path d="M1033.71 769.03A126.5 126.5 0 0 0 1085.7 666.8L1059 666.8A99.8 99.8 0 0 1 1017.98 747.45Z" fill="#eb9975"/><path d="M1036.36 767.04A126.5 126.5 0 0 0 1085.7 666.8L1059 666.8A99.8 99.8 0 0 1 1020.07 745.89Z" fill="#eb9974"/><path d="M1038.95 764.99A126.5 126.5 0 0 0 1085.7 666.8L1059 666.8A99.8 99.8 0 0 1 1022.12 744.27Z" fill="#eb9874"/><path d="M1041.49 762.88A126.5 126.5 0 0 0 1085.7 666.8L1059 666.8A99.8 99.8 0 0 1 1024.12 742.6Z" fill="#ea9874"/><path d="M1043.97 760.69A126.5 126.5 0 0 0 1085.7 666.8L1059 666.8A99.8 99.8 0 0 1 1026.08 740.87Z" fill="#ea9774"/><path d="M1046.4 758.44A126.5 126.5 0 0 0 1085.7 666.8L1059 666.8A99.8 99.8 0 0 1 1027.99 739.1Z" fill="#ea9774"/><path d="M1048.76 756.13A126.5 126.5 0 0 0 1085.7 666.8L1059 666.8A99.8 99.8 0 0 1 1029.86 737.28Z" fill="#ea9674"/><path d="M1051.07 753.76A126.5 126.5 0 0 0 1085.7 666.8L1059 666.8A99.8 99.8 0 0 1 1031.68 735.41Z" fill="#ea9674"/><path d="M1053.31 751.33A126.5 126.5 0 0 0 1085.7 666.8L1059 666.8A99.8 99.8 0 0 1 1033.45 733.49Z" fill="#ea9574"/><path d="M1055.49 748.84A126.5 126.5 0 0 0 1085.7 666.8L1059 666.8A99.8 99.8 0 0 1 1035.16 731.53Z" fill="#ea9574"/><path d="M1057.6 746.3A126.5 126.5 0 0 0 1085.7 666.8L1059 666.8A99.8 99.8 0 0 1 1036.83 729.52Z" fill="#ea9474"/><path d="M1059.64 743.7A126.5 126.5 0 0 0 1085.7 666.8L1059 666.8A99.8 99.8 0 0 1 1038.44 727.47Z" fill="#ea9374"/><path d="M1061.62 741.05A126.5 126.5 0 0 0 1085.7 666.8L1059 666.8A99.8 99.8 0 0 1 1040 725.38Z" fill="#ea9273"/><path d="M1063.52 738.35A126.5 126.5 0 0 0 1085.7 666.8L1059 666.8A99.8 99.8 0 0 1 1041.5 723.25Z" fill="#ea9273"/><path d="M1065.36 735.6A126.5 126.5 0 0 0 1085.7 666.8L1059 666.8A99.8 99.8 0 0 1 1042.95 721.08Z" fill="#ea9173"/><path d="M1067.12 732.8A126.5 126.5 0 0 0 1085.7 666.8L1059 666.8A99.8 99.8 0 0 1 1044.34 718.87Z" fill="#ea9073"/><path d="M1068.81 729.96A126.5 126.5 0 0 0 1085.7 666.8L1059 666.8A99.8 99.8 0 0 1 1045.67 716.63Z" fill="#e99073"/><path d="M1070.42 727.07A126.5 126.5 0 0 0 1085.7 666.8L1059 666.8A99.8 99.8 0 0 1 1046.94 714.35Z" fill="#e98f73"/><path d="M1071.96 724.14A126.5 126.5 0 0 0 1085.7 666.8L1059 666.8A99.8 99.8 0 0 1 1048.16 712.04Z" fill="#e98e73"/><path d="M1073.42 721.18A126.5 126.5 0 0 0 1085.7 666.8L1059 666.8A99.8 99.8 0 0 1 1049.31 709.7Z" fill="#e98e73"/><path d="M1074.8 718.17A126.5 126.5 0 0 0 1085.7 666.8L1059 666.8A99.8 99.8 0 0 1 1050.4 707.33Z" fill="#e98d72"/><path d="M1076.1 715.13A126.5 126.5 0 0 0 1085.7 666.8L1059 666.8A99.8 99.8 0 0 1 1051.43 704.93Z" fill="#e98c72"/><path d="M1077.32 712.06A126.5 126.5 0 0 0 1085.7 666.8L1059 666.8A99.8 99.8 0 0 1 1052.39 702.51Z" fill="#e88972"/><path d="M1078.47 708.96A126.5 126.5 0 0 0 1085.7 666.8L1059 666.8A99.8 99.8 0 0 1 1053.29 700.06Z" fill="#e78673"/><path d="M1079.53 705.83A126.5 126.5 0 0 0 1085.7 666.8L1059 666.8A99.8 99.8 0 0 1 1054.13 697.59Z" fill="#e58273"/><path d="M1080.51 702.67A126.5 126.5 0 0 0 1085.7 666.8L1059 666.8A99.8 99.8 0 0 1 1054.9 695.1Z" fill="#e37e74"/><path d="M1081.4 699.49A126.5 126.5 0 0 0 1085.7 666.8L1059 666.8A99.8 99.8 0 0 1 1055.61 692.59Z" fill="#e17975"/><path d="M1082.22 696.28A126.5 126.5 0 0 0 1085.7 666.8L1059 666.8A99.8 99.8 0 0 1 1056.25 690.06Z" fill="#de7376"/><path d="M1082.94 693.06A126.5 126.5 0 0 0 1085.7 666.8L1059 666.8A99.8 99.8 0 0 1 1056.83 687.52Z" fill="#db6e78"/><path d="M1083.59 689.82A126.5 126.5 0 0 0 1085.7 666.8L1059 666.8A99.8 99.8 0 0 1 1057.33 684.96Z" fill="#d86979"/><path d="M1084.15 686.56A126.5 126.5 0 0 0 1085.7 666.8L1059 666.8A99.8 99.8 0 0 1 1057.78 682.39Z" fill="#d6667a"/><path d="M1084.62 683.28A126.5 126.5 0 0 0 1085.7 666.8L1059 666.8A99.8 99.8 0 0 1 1058.15 679.81Z" fill="#d5637b"/><path d="M1085.01 680A126.5 126.5 0 0 0 1085.7 666.8L1059 666.8A99.8 99.8 0 0 1 1058.46 677.22Z" fill="#d3607c"/><path d="M1085.31 676.71A126.5 126.5 0 0 0 1085.7 666.8L1059 666.8A99.8 99.8 0 0 1 1058.69 674.62Z" fill="#d25e7c"/><path d="M1085.53 673.41A126.5 126.5 0 0 0 1085.7 666.8L1059 666.8A99.8 99.8 0 0 1 1058.86 672.01Z" fill="#d15d7d"/><path d="M1085.66 670.11A126.5 126.5 0 0 0 1085.7 666.8L1059 666.8A99.8 99.8 0 0 1 1058.97 669.41Z" fill="#d15c7d"/></g>
<circle cx="958.3" cy="666.6" r="101.3" fill="#fff"/>
<path d="M1085.7 666.8L1212.6 666.8M1084.62 650.29L1210.43 633.72M1081.56 634.7L1204.31 602.5M1076.82 620.23L1194.81 573.52M1070.48 606.63L1182.1 546.28M1062.82 594.24L1166.77 521.46M1053.71 582.71L1148.52 498.36M1043.52 572.5L1128.1 477.9M1031.94 563.3L1104.91 459.48M1019.75 555.74L1080.5 444.32M1007.2 549.76L1055.35 432.35M994.28 545.26L1029.47 423.34M981.17 542.22L1003.2 417.25M968.02 540.61L976.88 414.02M954.85 540.37L950.49 413.55M941.9 541.49L924.55 415.78M929.24 543.9L899.19 420.61M916.97 547.56L874.61 427.93M905.34 552.34L851.31 437.52M894.43 558.14L829.45 449.14M884.31 564.85L809.18 462.58M874.72 572.64L789.97 478.19M866.08 581.18L772.67 495.28M858.44 590.32L757.36 513.59M851.69 600.14L743.84 533.27M846.19 609.96L732.82 552.94M841.42 620.64L723.27 574.34M837.72 631.51L715.86 596.1M835.04 642.58L710.49 618.28M833.4 653.51L707.2 640.18M832.72 664.7L705.83 662.6M832.95 674.74L706.3 682.71M833.99 684.84L708.39 702.94M835.84 694.83L712.1 722.94M838.46 704.52L717.33 742.37M841.71 713.7L723.86 760.74M845.37 721.98L731.17 777.33M849.87 730.43L740.19 794.27M854.82 738.27L750.12 809.96M860.48 745.89L761.44 825.24M866.08 752.42L772.67 838.32M872.44 758.86L785.41 851.22M878.74 764.41L798.02 862.33M884.67 769.01L809.9 871.54M890.67 773.13L821.93 879.8M905.14 781.17L850.91 895.89M919.69 786.97L880.05 907.52M934.54 790.87L909.81 915.34M949.65 792.94L940.07 919.48M964.34 793.2L969.5 919.99M978.77 791.78L998.4 917.15M992.69 788.79L1026.28 911.16M1005.97 784.34L1052.89 902.24M1017.32 779.16L1075.62 891.87M1028.1 772.89L1097.21 879.32M1038.36 765.47L1117.77 864.45M1047.55 757.34L1136.18 848.16M1056.06 748.16L1153.23 829.78M1063.45 738.45L1168.03 810.33M1069.81 728.19L1180.76 789.77M1075.12 717.44L1191.41 768.25M1079.37 706.31L1199.92 745.95M1082.46 695.26L1206.11 723.8M1084.28 685.72L1209.75 704.69M1085.37 676L1211.93 685.23" stroke="#fff" stroke-opacity="0.8" stroke-width="0.8" fill="none"/>
<path d="M1060.5 666.8L1212.6 666.8M904.32 751.95L821.93 879.8" stroke="#fff" stroke-opacity="0.55" stroke-width="0.8" fill="none"/>
<circle cx="959.2" cy="666.8" r="126.5" fill="none" stroke="#fff" stroke-opacity="0.75" stroke-width="0.8"/>
<g font-family="'DejaVu Sans', 'Liberation Sans', sans-serif" stroke-width="0.3" paint-order="stroke">
<text transform="translate(959.2,666.8) rotate(-3.75)" x="252.4" y="6.36" font-size="17.68" fill="#fff" stroke="#fff" text-anchor="end">Efficiency</text>
<text transform="translate(959.2,666.8) rotate(-11.1)" x="252.4" y="6.84" font-size="18.99" fill="#fff" stroke="#fff" text-anchor="end">Search</text>
<text transform="translate(959.2,666.8) rotate(-18.15)" x="252.4" y="5.64" font-size="15.67" fill="#fff" stroke="#fff" text-anchor="end">Intelligence</text>
<text transform="translate(959.2,666.8) rotate(-25)" x="252.4" y="5.96" font-size="16.55" fill="#fff" stroke="#fff" text-anchor="end">Judgment</text>
<text transform="translate(959.2,666.8) rotate(-31.7)" x="252.4" y="6.13" font-size="17.03" fill="#fff" stroke="#fff" text-anchor="end">Memory</text>
<text transform="translate(959.2,666.8) rotate(-38.33)" x="252.4" y="5.95" font-size="16.54" fill="#fff" stroke="#fff" text-anchor="end">Encoding</text>
<text transform="translate(959.2,666.8) rotate(-44.93)" x="252.4" y="6.92" font-size="19.22" fill="#fff" stroke="#fff" text-anchor="end">Goal</text>
<text transform="translate(959.2,666.8) rotate(-51.55)" x="252.4" y="6" font-size="16.67" fill="#fff" stroke="#fff" text-anchor="end">Updating</text>
<text transform="translate(959.2,666.8) rotate(-58.15)" x="252.4" y="5.64" font-size="15.67" fill="#fff" stroke="#fff" text-anchor="end">Reasoning</text>
<text transform="translate(959.2,666.8) rotate(-64.55)" x="252.4" y="5.3" font-size="14.71" fill="#fff" stroke="#fff" text-anchor="end">Recognition</text>
<text transform="translate(959.2,666.8) rotate(-70.8)" x="252.4" y="5.7" font-size="15.84" fill="#fff" stroke="#fff" text-anchor="end">Intention</text>
<text transform="translate(959.2,666.8) rotate(-76.95)" x="252.4" y="5.71" font-size="15.85" fill="#fff" stroke="#fff" text-anchor="end">Strategy</text>
<text transform="translate(959.2,666.8) rotate(-83)" x="252.4" y="5.65" font-size="15.69" fill="#fff" stroke="#fff" text-anchor="end">Decision</text>
<text transform="translate(959.2,666.8) rotate(-88.98)" x="252.4" y="5.12" font-size="14.23" fill="#fff" stroke="#fff" text-anchor="end">Uncertainty</text>
<text transform="translate(959.2,666.8) rotate(85.09)" x="-252.4" y="5.51" font-size="15.3" fill="#fff" stroke="#fff" text-anchor="start">Retrieval</text>
<text transform="translate(959.2,666.8) rotate(79.22)" x="-252.4" y="6.34" font-size="17.61" fill="#fff" stroke="#fff" text-anchor="start">Rule</text>
<text transform="translate(959.2,666.8) rotate(73.4)" x="-252.4" y="5.35" font-size="14.87" fill="#fff" stroke="#fff" text-anchor="start">Cognitive</text>
<text transform="translate(959.2,666.8) rotate(67.65)" x="-252.4" y="5.26" font-size="14.61" fill="#fff" stroke="#fff" text-anchor="start">Retention</text>
<text transform="translate(959.2,666.8) rotate(62)" x="-252.4" y="5.09" font-size="14.13" fill="#fff" stroke="#fff" text-anchor="start">Familiarity</text>
<text transform="translate(959.2,666.8) rotate(56.45)" x="-252.4" y="4.29" font-size="11.91" fill="#fff" stroke="#fff" text-anchor="start">Decision making</text>
<text transform="translate(959.2,666.8) rotate(50.9)" x="-252.4" y="5.4" font-size="15" fill="#fff" stroke="#fff" text-anchor="start">Thought</text>
<text transform="translate(959.2,666.8) rotate(45.35)" x="-252.4" y="4.23" font-size="11.75" fill="#fff" stroke="#fff" text-anchor="start">Memory retrieval</text>
<text transform="translate(959.2,666.8) rotate(39.9)" x="-252.4" y="4.87" font-size="13.54" fill="#fff" stroke="#fff" text-anchor="start">Knowledge</text>
<text transform="translate(959.2,666.8) rotate(34.5)" x="-252.4" y="4.17" font-size="11.59" fill="#fff" stroke="#fff" text-anchor="start">Episodic memory</text>
<text transform="translate(959.2,666.8) rotate(29.25)" x="-252.4" y="5.13" font-size="14.25" fill="#fff" stroke="#fff" text-anchor="start">Priming</text>
<text transform="translate(959.2,666.8) rotate(24.05)" x="-252.4" y="4.38" font-size="12.17" fill="#fff" stroke="#fff" text-anchor="start">Consciousness</text>
<text transform="translate(959.2,666.8) rotate(18.8)" x="-252.4" y="5.51" font-size="15.32" fill="#fff" stroke="#fff" text-anchor="start">Belief</text>
<text transform="translate(959.2,666.8) rotate(13.62)" x="-252.4" y="5.58" font-size="15.5" fill="#fff" stroke="#fff" text-anchor="start">Gaze</text>
<text transform="translate(959.2,666.8) rotate(8.53)" x="-252.4" y="4.63" font-size="12.85" fill="#fff" stroke="#fff" text-anchor="start">Impulsivity</text>
<text transform="translate(959.2,666.8) rotate(3.49)" x="-252.4" y="3.54" font-size="9.83" fill="#fff" stroke="#fff" text-anchor="start">Reinforcement learning</text>
<text transform="translate(959.2,666.8) rotate(-1.32)" x="-252.4" y="5.14" font-size="14.28" fill="#fff" stroke="#fff" text-anchor="start">Risk</text>
<text transform="translate(959.2,666.8) rotate(-5.9)" x="-252.4" y="4.93" font-size="13.7" fill="#fff" stroke="#fff" text-anchor="start">Recall</text>
<text transform="translate(959.2,666.8) rotate(-10.5)" x="-252.4" y="3.2" font-size="8.89" fill="#fff" stroke="#fff" text-anchor="start">Aotobiographical memory</text>
<text transform="translate(959.2,666.8) rotate(-15.07)" x="-252.4" y="4.6" font-size="12.78" fill="#fff" stroke="#fff" text-anchor="start">Concept</text>
<text transform="translate(959.2,666.8) rotate(-19.56)" x="-252.4" y="3.78" font-size="10.51" fill="#fff" stroke="#fff" text-anchor="start">Social cognition</text>
<text transform="translate(959.2,666.8) rotate(-23.81)" x="-252.4" y="4.11" font-size="11.4" fill="#fff" stroke="#fff" text-anchor="start">Psychosis</text>
<text transform="translate(959.2,666.8) rotate(-28.03)" x="-252.4" y="4.31" font-size="11.98" fill="#fff" stroke="#fff" text-anchor="start">Inference</text>
<text transform="translate(959.2,666.8) rotate(-32.3)" x="-252.4" y="4.3" font-size="11.95" fill="#fff" stroke="#fff" text-anchor="start">Salience</text>
<text transform="translate(959.2,666.8) rotate(-36.55)" x="-252.4" y="3.54" font-size="9.82" fill="#fff" stroke="#fff" text-anchor="start">Semantic memory</text>
<text transform="translate(959.2,666.8) rotate(-40.65)" x="-252.4" y="2.94" font-size="8.16" fill="#fff" stroke="#fff" text-anchor="start">Sentence comprehension</text>
<text transform="translate(959.2,666.8) rotate(-44.65)" x="-252.4" y="3.78" font-size="10.51" fill="#fff" stroke="#fff" text-anchor="start">Hyperactivity</text>
<text transform="translate(959.2,666.8) rotate(-48.6)" x="-252.4" y="4.02" font-size="11.16" fill="#fff" stroke="#fff" text-anchor="start">Context</text>
<text transform="translate(959.2,666.8) rotate(-52.2)" x="-252.4" y="3.28" font-size="9.11" fill="#fff" stroke="#fff" text-anchor="start">Task difficulty</text>
<text transform="translate(959.2,666.8) rotate(-55.55)" x="-252.4" y="3.25" font-size="9.03" fill="#fff" stroke="#fff" text-anchor="start">Maintenance</text>
<text transform="translate(959.2,666.8) rotate(-60.95)" x="-252.4" y="6.43" font-size="17.87" fill="#1c1c1c" stroke="#1c1c1c" text-anchor="start">Induction</text>
<text transform="translate(959.2,666.8) rotate(-68.25)" x="-252.4" y="7.52" font-size="20.9" fill="#1c1c1c" stroke="#1c1c1c" text-anchor="start">Pain</text>
<text transform="translate(959.2,666.8) rotate(-75.28)" x="-252.4" y="6.16" font-size="17.12" fill="#1c1c1c" stroke="#1c1c1c" text-anchor="start">Listening</text>
<text transform="translate(959.2,666.8) rotate(-82.22)" x="-252.4" y="4.63" font-size="12.85" fill="#1c1c1c" stroke="#1c1c1c" text-anchor="start">Speech production</text>
<text transform="translate(959.2,666.8) rotate(-89)" x="-252.4" y="4.54" font-size="12.61" fill="#1c1c1c" stroke="#1c1c1c" text-anchor="start">Speech perception</text>
<text transform="translate(959.2,666.8) rotate(-275.62)" x="252.4" y="6.17" font-size="17.14" fill="#1c1c1c" stroke="#1c1c1c" text-anchor="end">Rhythm</text>
<text transform="translate(959.2,666.8) rotate(-282.12)" x="252.4" y="5.5" font-size="15.28" fill="#1c1c1c" stroke="#1c1c1c" text-anchor="end">Integration</text>
<text transform="translate(959.2,666.8) rotate(-288.52)" x="252.4" y="5.33" font-size="14.8" fill="#1c1c1c" stroke="#1c1c1c" text-anchor="end">Morphology</text>
<text transform="translate(959.2,666.8) rotate(-294.52)" x="252.4" y="5.09" font-size="14.14" fill="#1c1c1c" stroke="#1c1c1c" text-anchor="end">Perception</text>
<text transform="translate(959.2,666.8) rotate(-300.18)" x="252.4" y="4.9" font-size="13.61" fill="#1c1c1c" stroke="#1c1c1c" text-anchor="end">Anticipation</text>
<text transform="translate(959.2,666.8) rotate(-305.87)" x="252.4" y="5.56" font-size="15.43" fill="#1c1c1c" stroke="#1c1c1c" text-anchor="end">Balance</text>
<text transform="translate(959.2,666.8) rotate(-311.52)" x="252.4" y="4.75" font-size="13.2" fill="#1c1c1c" stroke="#1c1c1c" text-anchor="end">Multisensory</text>
<text transform="translate(959.2,666.8) rotate(-317.13)" x="252.4" y="4.32" font-size="11.99" fill="#1c1c1c" stroke="#1c1c1c" text-anchor="end">Facial expression</text>
<text transform="translate(959.2,666.8) rotate(-322.74)" x="252.4" y="5.01" font-size="13.92" fill="#1c1c1c" stroke="#1c1c1c" text-anchor="end">Movement</text>
<text transform="translate(959.2,666.8) rotate(-328.24)" x="252.4" y="4.81" font-size="13.35" fill="#1c1c1c" stroke="#1c1c1c" text-anchor="end">Localization</text>
<text transform="translate(959.2,666.8) rotate(-333.69)" x="252.4" y="4.6" font-size="12.78" fill="#1c1c1c" stroke="#1c1c1c" text-anchor="end">Motor control</text>
<text transform="translate(959.2,666.8) rotate(-339.1)" x="252.4" y="4.65" font-size="12.92" fill="#1c1c1c" stroke="#1c1c1c" text-anchor="end">Coordination</text>
<text transform="translate(959.2,666.8) rotate(-344.4)" x="252.4" y="4.35" font-size="12.09" fill="#1c1c1c" stroke="#1c1c1c" text-anchor="end">Discrimination</text>
<text transform="translate(959.2,666.8) rotate(-349.2)" x="252.4" y="4.48" font-size="12.45" fill="#1c1c1c" stroke="#1c1c1c" text-anchor="end">Imagery</text>
<text transform="translate(959.2,666.8) rotate(-353.62)" x="252.4" y="3.89" font-size="10.82" fill="#1c1c1c" stroke="#1c1c1c" text-anchor="end">Categorization</text>
<text transform="translate(959.2,666.8) rotate(-357.91)" x="252.4" y="4.35" font-size="12.07" fill="#1c1c1c" stroke="#1c1c1c" text-anchor="end">Naming</text>
</g>
<path id="arcNeg" d="M857.24 703.91A108.5 108.5 0 0 1 1031.8 586.17" fill="none"/>
<path id="arcPos" d="M873.29 752.71A121.5 121.5 0 0 0 1075.99 633.31" fill="none"/>
<g font-family="'Liberation Serif', serif" font-size="21.5">
<text fill="#fff" text-anchor="middle"><textPath href="#arcNeg" startOffset="50%">Negative correlation</textPath></text>
<text fill="#111" text-anchor="middle"><textPath href="#arcPos" startOffset="50%">Positive correlation</textPath></text>
</g>
<g font-family="'Liberation Serif', serif" font-size="11">
<text x="1083.6" y="664" fill="#fff" text-anchor="end">-0.74</text>
<text x="1083.4" y="677" fill="#111" text-anchor="end">0.41</text>
<text transform="translate(891.49,771.87) rotate(-57.2)" x="0" y="-2.2" fill="#fff">-0.33</text>
<text transform="translate(891.49,771.87) rotate(-57.2)" x="4" y="9.2" fill="#111">0.72</text>
</g>
<text x="960.3" y="672.7" font-family="'Liberation Serif', serif" font-size="32.5" fill="#000" text-anchor="middle">Cognition</text>
</g>
<g id="letters">
<g font-family="'Liberation Serif', serif" font-size="49.5" fill="#000">
<text x="66.3" y="73">a</text>
<text x="65.1" y="438">b</text>
<text x="673.9" y="437.8">c</text>
</g>
</g>
</svg>
</body>
</html>
